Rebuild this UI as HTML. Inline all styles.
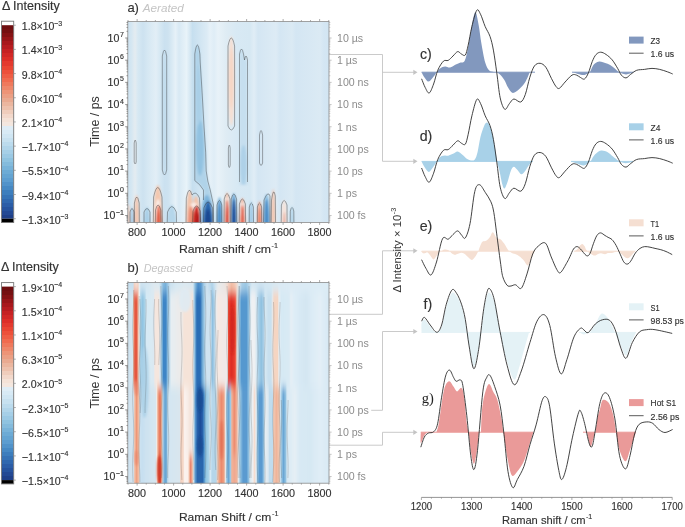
<!DOCTYPE html><html><head><meta charset="utf-8"><style>html,body{margin:0;padding:0;background:#fff;}body{width:685px;height:527px;overflow:hidden;font-family:"Liberation Sans", sans-serif;}</style></head><body><svg width="685" height="527" viewBox="0 0 685 527" style="display:block;will-change:transform">
<defs><filter id="blurV" x="-5%" y="-20%" width="110%" height="140%"><feGaussianBlur stdDeviation="0.5 5"/></filter><filter id="blur1" x="-50%" y="-50%" width="200%" height="200%"><feGaussianBlur stdDeviation="1.1"/></filter></defs>
<rect width="685" height="527" fill="#fff"/>
<text x="1.90" y="9.50" font-size="12.2" fill="#333" font-family='"Liberation Sans", sans-serif' textLength="57.9" lengthAdjust="spacingAndGlyphs" stroke="#333" stroke-width="0.15" >Δ Intensity</text>
<linearGradient id="cbg1" x1="0" y1="0" x2="0" y2="1"><stop offset="0.0000" stop-color="#6e0e10"/><stop offset="0.0208" stop-color="#6e0e10"/><stop offset="0.0208" stop-color="#751011"/><stop offset="0.0417" stop-color="#751011"/><stop offset="0.0417" stop-color="#851214"/><stop offset="0.0625" stop-color="#851214"/><stop offset="0.0625" stop-color="#981518"/><stop offset="0.0833" stop-color="#981518"/><stop offset="0.0833" stop-color="#a8181c"/><stop offset="0.1042" stop-color="#a8181c"/><stop offset="0.1042" stop-color="#b71c20"/><stop offset="0.1250" stop-color="#b71c20"/><stop offset="0.1250" stop-color="#c52123"/><stop offset="0.1458" stop-color="#c52123"/><stop offset="0.1458" stop-color="#d12726"/><stop offset="0.1667" stop-color="#d12726"/><stop offset="0.1667" stop-color="#dc2e28"/><stop offset="0.1875" stop-color="#dc2e28"/><stop offset="0.1875" stop-color="#e3392e"/><stop offset="0.2083" stop-color="#e3392e"/><stop offset="0.2083" stop-color="#e94533"/><stop offset="0.2292" stop-color="#e94533"/><stop offset="0.2292" stop-color="#ed513b"/><stop offset="0.2500" stop-color="#ed513b"/><stop offset="0.2500" stop-color="#ef5e45"/><stop offset="0.2708" stop-color="#ef5e45"/><stop offset="0.2708" stop-color="#f06b4f"/><stop offset="0.2917" stop-color="#f06b4f"/><stop offset="0.2917" stop-color="#ef795c"/><stop offset="0.3125" stop-color="#ef795c"/><stop offset="0.3125" stop-color="#ee876a"/><stop offset="0.3333" stop-color="#ee876a"/><stop offset="0.3333" stop-color="#ed9477"/><stop offset="0.3542" stop-color="#ed9477"/><stop offset="0.3542" stop-color="#eb9f84"/><stop offset="0.3750" stop-color="#eb9f84"/><stop offset="0.3750" stop-color="#e9aa91"/><stop offset="0.3958" stop-color="#e9aa91"/><stop offset="0.3958" stop-color="#ebb69f"/><stop offset="0.4167" stop-color="#ebb69f"/><stop offset="0.4167" stop-color="#edc1ad"/><stop offset="0.4375" stop-color="#edc1ad"/><stop offset="0.4375" stop-color="#efcdbc"/><stop offset="0.4583" stop-color="#efcdbc"/><stop offset="0.4583" stop-color="#f2d8cb"/><stop offset="0.4792" stop-color="#f2d8cb"/><stop offset="0.4792" stop-color="#f4e2d7"/><stop offset="0.5000" stop-color="#f4e2d7"/><stop offset="0.5000" stop-color="#f4e7df"/><stop offset="0.5208" stop-color="#f4e7df"/><stop offset="0.5208" stop-color="#dfedf6"/><stop offset="0.5417" stop-color="#dfedf6"/><stop offset="0.5417" stop-color="#d8eaf5"/><stop offset="0.5625" stop-color="#d8eaf5"/><stop offset="0.5625" stop-color="#d0e6f3"/><stop offset="0.5833" stop-color="#d0e6f3"/><stop offset="0.5833" stop-color="#c7e1f0"/><stop offset="0.6042" stop-color="#c7e1f0"/><stop offset="0.6042" stop-color="#bcdbed"/><stop offset="0.6250" stop-color="#bcdbed"/><stop offset="0.6250" stop-color="#b1d5ea"/><stop offset="0.6458" stop-color="#b1d5ea"/><stop offset="0.6458" stop-color="#a6cfe7"/><stop offset="0.6667" stop-color="#a6cfe7"/><stop offset="0.6667" stop-color="#9bc9e4"/><stop offset="0.6875" stop-color="#9bc9e4"/><stop offset="0.6875" stop-color="#8fc3e0"/><stop offset="0.7083" stop-color="#8fc3e0"/><stop offset="0.7083" stop-color="#84bbdc"/><stop offset="0.7292" stop-color="#84bbdc"/><stop offset="0.7292" stop-color="#78b3d9"/><stop offset="0.7500" stop-color="#78b3d9"/><stop offset="0.7500" stop-color="#6dabd5"/><stop offset="0.7708" stop-color="#6dabd5"/><stop offset="0.7708" stop-color="#64a4d2"/><stop offset="0.7917" stop-color="#64a4d2"/><stop offset="0.7917" stop-color="#5c9dd0"/><stop offset="0.8125" stop-color="#5c9dd0"/><stop offset="0.8125" stop-color="#5193ca"/><stop offset="0.8333" stop-color="#5193ca"/><stop offset="0.8333" stop-color="#4689c4"/><stop offset="0.8542" stop-color="#4689c4"/><stop offset="0.8542" stop-color="#3d7ebd"/><stop offset="0.8750" stop-color="#3d7ebd"/><stop offset="0.8750" stop-color="#3673b6"/><stop offset="0.8958" stop-color="#3673b6"/><stop offset="0.8958" stop-color="#3068af"/><stop offset="0.9167" stop-color="#3068af"/><stop offset="0.9167" stop-color="#2b5da7"/><stop offset="0.9375" stop-color="#2b5da7"/><stop offset="0.9375" stop-color="#26539e"/><stop offset="0.9583" stop-color="#26539e"/><stop offset="0.9583" stop-color="#234994"/><stop offset="0.9792" stop-color="#234994"/><stop offset="0.9792" stop-color="#1f4089"/><stop offset="1.0000" stop-color="#1f4089"/></linearGradient>
<rect x="1.5" y="21.20" width="12.2" height="201.30" fill="#fff"/>
<rect x="1.5" y="25.20" width="12.2" height="193.50" fill="url(#cbg1)"/>
<rect x="1.5" y="218.70" width="12.2" height="3.80" fill="#000"/>
<rect x="1.5" y="21.20" width="12.2" height="201.30" fill="none" stroke="#777" stroke-width="0.9"/>
<line x1="13.70" y1="25.20" x2="15.80" y2="25.20" stroke="#999" stroke-width="0.8" />
<text x="21.80" y="30.20" font-size="10.6" fill="#333" font-family='"Liberation Sans", sans-serif' stroke="#333" stroke-width="0.15" >1.8×10</text>
<text x="54.11" y="25.50" font-size="7.0" fill="#333" font-family='"Liberation Sans", sans-serif' stroke="#333" stroke-width="0.15" >−3</text>
<line x1="13.70" y1="49.39" x2="15.80" y2="49.39" stroke="#999" stroke-width="0.8" />
<text x="21.80" y="54.39" font-size="10.6" fill="#333" font-family='"Liberation Sans", sans-serif' stroke="#333" stroke-width="0.15" >1.4×10</text>
<text x="54.11" y="49.69" font-size="7.0" fill="#333" font-family='"Liberation Sans", sans-serif' stroke="#333" stroke-width="0.15" >−3</text>
<line x1="13.70" y1="73.58" x2="15.80" y2="73.58" stroke="#999" stroke-width="0.8" />
<text x="21.80" y="78.58" font-size="10.6" fill="#333" font-family='"Liberation Sans", sans-serif' stroke="#333" stroke-width="0.15" >9.8×10</text>
<text x="54.11" y="73.88" font-size="7.0" fill="#333" font-family='"Liberation Sans", sans-serif' stroke="#333" stroke-width="0.15" >−4</text>
<line x1="13.70" y1="97.76" x2="15.80" y2="97.76" stroke="#999" stroke-width="0.8" />
<text x="21.80" y="102.76" font-size="10.6" fill="#333" font-family='"Liberation Sans", sans-serif' stroke="#333" stroke-width="0.15" >6.0×10</text>
<text x="54.11" y="98.06" font-size="7.0" fill="#333" font-family='"Liberation Sans", sans-serif' stroke="#333" stroke-width="0.15" >−4</text>
<line x1="13.70" y1="121.95" x2="15.80" y2="121.95" stroke="#999" stroke-width="0.8" />
<text x="21.80" y="126.95" font-size="10.6" fill="#333" font-family='"Liberation Sans", sans-serif' stroke="#333" stroke-width="0.15" >2.1×10</text>
<text x="54.11" y="122.25" font-size="7.0" fill="#333" font-family='"Liberation Sans", sans-serif' stroke="#333" stroke-width="0.15" >−4</text>
<line x1="13.70" y1="146.14" x2="15.80" y2="146.14" stroke="#999" stroke-width="0.8" />
<text x="21.80" y="151.14" font-size="10.6" fill="#333" font-family='"Liberation Sans", sans-serif' stroke="#333" stroke-width="0.15" >−1.7×10</text>
<text x="60.30" y="146.44" font-size="7.0" fill="#333" font-family='"Liberation Sans", sans-serif' stroke="#333" stroke-width="0.15" >−4</text>
<line x1="13.70" y1="170.32" x2="15.80" y2="170.32" stroke="#999" stroke-width="0.8" />
<text x="21.80" y="175.32" font-size="10.6" fill="#333" font-family='"Liberation Sans", sans-serif' stroke="#333" stroke-width="0.15" >−5.5×10</text>
<text x="60.30" y="170.62" font-size="7.0" fill="#333" font-family='"Liberation Sans", sans-serif' stroke="#333" stroke-width="0.15" >−4</text>
<line x1="13.70" y1="194.51" x2="15.80" y2="194.51" stroke="#999" stroke-width="0.8" />
<text x="21.80" y="199.51" font-size="10.6" fill="#333" font-family='"Liberation Sans", sans-serif' stroke="#333" stroke-width="0.15" >−9.4×10</text>
<text x="60.30" y="194.81" font-size="7.0" fill="#333" font-family='"Liberation Sans", sans-serif' stroke="#333" stroke-width="0.15" >−4</text>
<line x1="13.70" y1="218.70" x2="15.80" y2="218.70" stroke="#999" stroke-width="0.8" />
<text x="21.80" y="223.70" font-size="10.6" fill="#333" font-family='"Liberation Sans", sans-serif' stroke="#333" stroke-width="0.15" >−1.3×10</text>
<text x="60.30" y="219.00" font-size="7.0" fill="#333" font-family='"Liberation Sans", sans-serif' stroke="#333" stroke-width="0.15" >−3</text>
<text x="0.90" y="270.60" font-size="12.2" fill="#333" font-family='"Liberation Sans", sans-serif' textLength="57.9" lengthAdjust="spacingAndGlyphs" stroke="#333" stroke-width="0.15" >Δ Intensity</text>
<linearGradient id="cbg2" x1="0" y1="0" x2="0" y2="1"><stop offset="0.0000" stop-color="#6e0e10"/><stop offset="0.0208" stop-color="#6e0e10"/><stop offset="0.0208" stop-color="#751011"/><stop offset="0.0417" stop-color="#751011"/><stop offset="0.0417" stop-color="#851214"/><stop offset="0.0625" stop-color="#851214"/><stop offset="0.0625" stop-color="#981518"/><stop offset="0.0833" stop-color="#981518"/><stop offset="0.0833" stop-color="#a8181c"/><stop offset="0.1042" stop-color="#a8181c"/><stop offset="0.1042" stop-color="#b71c20"/><stop offset="0.1250" stop-color="#b71c20"/><stop offset="0.1250" stop-color="#c52123"/><stop offset="0.1458" stop-color="#c52123"/><stop offset="0.1458" stop-color="#d12726"/><stop offset="0.1667" stop-color="#d12726"/><stop offset="0.1667" stop-color="#dc2e28"/><stop offset="0.1875" stop-color="#dc2e28"/><stop offset="0.1875" stop-color="#e3392e"/><stop offset="0.2083" stop-color="#e3392e"/><stop offset="0.2083" stop-color="#e94533"/><stop offset="0.2292" stop-color="#e94533"/><stop offset="0.2292" stop-color="#ed513b"/><stop offset="0.2500" stop-color="#ed513b"/><stop offset="0.2500" stop-color="#ef5e45"/><stop offset="0.2708" stop-color="#ef5e45"/><stop offset="0.2708" stop-color="#f06b4f"/><stop offset="0.2917" stop-color="#f06b4f"/><stop offset="0.2917" stop-color="#ef795c"/><stop offset="0.3125" stop-color="#ef795c"/><stop offset="0.3125" stop-color="#ee876a"/><stop offset="0.3333" stop-color="#ee876a"/><stop offset="0.3333" stop-color="#ed9477"/><stop offset="0.3542" stop-color="#ed9477"/><stop offset="0.3542" stop-color="#eb9f84"/><stop offset="0.3750" stop-color="#eb9f84"/><stop offset="0.3750" stop-color="#e9aa91"/><stop offset="0.3958" stop-color="#e9aa91"/><stop offset="0.3958" stop-color="#ebb69f"/><stop offset="0.4167" stop-color="#ebb69f"/><stop offset="0.4167" stop-color="#edc1ad"/><stop offset="0.4375" stop-color="#edc1ad"/><stop offset="0.4375" stop-color="#efcdbc"/><stop offset="0.4583" stop-color="#efcdbc"/><stop offset="0.4583" stop-color="#f2d8cb"/><stop offset="0.4792" stop-color="#f2d8cb"/><stop offset="0.4792" stop-color="#f4e2d7"/><stop offset="0.5000" stop-color="#f4e2d7"/><stop offset="0.5000" stop-color="#f4e7df"/><stop offset="0.5208" stop-color="#f4e7df"/><stop offset="0.5208" stop-color="#dfedf6"/><stop offset="0.5417" stop-color="#dfedf6"/><stop offset="0.5417" stop-color="#d8eaf5"/><stop offset="0.5625" stop-color="#d8eaf5"/><stop offset="0.5625" stop-color="#d0e6f3"/><stop offset="0.5833" stop-color="#d0e6f3"/><stop offset="0.5833" stop-color="#c7e1f0"/><stop offset="0.6042" stop-color="#c7e1f0"/><stop offset="0.6042" stop-color="#bcdbed"/><stop offset="0.6250" stop-color="#bcdbed"/><stop offset="0.6250" stop-color="#b1d5ea"/><stop offset="0.6458" stop-color="#b1d5ea"/><stop offset="0.6458" stop-color="#a6cfe7"/><stop offset="0.6667" stop-color="#a6cfe7"/><stop offset="0.6667" stop-color="#9bc9e4"/><stop offset="0.6875" stop-color="#9bc9e4"/><stop offset="0.6875" stop-color="#8fc3e0"/><stop offset="0.7083" stop-color="#8fc3e0"/><stop offset="0.7083" stop-color="#84bbdc"/><stop offset="0.7292" stop-color="#84bbdc"/><stop offset="0.7292" stop-color="#78b3d9"/><stop offset="0.7500" stop-color="#78b3d9"/><stop offset="0.7500" stop-color="#6dabd5"/><stop offset="0.7708" stop-color="#6dabd5"/><stop offset="0.7708" stop-color="#64a4d2"/><stop offset="0.7917" stop-color="#64a4d2"/><stop offset="0.7917" stop-color="#5c9dd0"/><stop offset="0.8125" stop-color="#5c9dd0"/><stop offset="0.8125" stop-color="#5193ca"/><stop offset="0.8333" stop-color="#5193ca"/><stop offset="0.8333" stop-color="#4689c4"/><stop offset="0.8542" stop-color="#4689c4"/><stop offset="0.8542" stop-color="#3d7ebd"/><stop offset="0.8750" stop-color="#3d7ebd"/><stop offset="0.8750" stop-color="#3673b6"/><stop offset="0.8958" stop-color="#3673b6"/><stop offset="0.8958" stop-color="#3068af"/><stop offset="0.9167" stop-color="#3068af"/><stop offset="0.9167" stop-color="#2b5da7"/><stop offset="0.9375" stop-color="#2b5da7"/><stop offset="0.9375" stop-color="#26539e"/><stop offset="0.9583" stop-color="#26539e"/><stop offset="0.9583" stop-color="#234994"/><stop offset="0.9792" stop-color="#234994"/><stop offset="0.9792" stop-color="#1f4089"/><stop offset="1.0000" stop-color="#1f4089"/></linearGradient>
<rect x="1.5" y="282.60" width="12.2" height="201.30" fill="#fff"/>
<rect x="1.5" y="286.60" width="12.2" height="193.50" fill="url(#cbg2)"/>
<rect x="1.5" y="480.10" width="12.2" height="3.80" fill="#000"/>
<rect x="1.5" y="282.60" width="12.2" height="201.30" fill="none" stroke="#777" stroke-width="0.9"/>
<line x1="13.70" y1="286.60" x2="15.80" y2="286.60" stroke="#999" stroke-width="0.8" />
<text x="21.80" y="291.60" font-size="10.6" fill="#333" font-family='"Liberation Sans", sans-serif' stroke="#333" stroke-width="0.15" >1.9×10</text>
<text x="54.11" y="286.90" font-size="7.0" fill="#333" font-family='"Liberation Sans", sans-serif' stroke="#333" stroke-width="0.15" >−4</text>
<line x1="13.70" y1="310.79" x2="15.80" y2="310.79" stroke="#999" stroke-width="0.8" />
<text x="21.80" y="315.79" font-size="10.6" fill="#333" font-family='"Liberation Sans", sans-serif' stroke="#333" stroke-width="0.15" >1.5×10</text>
<text x="54.11" y="311.09" font-size="7.0" fill="#333" font-family='"Liberation Sans", sans-serif' stroke="#333" stroke-width="0.15" >−4</text>
<line x1="13.70" y1="334.98" x2="15.80" y2="334.98" stroke="#999" stroke-width="0.8" />
<text x="21.80" y="339.98" font-size="10.6" fill="#333" font-family='"Liberation Sans", sans-serif' stroke="#333" stroke-width="0.15" >1.1×10</text>
<text x="54.11" y="335.28" font-size="7.0" fill="#333" font-family='"Liberation Sans", sans-serif' stroke="#333" stroke-width="0.15" >−4</text>
<line x1="13.70" y1="359.16" x2="15.80" y2="359.16" stroke="#999" stroke-width="0.8" />
<text x="21.80" y="364.16" font-size="10.6" fill="#333" font-family='"Liberation Sans", sans-serif' stroke="#333" stroke-width="0.15" >6.3×10</text>
<text x="54.11" y="359.46" font-size="7.0" fill="#333" font-family='"Liberation Sans", sans-serif' stroke="#333" stroke-width="0.15" >−5</text>
<line x1="13.70" y1="383.35" x2="15.80" y2="383.35" stroke="#999" stroke-width="0.8" />
<text x="21.80" y="388.35" font-size="10.6" fill="#333" font-family='"Liberation Sans", sans-serif' stroke="#333" stroke-width="0.15" >2.0×10</text>
<text x="54.11" y="383.65" font-size="7.0" fill="#333" font-family='"Liberation Sans", sans-serif' stroke="#333" stroke-width="0.15" >−5</text>
<line x1="13.70" y1="407.54" x2="15.80" y2="407.54" stroke="#999" stroke-width="0.8" />
<text x="21.80" y="412.54" font-size="10.6" fill="#333" font-family='"Liberation Sans", sans-serif' stroke="#333" stroke-width="0.15" >−2.3×10</text>
<text x="60.30" y="407.84" font-size="7.0" fill="#333" font-family='"Liberation Sans", sans-serif' stroke="#333" stroke-width="0.15" >−5</text>
<line x1="13.70" y1="431.73" x2="15.80" y2="431.73" stroke="#999" stroke-width="0.8" />
<text x="21.80" y="436.73" font-size="10.6" fill="#333" font-family='"Liberation Sans", sans-serif' stroke="#333" stroke-width="0.15" >−6.5×10</text>
<text x="60.30" y="432.03" font-size="7.0" fill="#333" font-family='"Liberation Sans", sans-serif' stroke="#333" stroke-width="0.15" >−5</text>
<line x1="13.70" y1="455.91" x2="15.80" y2="455.91" stroke="#999" stroke-width="0.8" />
<text x="21.80" y="460.91" font-size="10.6" fill="#333" font-family='"Liberation Sans", sans-serif' stroke="#333" stroke-width="0.15" >−1.1×10</text>
<text x="60.30" y="456.21" font-size="7.0" fill="#333" font-family='"Liberation Sans", sans-serif' stroke="#333" stroke-width="0.15" >−4</text>
<line x1="13.70" y1="480.10" x2="15.80" y2="480.10" stroke="#999" stroke-width="0.8" />
<text x="21.80" y="485.10" font-size="10.6" fill="#333" font-family='"Liberation Sans", sans-serif' stroke="#333" stroke-width="0.15" >−1.5×10</text>
<text x="60.30" y="480.40" font-size="7.0" fill="#333" font-family='"Liberation Sans", sans-serif' stroke="#333" stroke-width="0.15" >−4</text>
<clipPath id="clipA"><rect x="127.8" y="21.4" width="201.2" height="201.1"/></clipPath>
<linearGradient id="gaU" gradientUnits="userSpaceOnUse" x1="127.8" y1="0" x2="329.0" y2="0"><stop offset="0.0000" stop-color="#cfe3f1"/><stop offset="0.0159" stop-color="#d3e6f2"/><stop offset="0.0358" stop-color="#e4ecf1"/><stop offset="0.0507" stop-color="#d6e8f3"/><stop offset="0.0755" stop-color="#cde2f0"/><stop offset="0.1004" stop-color="#d6e8f3"/><stop offset="0.1402" stop-color="#e2eef6"/><stop offset="0.1600" stop-color="#d6e8f3"/><stop offset="0.1824" stop-color="#cbe1f0"/><stop offset="0.1998" stop-color="#cde2f0"/><stop offset="0.2147" stop-color="#d6e8f3"/><stop offset="0.2371" stop-color="#e6f1f8"/><stop offset="0.2545" stop-color="#d8e9f4"/><stop offset="0.2917" stop-color="#e8f3f9"/><stop offset="0.3091" stop-color="#d6e8f3"/><stop offset="0.3216" stop-color="#c6dfef"/><stop offset="0.3936" stop-color="#dcebf5"/><stop offset="0.4085" stop-color="#e6f1f8"/><stop offset="0.4284" stop-color="#dfedf6"/><stop offset="0.4483" stop-color="#e8f2f8"/><stop offset="0.4881" stop-color="#dfecf4"/><stop offset="0.5378" stop-color="#d8e9f4"/><stop offset="0.6074" stop-color="#d6e8f3"/><stop offset="0.6272" stop-color="#e0edf6"/><stop offset="0.6471" stop-color="#d4e6f3"/><stop offset="0.7366" stop-color="#ddebf5"/><stop offset="0.7565" stop-color="#d4e6f3"/><stop offset="0.8161" stop-color="#dbeaf4"/><stop offset="0.8360" stop-color="#d4e6f3"/><stop offset="0.9553" stop-color="#dbeaf4"/><stop offset="0.9751" stop-color="#d4e6f3"/><stop offset="1.0000" stop-color="#d2e5f2"/></linearGradient>
<g clip-path="url(#clipA)">
<rect x="127.8" y="21.4" width="201.2" height="201.1" fill="url(#gaU)"/>
<g filter="url(#blur1)">
<ellipse cx="164.5" cy="112" rx="2.6" ry="63" fill="#c3ddee"/>
<path d="M194.8,180.6 L194.8,54 Q197.4,36 199.9,54 L200.2,62 L202.2,94 L204,126 L205.7,152.7 L206.2,171 Q207.5,182 210.2,189.8 L213.5,205 L213.5,226 L203.5,226 L203.5,190 Q200,184 194.8,180.6 Z" fill="#b0d3e9"/>
<ellipse cx="200" cy="148" rx="4.0" ry="28" fill="#92c2e1"/>
<ellipse cx="198.5" cy="95" rx="2.6" ry="30" fill="#a9cfe7"/>
<ellipse cx="231.3" cy="81" rx="3.4" ry="45" fill="#f5dfd3"/>
<ellipse cx="231.3" cy="78" rx="2.0" ry="30" fill="#f6d6c4"/>
<path d="M239.5,185 L239.5,54 Q241.5,44 243.5,54 L247,62 L247.5,185 Z" fill="#c6dfef"/>
<ellipse cx="243.5" cy="165" rx="3.5" ry="20" fill="#aed1e8"/>
<ellipse cx="128.45" cy="226.00" rx="1.95" ry="22.00" fill="#f1d2c2" opacity="1.0"/>
<ellipse cx="132.00" cy="226.00" rx="2.00" ry="19.00" fill="#a6cce6" opacity="1.0"/>
<ellipse cx="136.75" cy="226.00" rx="2.75" ry="31.00" fill="#f1c8b4" opacity="1.0"/>
<ellipse cx="147.00" cy="226.00" rx="3.00" ry="19.00" fill="#a9cfe7" opacity="1.0"/>
<ellipse cx="157.85" cy="226.00" rx="4.65" ry="41.00" fill="#f3c8b0" opacity="1.0"/>
<ellipse cx="158.00" cy="226.00" rx="3.60" ry="27.00" fill="#faeee8" opacity="1.0"/>
<ellipse cx="158.60" cy="226.00" rx="3.00" ry="21.00" fill="#e8765c" opacity="1.0"/>
<ellipse cx="158.75" cy="226.00" rx="1.75" ry="14.00" fill="#e06048" opacity="1.0"/>
<ellipse cx="171.75" cy="226.00" rx="4.75" ry="21.00" fill="#b5d6ea" opacity="1.0"/>
<ellipse cx="189.75" cy="226.00" rx="3.75" ry="35.60" fill="#f3c4ab" opacity="1.0"/>
<ellipse cx="196.00" cy="226.00" rx="4.50" ry="30.00" fill="#f3c4ab" opacity="1.0"/>
<ellipse cx="193.90" cy="226.00" rx="7.10" ry="23.50" fill="#faeee8" opacity="1.0"/>
<ellipse cx="190.95" cy="226.00" rx="3.55" ry="20.00" fill="#ec8f73" opacity="1.0"/>
<ellipse cx="196.50" cy="226.00" rx="4.00" ry="20.30" fill="#d0302a" opacity="1.0"/>
<ellipse cx="197.30" cy="226.00" rx="2.50" ry="14.00" fill="#b51d1d" opacity="1.0"/>
<ellipse cx="206.75" cy="226.00" rx="6.25" ry="31.00" fill="#7fb5dc" opacity="1.0"/>
<ellipse cx="208.10" cy="226.00" rx="4.90" ry="25.00" fill="#2a66ad" opacity="1.0"/>
<ellipse cx="208.00" cy="226.00" rx="3.00" ry="17.00" fill="#1b4790" opacity="1.0"/>
<ellipse cx="219.50" cy="226.00" rx="3.50" ry="29.00" fill="#8fc0e0" opacity="1.0"/>
<ellipse cx="219.50" cy="226.00" rx="2.10" ry="25.00" fill="#4a8cc8" opacity="1.0"/>
<ellipse cx="227.05" cy="226.00" rx="3.15" ry="33.80" fill="#f2c0a8" opacity="1.0"/>
<ellipse cx="227.10" cy="226.00" rx="2.50" ry="29.00" fill="#faeee8" opacity="1.0"/>
<ellipse cx="227.15" cy="226.00" rx="1.85" ry="26.00" fill="#d8402f" opacity="1.0"/>
<ellipse cx="233.80" cy="226.00" rx="3.00" ry="33.00" fill="#6aa6d4" opacity="1.0"/>
<ellipse cx="233.90" cy="226.00" rx="2.10" ry="27.00" fill="#1f4e9a" opacity="1.0"/>
<ellipse cx="242.35" cy="226.00" rx="3.35" ry="28.00" fill="#f3b59d" opacity="1.0"/>
<ellipse cx="242.40" cy="226.00" rx="2.60" ry="24.00" fill="#faeee8" opacity="1.0"/>
<ellipse cx="242.50" cy="226.00" rx="2.00" ry="21.00" fill="#e05a42" opacity="1.0"/>
<ellipse cx="251.30" cy="226.00" rx="2.30" ry="25.00" fill="#a3cbe6" opacity="1.0"/>
<ellipse cx="259.50" cy="226.00" rx="2.50" ry="25.00" fill="#f0a88e" opacity="1.0"/>
<ellipse cx="259.55" cy="226.00" rx="1.25" ry="18.00" fill="#e57a60" opacity="1.0"/>
<ellipse cx="266.60" cy="226.00" rx="3.60" ry="32.00" fill="#8fc0e0" opacity="1.0"/>
<ellipse cx="266.65" cy="226.00" rx="2.35" ry="27.00" fill="#4a8cc8" opacity="1.0"/>
<ellipse cx="273.30" cy="226.00" rx="2.10" ry="37.00" fill="#f3c6b0" opacity="1.0"/>
<ellipse cx="284.10" cy="226.00" rx="3.10" ry="26.00" fill="#f6e3da" opacity="1.0"/>
<ellipse cx="284.40" cy="226.00" rx="0.80" ry="14.00" fill="#e08a76" opacity="1.0"/>
<ellipse cx="292.00" cy="226.00" rx="2.00" ry="20.00" fill="#b3d5ea" opacity="1.0"/>
</g>
<path d="M162.3,170 L162.3,56 Q164.5,44 166.7,56 L166.7,170 Q164.5,180 162.3,170 Z" fill="none" stroke="#2a2a2a" stroke-width="0.5" opacity="0.8"/>
<path d="M134.3,223 L134.4,203 Q136.7,191 139.2,203 L139.3,223" fill="none" stroke="#2a2a2a" stroke-width="0.5" opacity="0.8"/>
<path d="M194.8,180.6 L194.8,54 Q197.4,36 199.9,54 L200.2,62 L202.2,94 L204,126 L205.7,152.7 L206.2,171 Q207.5,182 210.2,189.8 L213.5,205 L213.5,223" fill="none" stroke="#2a2a2a" stroke-width="0.5" opacity="0.8"/>
<path d="M194.8,180.6 Q200,184 203.5,190 L203.5,200" fill="none" stroke="#2a2a2a" stroke-width="0.5" opacity="0.8"/>
<path d="M228,126 L228,46 Q231.3,30 234.6,46 L234.6,126 Q231.3,134 228,126 Z" fill="none" stroke="#2a2a2a" stroke-width="0.5" opacity="0.8"/>
<path d="M239.5,182 L239.5,54 Q241.5,44 243.5,54 L244.5,60 Q246,52 247.5,60 L247.5,182" fill="none" stroke="#2a2a2a" stroke-width="0.5" opacity="0.8"/>
<path d="M259.5,163 L259.5,135 Q261,126 262.6,135 L262.6,163 Q261,168 259.5,163 Z" fill="none" stroke="#2a2a2a" stroke-width="0.5" opacity="0.8"/>
<path d="M228.4,165 L228.4,148 Q229.3,142 230.2,148 L230.2,165 Q229.3,170 228.4,165 Z" fill="none" stroke="#2a2a2a" stroke-width="0.5" opacity="0.8"/>
<path d="M134.2,162 L134.2,143 Q135.2,137 136.2,143 L136.2,162 Q135.2,166 134.2,162 Z" fill="none" stroke="#2a2a2a" stroke-width="0.5" opacity="0.8"/>
<path d="M153.3,223 L153.6,197 Q157.7,178 162,197 L162.4,223" fill="none" stroke="#2a2a2a" stroke-width="0.5" opacity="0.8"/>
<path d="M155.3,223 L155.5,210 Q158,200 160.8,210 L161,223" fill="none" stroke="#2a2a2a" stroke-width="0.5" opacity="0.8"/>
<path d="M186,223 L186.3,198 Q189,184 192,195 Q196,190 199.5,198 L200.5,223" fill="none" stroke="#2a2a2a" stroke-width="0.5" opacity="0.8"/>
<path d="M192.6,223 L193,211 Q196.5,201 200.2,211 L200.4,223" fill="none" stroke="#2a2a2a" stroke-width="0.5" opacity="0.8"/>
<path d="M167.2,223 L167.5,212 Q171.8,201 176.3,212 L176.5,223" fill="none" stroke="#2a2a2a" stroke-width="0.5" opacity="0.8"/>
<path d="M130,223 L130,212 Q132,205 134,212 L134,223" fill="none" stroke="#2a2a2a" stroke-width="0.5" opacity="0.8"/>
<path d="M144,223 L144,212 Q147,205 150,212 L150,223" fill="none" stroke="#2a2a2a" stroke-width="0.5" opacity="0.8"/>
<path d="M203.5,223 L203.8,208 Q208,196 212.6,208 L212.8,223" fill="none" stroke="#2a2a2a" stroke-width="0.5" opacity="0.8"/>
<path d="M217,223 L217,205 Q219.4,196 221.8,205 L221.8,223" fill="none" stroke="#2a2a2a" stroke-width="0.5" opacity="0.8"/>
<path d="M224,223 L224.2,199 Q227,188 230,199 L230.2,223" fill="none" stroke="#2a2a2a" stroke-width="0.5" opacity="0.8"/>
<path d="M231,223 L231.2,199 Q233.8,189 236.6,199 L236.8,223" fill="none" stroke="#2a2a2a" stroke-width="0.5" opacity="0.8"/>
<path d="M239.2,223 L239.4,204 Q242.3,194 245.4,204 L245.6,223" fill="none" stroke="#2a2a2a" stroke-width="0.5" opacity="0.8"/>
<path d="M249.2,223 L249.3,207 Q251.3,199 253.4,207 L253.5,223" fill="none" stroke="#2a2a2a" stroke-width="0.5" opacity="0.8"/>
<path d="M257.3,223 L257.4,207 Q259.5,199 261.6,207 L261.7,223" fill="none" stroke="#2a2a2a" stroke-width="0.5" opacity="0.8"/>
<path d="M263.5,223 L264,200 Q268,190 270,196 L270,223" fill="none" stroke="#2a2a2a" stroke-width="0.5" opacity="0.8"/>
<path d="M281.2,223 L281.4,205 Q284.1,196 287,205 L287.1,223" fill="none" stroke="#2a2a2a" stroke-width="0.5" opacity="0.8"/>
<path d="M271.2,223 L271.5,200 Q273.5,186 275.3,196 L275.5,223" fill="none" stroke="#2a2a2a" stroke-width="0.5" opacity="0.8"/>
<path d="M290.2,223 L290.3,211 Q292,204 293.8,211 L293.9,223" fill="none" stroke="#2a2a2a" stroke-width="0.5" opacity="0.8"/>
</g>
<clipPath id="clipB"><rect x="127.8" y="282.4" width="201.2" height="200.8"/></clipPath>
<linearGradient id="gbT" gradientUnits="userSpaceOnUse" x1="127.8" y1="0" x2="329.0" y2="0"><stop offset="0.0010" stop-color="#c9e1f0"/><stop offset="0.0258" stop-color="#c6dff0"/><stop offset="0.0333" stop-color="#f3d6c8"/><stop offset="0.0422" stop-color="#f6e0d5"/><stop offset="0.0507" stop-color="#f3d6c8"/><stop offset="0.0582" stop-color="#e3edf4"/><stop offset="0.0656" stop-color="#cfe3f1"/><stop offset="0.1004" stop-color="#d3e6f2"/><stop offset="0.1302" stop-color="#dde9f1"/><stop offset="0.1551" stop-color="#dbeaf3"/><stop offset="0.1650" stop-color="#bcd9ec"/><stop offset="0.1750" stop-color="#8abde0"/><stop offset="0.1874" stop-color="#7ab3dc"/><stop offset="0.1998" stop-color="#9fc9e5"/><stop offset="0.2097" stop-color="#c9e0ef"/><stop offset="0.2396" stop-color="#d6e8f3"/><stop offset="0.2843" stop-color="#dbe9f2"/><stop offset="0.3241" stop-color="#d6e8f3"/><stop offset="0.3340" stop-color="#8fc0e0"/><stop offset="0.3489" stop-color="#4a8cc8"/><stop offset="0.3638" stop-color="#5a9ad0"/><stop offset="0.3787" stop-color="#a9cfe7"/><stop offset="0.3936" stop-color="#cfe3f1"/><stop offset="0.4185" stop-color="#b0d3e9"/><stop offset="0.4284" stop-color="#c6dff0"/><stop offset="0.4483" stop-color="#e6ebee"/><stop offset="0.4831" stop-color="#ebe4e1"/><stop offset="0.4980" stop-color="#f3d6c8"/><stop offset="0.5154" stop-color="#f2c0a8"/><stop offset="0.5278" stop-color="#f3c8b2"/><stop offset="0.5427" stop-color="#f1dcd0"/><stop offset="0.5527" stop-color="#dce9f2"/><stop offset="0.5676" stop-color="#a9cfe7"/><stop offset="0.5875" stop-color="#9dc9e5"/><stop offset="0.6024" stop-color="#b9d8ec"/><stop offset="0.6173" stop-color="#d6e8f3"/><stop offset="0.6571" stop-color="#cfe3f1"/><stop offset="0.7167" stop-color="#d6e8f3"/><stop offset="0.7565" stop-color="#dbeaf4"/><stop offset="0.8559" stop-color="#dcebf5"/><stop offset="1.0000" stop-color="#dcecf5"/></linearGradient>
<linearGradient id="gbU" gradientUnits="userSpaceOnUse" x1="127.8" y1="0" x2="329.0" y2="0"><stop offset="0.0025" stop-color="#cfe3f1"/><stop offset="0.0234" stop-color="#d6e6ef"/><stop offset="0.0273" stop-color="#f2c0a8"/><stop offset="0.0348" stop-color="#e5583f"/><stop offset="0.0452" stop-color="#e5583f"/><stop offset="0.0517" stop-color="#f2c0a8"/><stop offset="0.0577" stop-color="#f4f1f0"/><stop offset="0.0636" stop-color="#a9d2e8"/><stop offset="0.0741" stop-color="#8fc4e2"/><stop offset="0.0845" stop-color="#a9d2e8"/><stop offset="0.0929" stop-color="#d6eaf5"/><stop offset="0.1277" stop-color="#dbe9f2"/><stop offset="0.1352" stop-color="#f5e6de"/><stop offset="0.1541" stop-color="#f5e6de"/><stop offset="0.1600" stop-color="#dceaf3"/><stop offset="0.1690" stop-color="#8fc0e0"/><stop offset="0.1774" stop-color="#3d85c6"/><stop offset="0.1899" stop-color="#3d85c6"/><stop offset="0.1983" stop-color="#8fc0e0"/><stop offset="0.2073" stop-color="#bcd9ec"/><stop offset="0.2147" stop-color="#e6eef3"/><stop offset="0.2694" stop-color="#ede9e7"/><stop offset="0.2793" stop-color="#f5e3d8"/><stop offset="0.3216" stop-color="#f5e3d8"/><stop offset="0.3280" stop-color="#c0dcee"/><stop offset="0.3355" stop-color="#6aa6d4"/><stop offset="0.3429" stop-color="#2a6db5"/><stop offset="0.3603" stop-color="#2a6db5"/><stop offset="0.3698" stop-color="#6aa6d4"/><stop offset="0.3817" stop-color="#a9cfe7"/><stop offset="0.3887" stop-color="#cfe3f1"/><stop offset="0.4110" stop-color="#cfe3f1"/><stop offset="0.4210" stop-color="#8fc0e0"/><stop offset="0.4294" stop-color="#a9cfe7"/><stop offset="0.4384" stop-color="#e9edf0"/><stop offset="0.4483" stop-color="#f6e9e2"/><stop offset="0.4906" stop-color="#efe9e9"/><stop offset="0.4960" stop-color="#eee2df"/><stop offset="0.5000" stop-color="#e8503a"/><stop offset="0.5070" stop-color="#e8352a"/><stop offset="0.5144" stop-color="#dc2c25"/><stop offset="0.5293" stop-color="#e83a2c"/><stop offset="0.5368" stop-color="#f06a50"/><stop offset="0.5417" stop-color="#dcd4d0"/><stop offset="0.5497" stop-color="#c8dde9"/><stop offset="0.5557" stop-color="#8dbfe0"/><stop offset="0.5651" stop-color="#5598cf"/><stop offset="0.5900" stop-color="#5598cf"/><stop offset="0.6014" stop-color="#8dbfe0"/><stop offset="0.6088" stop-color="#d6e8f3"/><stop offset="0.6163" stop-color="#f0f2f4"/><stop offset="0.6312" stop-color="#eef0f2"/><stop offset="0.6397" stop-color="#d6e8f3"/><stop offset="0.6501" stop-color="#a9cfe7"/><stop offset="0.6635" stop-color="#8dc0e0"/><stop offset="0.6750" stop-color="#a9cfe7"/><stop offset="0.6819" stop-color="#d6e8f3"/><stop offset="0.6993" stop-color="#c8e0ef"/><stop offset="0.7117" stop-color="#c8e0ef"/><stop offset="0.7197" stop-color="#e8e6e6"/><stop offset="0.7266" stop-color="#f5d5c2"/><stop offset="0.7440" stop-color="#f5d5c2"/><stop offset="0.7515" stop-color="#e6eef3"/><stop offset="0.7634" stop-color="#d6e9f4"/><stop offset="0.8012" stop-color="#d9eaf4"/><stop offset="0.8111" stop-color="#e6eff5"/><stop offset="0.8260" stop-color="#dfedf6"/><stop offset="0.8559" stop-color="#d8e9f4"/><stop offset="0.8857" stop-color="#d3e6f2"/><stop offset="0.9155" stop-color="#dcebf5"/><stop offset="0.9553" stop-color="#e3eff7"/><stop offset="0.9801" stop-color="#dcebf5"/><stop offset="1.0000" stop-color="#d6e8f3"/></linearGradient>
<linearGradient id="gbL" gradientUnits="userSpaceOnUse" x1="127.8" y1="0" x2="329.0" y2="0"><stop offset="0.0025" stop-color="#cfe3f1"/><stop offset="0.0283" stop-color="#d3e3ee"/><stop offset="0.0338" stop-color="#f2c0a8"/><stop offset="0.0437" stop-color="#ef9474"/><stop offset="0.0547" stop-color="#f2c0a8"/><stop offset="0.0606" stop-color="#cde2f0"/><stop offset="0.0706" stop-color="#c6dff0"/><stop offset="0.0905" stop-color="#cde2f0"/><stop offset="0.1377" stop-color="#d6e6f0"/><stop offset="0.1441" stop-color="#f4ece8"/><stop offset="0.1481" stop-color="#f0b49a"/><stop offset="0.1561" stop-color="#ea7c5f"/><stop offset="0.1620" stop-color="#ea7c5f"/><stop offset="0.1680" stop-color="#f0b49a"/><stop offset="0.1750" stop-color="#a9cfe7"/><stop offset="0.1839" stop-color="#6aa6d4"/><stop offset="0.1914" stop-color="#6aa6d4"/><stop offset="0.1973" stop-color="#b5d6ea"/><stop offset="0.2048" stop-color="#d3e6f2"/><stop offset="0.2570" stop-color="#d9e6ee"/><stop offset="0.2634" stop-color="#f3d0be"/><stop offset="0.2758" stop-color="#f5d9c9"/><stop offset="0.2823" stop-color="#fbf3ef"/><stop offset="0.2992" stop-color="#f7ece6"/><stop offset="0.3067" stop-color="#f5e6de"/><stop offset="0.3121" stop-color="#f5e4dc"/><stop offset="0.3206" stop-color="#f3e8e4"/><stop offset="0.3270" stop-color="#dcecf4"/><stop offset="0.3350" stop-color="#5a9ad0"/><stop offset="0.3464" stop-color="#2560aa"/><stop offset="0.3603" stop-color="#1a4c98"/><stop offset="0.3713" stop-color="#2560aa"/><stop offset="0.3787" stop-color="#4a8cc8"/><stop offset="0.3877" stop-color="#8fc4e2"/><stop offset="0.4011" stop-color="#a9d2e8"/><stop offset="0.4110" stop-color="#d6eaf5"/><stop offset="0.4185" stop-color="#b5d6ea"/><stop offset="0.4384" stop-color="#b5d6ea"/><stop offset="0.4458" stop-color="#f0d0c0"/><stop offset="0.4558" stop-color="#f0a080"/><stop offset="0.4657" stop-color="#ec8a6e"/><stop offset="0.4781" stop-color="#f0a080"/><stop offset="0.4856" stop-color="#e8e6e6"/><stop offset="0.4911" stop-color="#9dc9e5"/><stop offset="0.5005" stop-color="#6aa6d4"/><stop offset="0.5104" stop-color="#9dc9e5"/><stop offset="0.5169" stop-color="#f0b49a"/><stop offset="0.5293" stop-color="#ec8a6e"/><stop offset="0.5427" stop-color="#f0b49a"/><stop offset="0.5497" stop-color="#e9edf0"/><stop offset="0.5606" stop-color="#8dbfe0"/><stop offset="0.5726" stop-color="#5a9ad0"/><stop offset="0.5900" stop-color="#5a9ad0"/><stop offset="0.6004" stop-color="#8dbfe0"/><stop offset="0.6074" stop-color="#d6e8f3"/><stop offset="0.6213" stop-color="#eef0f2"/><stop offset="0.6297" stop-color="#f5dccf"/><stop offset="0.6382" stop-color="#e6eef3"/><stop offset="0.6446" stop-color="#8dbfe0"/><stop offset="0.6546" stop-color="#5a9ad0"/><stop offset="0.6670" stop-color="#5a9ad0"/><stop offset="0.6769" stop-color="#9dc9e5"/><stop offset="0.6819" stop-color="#e6eef3"/><stop offset="0.6968" stop-color="#dde9f2"/><stop offset="0.7043" stop-color="#c0dcee"/><stop offset="0.7192" stop-color="#c0dcee"/><stop offset="0.7247" stop-color="#f2c8b2"/><stop offset="0.7391" stop-color="#f0b49a"/><stop offset="0.7530" stop-color="#f2c8b2"/><stop offset="0.7589" stop-color="#c9e0ef"/><stop offset="0.7664" stop-color="#8dbfe0"/><stop offset="0.7739" stop-color="#6aa6d4"/><stop offset="0.7838" stop-color="#8dbfe0"/><stop offset="0.7913" stop-color="#d6e8f3"/><stop offset="0.8012" stop-color="#dcebf5"/><stop offset="0.8310" stop-color="#e5eff5"/><stop offset="0.8559" stop-color="#d8e9f4"/><stop offset="0.9056" stop-color="#d6e8f3"/><stop offset="0.9553" stop-color="#e0edf6"/><stop offset="1.0000" stop-color="#d8e9f4"/></linearGradient>
<linearGradient id="gbB" gradientUnits="userSpaceOnUse" x1="127.8" y1="0" x2="329.0" y2="0"><stop offset="0.0025" stop-color="#cfe3f1"/><stop offset="0.0283" stop-color="#d3e3ee"/><stop offset="0.0338" stop-color="#f2c0a8"/><stop offset="0.0437" stop-color="#f0a080"/><stop offset="0.0547" stop-color="#f2c0a8"/><stop offset="0.0606" stop-color="#cde2f0"/><stop offset="0.0706" stop-color="#c6dff0"/><stop offset="0.0905" stop-color="#cde2f0"/><stop offset="0.1377" stop-color="#d6e6f0"/><stop offset="0.1441" stop-color="#f4ece8"/><stop offset="0.1481" stop-color="#f0b49a"/><stop offset="0.1561" stop-color="#dc4a35"/><stop offset="0.1620" stop-color="#dc4a35"/><stop offset="0.1680" stop-color="#f0b49a"/><stop offset="0.1750" stop-color="#a9cfe7"/><stop offset="0.1839" stop-color="#6aa6d4"/><stop offset="0.1914" stop-color="#6aa6d4"/><stop offset="0.1973" stop-color="#b5d6ea"/><stop offset="0.2048" stop-color="#d3e6f2"/><stop offset="0.2570" stop-color="#d9e6ee"/><stop offset="0.2634" stop-color="#f3d0be"/><stop offset="0.2758" stop-color="#f5d9c9"/><stop offset="0.2823" stop-color="#fbf3ef"/><stop offset="0.2992" stop-color="#fbf0ea"/><stop offset="0.3067" stop-color="#f0b49a"/><stop offset="0.3121" stop-color="#e8806a"/><stop offset="0.3206" stop-color="#f0b49a"/><stop offset="0.3270" stop-color="#dcecf4"/><stop offset="0.3350" stop-color="#5a9ad0"/><stop offset="0.3464" stop-color="#2a66ad"/><stop offset="0.3603" stop-color="#2a66ad"/><stop offset="0.3713" stop-color="#2a66ad"/><stop offset="0.3787" stop-color="#4a8cc8"/><stop offset="0.3877" stop-color="#8fc4e2"/><stop offset="0.4011" stop-color="#a9d2e8"/><stop offset="0.4110" stop-color="#d6eaf5"/><stop offset="0.4185" stop-color="#b5d6ea"/><stop offset="0.4384" stop-color="#b5d6ea"/><stop offset="0.4458" stop-color="#f0d0c0"/><stop offset="0.4558" stop-color="#f0a080"/><stop offset="0.4657" stop-color="#ec8a6e"/><stop offset="0.4781" stop-color="#f0a080"/><stop offset="0.4856" stop-color="#e8e6e6"/><stop offset="0.4911" stop-color="#9dc9e5"/><stop offset="0.5005" stop-color="#6aa6d4"/><stop offset="0.5104" stop-color="#9dc9e5"/><stop offset="0.5169" stop-color="#f0b49a"/><stop offset="0.5293" stop-color="#f0a890"/><stop offset="0.5427" stop-color="#f0b49a"/><stop offset="0.5497" stop-color="#e9edf0"/><stop offset="0.5606" stop-color="#8dbfe0"/><stop offset="0.5726" stop-color="#5a9ad0"/><stop offset="0.5900" stop-color="#5a9ad0"/><stop offset="0.6004" stop-color="#8dbfe0"/><stop offset="0.6074" stop-color="#d6e8f3"/><stop offset="0.6213" stop-color="#eef0f2"/><stop offset="0.6297" stop-color="#f5dccf"/><stop offset="0.6382" stop-color="#e6eef3"/><stop offset="0.6446" stop-color="#8dbfe0"/><stop offset="0.6546" stop-color="#5a9ad0"/><stop offset="0.6670" stop-color="#5a9ad0"/><stop offset="0.6769" stop-color="#9dc9e5"/><stop offset="0.6819" stop-color="#e6eef3"/><stop offset="0.6968" stop-color="#dde9f2"/><stop offset="0.7043" stop-color="#c0dcee"/><stop offset="0.7192" stop-color="#c0dcee"/><stop offset="0.7247" stop-color="#f2c8b2"/><stop offset="0.7391" stop-color="#f0b49a"/><stop offset="0.7530" stop-color="#f2c8b2"/><stop offset="0.7589" stop-color="#c9e0ef"/><stop offset="0.7664" stop-color="#8dbfe0"/><stop offset="0.7739" stop-color="#6aa6d4"/><stop offset="0.7838" stop-color="#8dbfe0"/><stop offset="0.7913" stop-color="#d6e8f3"/><stop offset="0.8012" stop-color="#dcebf5"/><stop offset="0.8310" stop-color="#e5eff5"/><stop offset="0.8559" stop-color="#d8e9f4"/><stop offset="0.9056" stop-color="#d6e8f3"/><stop offset="0.9553" stop-color="#e0edf6"/><stop offset="1.0000" stop-color="#d8e9f4"/></linearGradient>
<g clip-path="url(#clipB)">
<rect x="127.8" y="282.4" width="201.2" height="200.8" fill="url(#gbU)"/>
<g filter="url(#blurV)">
<rect x="127.8" y="262.4" width="201.2" height="29.600000000000023" fill="url(#gbT)"/>
<rect x="127.8" y="292" width="201.2" height="95" fill="url(#gbU)"/>
<rect x="127.8" y="387" width="201.2" height="68" fill="url(#gbL)"/>
<rect x="127.8" y="455" width="201.2" height="48.19999999999999" fill="url(#gbB)"/>
</g>
<g filter="url(#blur1)">
<ellipse cx="200.0" cy="400" rx="3.0" ry="12" fill="#174c94" opacity="0.9"/>
<ellipse cx="144.5" cy="382" rx="4.2" ry="36" fill="#acd1e8" opacity="0.9"/>
<ellipse cx="200.0" cy="446" rx="3.0" ry="10" fill="#174c94" opacity="0.8"/>
<ellipse cx="159.3" cy="470" rx="2.2" ry="14" fill="#d03a2a" opacity="0.9"/>
<ellipse cx="185.0" cy="300" rx="6.0" ry="12" fill="#dfebf3" opacity="0.9"/>
<ellipse cx="232.5" cy="330" rx="2.5" ry="25" fill="#d02418" opacity="0.7"/>
<ellipse cx="136.3" cy="388" rx="1.6" ry="8" fill="#e8856a" opacity="0.8"/>
<ellipse cx="136.3" cy="458" rx="1.6" ry="8" fill="#e8856a" opacity="0.8"/>
<ellipse cx="221.5" cy="440" rx="1.8" ry="20" fill="#e06a50" opacity="0.8"/>
</g>
<path d="M133.72,290.00 C133.72,291.00 133.76,294.00 133.74,296.00 C133.72,298.00 133.67,300.00 133.60,302.00 C133.54,304.00 133.44,306.00 133.35,308.00 C133.26,310.00 133.14,312.00 133.05,314.00 C132.96,316.00 132.86,318.00 132.80,320.00 C132.73,322.00 132.68,324.00 132.66,326.00 C132.64,328.00 132.65,330.00 132.68,332.00 C132.71,334.00 132.78,336.00 132.85,338.00 C132.92,340.00 133.03,342.00 133.12,344.00 C133.22,346.00 133.33,348.00 133.42,350.00 C133.50,352.00 133.59,354.00 133.65,356.00 C133.70,358.00 133.74,360.00 133.75,362.00 C133.76,364.00 133.73,366.00 133.69,368.00 C133.65,370.00 133.57,372.00 133.49,374.00 C133.41,376.00 133.30,378.00 133.21,380.00 C133.11,382.00 133.00,384.00 132.92,386.00 C132.84,388.00 132.76,390.00 132.72,392.00 C132.67,394.00 132.65,396.00 132.65,398.00 C132.66,400.00 132.69,402.00 132.75,404.00 C132.80,406.00 132.89,408.00 132.97,410.00 C133.06,412.00 133.17,414.00 133.27,416.00 C133.36,418.00 133.46,420.00 133.54,422.00 C133.61,424.00 133.68,426.00 133.71,428.00 C133.75,430.00 133.76,432.00 133.74,434.00 C133.72,436.00 133.67,438.00 133.61,440.00 C133.55,442.00 133.45,444.00 133.36,446.00 C133.27,448.00 133.16,450.00 133.06,452.00 C132.97,454.00 132.87,456.00 132.81,458.00 C132.74,460.00 132.69,462.00 132.66,464.00 C132.64,466.00 132.65,468.00 132.68,470.00 C132.71,472.00 132.77,474.00 132.84,476.00 C132.91,478.00 133.07,481.00 133.11,482.00" fill="none" stroke="#404040" stroke-width="0.45" opacity="0.45"/>
<path d="M139.22,296.00 C139.18,297.00 139.04,300.00 138.98,302.00 C138.92,304.00 138.87,306.00 138.86,308.00 C138.84,310.00 138.86,312.00 138.89,314.00 C138.93,316.00 139.00,318.00 139.08,320.00 C139.16,322.00 139.26,324.00 139.36,326.00 C139.45,328.00 139.56,330.00 139.65,332.00 C139.73,334.00 139.82,336.00 139.87,338.00 C139.92,340.00 139.95,342.00 139.95,344.00 C139.95,346.00 139.92,348.00 139.87,350.00 C139.83,352.00 139.74,354.00 139.66,356.00 C139.58,358.00 139.47,360.00 139.37,362.00 C139.28,364.00 139.17,366.00 139.09,368.00 C139.01,370.00 138.94,372.00 138.90,374.00 C138.86,376.00 138.84,378.00 138.85,380.00 C138.86,382.00 138.91,384.00 138.97,386.00 C139.02,388.00 139.12,390.00 139.20,392.00 C139.29,394.00 139.41,396.00 139.50,398.00 C139.59,400.00 139.70,402.00 139.77,404.00 C139.84,406.00 139.90,408.00 139.93,410.00 C139.95,412.00 139.96,414.00 139.93,416.00 C139.91,418.00 139.85,420.00 139.79,422.00 C139.72,424.00 139.62,426.00 139.53,428.00 C139.43,430.00 139.32,432.00 139.23,434.00 C139.14,436.00 139.05,438.00 138.98,440.00 C138.92,442.00 138.87,444.00 138.86,446.00 C138.84,448.00 138.85,450.00 138.89,452.00 C138.92,454.00 138.99,456.00 139.07,458.00 C139.14,460.00 139.25,462.00 139.34,464.00 C139.44,466.00 139.55,468.00 139.64,470.00 C139.72,472.00 139.81,474.00 139.86,476.00 C139.91,478.00 139.93,481.00 139.95,482.00" fill="none" stroke="#404040" stroke-width="0.45" opacity="0.45"/>
<path d="M139.89,299.00 C139.93,300.00 140.05,303.00 140.14,305.00 C140.23,307.00 140.35,309.00 140.44,311.00 C140.53,313.00 140.63,315.00 140.70,317.00 C140.76,319.00 140.82,321.00 140.84,323.00 C140.86,325.00 140.85,327.00 140.82,329.00 C140.79,331.00 140.73,333.00 140.66,335.00 C140.58,337.00 140.48,339.00 140.39,341.00 C140.29,343.00 140.18,345.00 140.09,347.00 C140.00,349.00 139.91,351.00 139.86,353.00 C139.80,355.00 139.76,357.00 139.75,359.00 C139.74,361.00 139.76,363.00 139.81,365.00 C139.85,367.00 139.92,369.00 140.00,371.00 C140.08,373.00 140.19,375.00 140.29,377.00 C140.38,379.00 140.49,381.00 140.57,383.00 C140.66,385.00 140.73,387.00 140.78,389.00 C140.83,391.00 140.85,393.00 140.85,395.00 C140.85,397.00 140.81,399.00 140.76,401.00 C140.71,403.00 140.62,405.00 140.53,407.00 C140.45,409.00 140.29,412.00 140.24,413.00" fill="none" stroke="#404040" stroke-width="0.45" opacity="0.45"/>
<path d="M146.02,299.00 C146.04,300.00 146.13,303.00 146.14,305.00 C146.16,307.00 146.15,309.00 146.11,311.00 C146.07,313.00 146.00,315.00 145.93,317.00 C145.85,319.00 145.75,321.00 145.65,323.00 C145.56,325.00 145.45,327.00 145.36,329.00 C145.27,331.00 145.19,333.00 145.14,335.00 C145.09,337.00 145.05,339.00 145.05,341.00 C145.05,343.00 145.07,345.00 145.12,347.00 C145.17,349.00 145.25,351.00 145.33,353.00 C145.42,355.00 145.53,357.00 145.62,359.00 C145.72,361.00 145.82,363.00 145.90,365.00 C145.98,367.00 146.06,369.00 146.10,371.00 C146.14,373.00 146.16,375.00 146.15,377.00 C146.14,379.00 146.10,381.00 146.04,383.00 C145.98,385.00 145.89,387.00 145.80,389.00 C145.71,391.00 145.60,393.00 145.51,395.00 C145.41,397.00 145.31,399.00 145.24,401.00 C145.17,403.00 145.11,405.00 145.08,407.00 C145.05,409.00 145.07,412.00 145.06,413.00" fill="none" stroke="#404040" stroke-width="0.45" opacity="0.45"/>
<path d="M154.60,299.00 C154.55,300.00 154.41,303.00 154.32,305.00 C154.22,307.00 154.11,309.00 154.03,311.00 C153.95,313.00 153.87,315.00 153.82,317.00 C153.77,319.00 153.75,321.00 153.75,323.00 C153.75,325.00 153.79,327.00 153.84,329.00 C153.89,331.00 153.98,333.00 154.06,335.00 C154.15,337.00 154.26,339.00 154.36,341.00 C154.45,343.00 154.56,345.00 154.63,347.00 C154.71,349.00 154.78,351.00 154.81,353.00 C154.85,355.00 154.86,357.00 154.84,359.00 C154.83,361.00 154.74,364.00 154.72,365.00" fill="none" stroke="#404040" stroke-width="0.45" opacity="0.45"/>
<path d="M158.70,299.00 C158.70,300.00 158.64,303.00 158.65,305.00 C158.66,307.00 158.70,309.00 158.76,311.00 C158.82,313.00 158.91,315.00 159.00,317.00 C159.08,319.00 159.20,321.00 159.29,323.00 C159.38,325.00 159.49,327.00 159.56,329.00 C159.63,331.00 159.69,333.00 159.72,335.00 C159.75,337.00 159.76,339.00 159.74,341.00 C159.71,343.00 159.66,345.00 159.59,347.00 C159.53,349.00 159.43,351.00 159.34,353.00 C159.24,355.00 159.13,357.00 159.04,359.00 C158.95,361.00 158.83,364.00 158.79,365.00" fill="none" stroke="#404040" stroke-width="0.45" opacity="0.45"/>
<path d="M160.85,286.00 C160.87,287.00 160.90,290.00 160.95,292.00 C161.01,294.00 161.09,296.00 161.18,298.00 C161.27,300.00 161.38,302.00 161.48,304.00 C161.57,306.00 161.67,308.00 161.75,310.00 C161.82,312.00 161.89,314.00 161.92,316.00 C161.95,318.00 161.96,320.00 161.94,322.00 C161.92,324.00 161.87,326.00 161.80,328.00 C161.74,330.00 161.64,332.00 161.55,334.00 C161.46,336.00 161.35,338.00 161.25,340.00 C161.16,342.00 161.07,344.00 161.00,346.00 C160.93,348.00 160.88,350.00 160.86,352.00 C160.84,354.00 160.85,356.00 160.88,358.00 C160.91,360.00 160.98,362.00 161.05,364.00 C161.12,366.00 161.23,368.00 161.32,370.00 C161.41,372.00 161.53,374.00 161.61,376.00 C161.70,378.00 161.79,380.00 161.85,382.00 C161.90,384.00 161.94,386.00 161.95,388.00 C161.96,390.00 161.93,392.00 161.89,394.00 C161.85,396.00 161.77,398.00 161.69,400.00 C161.61,402.00 161.50,404.00 161.41,406.00 C161.31,408.00 161.20,410.00 161.12,412.00 C161.04,414.00 160.96,416.00 160.92,418.00 C160.87,420.00 160.85,422.00 160.85,424.00 C160.86,426.00 160.89,428.00 160.94,430.00 C161.00,432.00 161.08,434.00 161.17,436.00 C161.26,438.00 161.37,440.00 161.46,442.00 C161.56,444.00 161.66,446.00 161.74,448.00 C161.81,450.00 161.88,452.00 161.91,454.00 C161.95,456.00 161.96,458.00 161.94,460.00 C161.92,462.00 161.87,464.00 161.81,466.00 C161.75,468.00 161.65,470.00 161.56,472.00 C161.47,474.00 161.31,477.00 161.27,478.00" fill="none" stroke="#404040" stroke-width="0.45" opacity="0.45"/>
<path d="M168.31,286.00 C168.35,287.00 168.50,290.00 168.57,292.00 C168.64,294.00 168.70,296.00 168.73,298.00 C168.75,300.00 168.76,302.00 168.73,304.00 C168.71,306.00 168.65,308.00 168.58,310.00 C168.51,312.00 168.41,314.00 168.32,316.00 C168.22,318.00 168.11,320.00 168.02,322.00 C167.93,324.00 167.84,326.00 167.78,328.00 C167.72,330.00 167.67,332.00 167.66,334.00 C167.64,336.00 167.66,338.00 167.69,340.00 C167.73,342.00 167.80,344.00 167.88,346.00 C167.95,348.00 168.06,350.00 168.15,352.00 C168.25,354.00 168.36,356.00 168.45,358.00 C168.53,360.00 168.61,362.00 168.67,364.00 C168.72,366.00 168.75,368.00 168.75,370.00 C168.75,372.00 168.72,374.00 168.67,376.00 C168.63,378.00 168.55,380.00 168.46,382.00 C168.38,384.00 168.27,386.00 168.17,388.00 C168.08,390.00 167.97,392.00 167.89,394.00 C167.81,396.00 167.74,398.00 167.70,400.00 C167.66,402.00 167.64,404.00 167.65,406.00 C167.66,408.00 167.71,410.00 167.77,412.00 C167.82,414.00 167.91,416.00 168.00,418.00 C168.09,420.00 168.20,422.00 168.30,424.00 C168.39,426.00 168.49,428.00 168.56,430.00 C168.64,432.00 168.70,434.00 168.73,436.00 C168.75,438.00 168.76,440.00 168.73,442.00 C168.71,444.00 168.65,446.00 168.59,448.00 C168.52,450.00 168.42,452.00 168.33,454.00 C168.24,456.00 168.12,458.00 168.03,460.00 C167.94,462.00 167.85,464.00 167.78,466.00 C167.72,468.00 167.67,470.00 167.66,472.00 C167.64,474.00 167.68,477.00 167.69,478.00" fill="none" stroke="#404040" stroke-width="0.45" opacity="0.45"/>
<path d="M181.00,312.00 C181.00,313.00 180.94,316.00 180.95,318.00 C180.96,320.00 181.00,322.00 181.06,324.00 C181.12,326.00 181.21,328.00 181.29,330.00 C181.38,332.00 181.50,334.00 181.59,336.00 C181.68,338.00 181.79,340.00 181.86,342.00 C181.93,344.00 181.99,346.00 182.02,348.00 C182.05,350.00 182.06,352.00 182.04,354.00 C182.01,356.00 181.96,358.00 181.89,360.00 C181.83,362.00 181.73,364.00 181.64,366.00 C181.54,368.00 181.43,370.00 181.34,372.00 C181.25,374.00 181.15,376.00 181.09,378.00 C181.03,380.00 180.98,382.00 180.96,384.00 C180.94,386.00 180.95,388.00 180.99,390.00 C181.02,392.00 181.09,394.00 181.16,396.00 C181.24,398.00 181.34,400.00 181.43,402.00 C181.53,404.00 181.64,406.00 181.73,408.00 C181.81,410.00 181.90,412.00 181.95,414.00 C182.01,416.00 182.04,418.00 182.05,420.00 C182.05,422.00 182.03,424.00 181.99,426.00 C181.94,428.00 181.86,430.00 181.78,432.00 C181.70,434.00 181.59,436.00 181.49,438.00 C181.40,440.00 181.29,442.00 181.21,444.00 C181.13,446.00 181.05,448.00 181.01,450.00 C180.97,452.00 180.94,454.00 180.95,456.00 C180.96,458.00 181.00,460.00 181.05,462.00 C181.11,464.00 181.20,466.00 181.28,468.00 C181.37,470.00 181.48,472.00 181.58,474.00 C181.67,476.00 181.80,479.00 181.85,480.00" fill="none" stroke="#404040" stroke-width="0.45" opacity="0.45"/>
<path d="M192.76,300.00 C192.78,301.00 192.82,304.00 192.88,306.00 C192.94,308.00 193.04,310.00 193.13,312.00 C193.22,314.00 193.33,316.00 193.42,318.00 C193.52,320.00 193.62,322.00 193.68,324.00 C193.75,326.00 193.81,328.00 193.83,330.00 C193.86,332.00 193.85,334.00 193.83,336.00 C193.80,338.00 193.74,340.00 193.67,342.00 C193.60,344.00 193.50,346.00 193.40,348.00 C193.31,350.00 193.20,352.00 193.11,354.00 C193.02,356.00 192.93,358.00 192.87,360.00 C192.81,362.00 192.77,364.00 192.75,366.00 C192.74,368.00 192.76,370.00 192.80,372.00 C192.84,374.00 192.91,376.00 192.99,378.00 C193.07,380.00 193.17,382.00 193.27,384.00 C193.36,386.00 193.47,388.00 193.56,390.00 C193.64,392.00 193.72,394.00 193.77,396.00 C193.82,398.00 193.85,400.00 193.85,402.00 C193.85,404.00 193.82,406.00 193.77,408.00 C193.72,410.00 193.63,412.00 193.55,414.00 C193.46,416.00 193.35,418.00 193.26,420.00 C193.16,422.00 193.06,424.00 192.98,426.00 C192.90,428.00 192.83,430.00 192.79,432.00 C192.76,434.00 192.74,436.00 192.76,438.00 C192.77,440.00 192.81,442.00 192.87,444.00 C192.93,446.00 193.03,448.00 193.12,450.00 C193.21,452.00 193.32,454.00 193.41,456.00 C193.51,458.00 193.61,460.00 193.68,462.00 C193.74,464.00 193.80,466.00 193.83,468.00 C193.86,470.00 193.86,472.00 193.83,474.00 C193.80,476.00 193.70,479.00 193.68,480.00" fill="none" stroke="#404040" stroke-width="0.45" opacity="0.45"/>
<path d="M204.84,286.00 C204.88,287.00 204.98,290.00 205.07,292.00 C205.15,294.00 205.27,296.00 205.36,298.00 C205.45,300.00 205.56,302.00 205.63,304.00 C205.71,306.00 205.78,308.00 205.81,310.00 C205.85,312.00 205.86,314.00 205.84,316.00 C205.83,318.00 205.78,320.00 205.71,322.00 C205.65,324.00 205.56,326.00 205.47,328.00 C205.37,330.00 205.26,332.00 205.17,334.00 C205.08,336.00 204.98,338.00 204.91,340.00 C204.84,342.00 204.79,344.00 204.77,346.00 C204.74,348.00 204.75,350.00 204.78,352.00 C204.80,354.00 204.87,356.00 204.94,358.00 C205.01,360.00 205.11,362.00 205.20,364.00 C205.30,366.00 205.41,368.00 205.50,370.00 C205.59,372.00 205.68,374.00 205.74,376.00 C205.79,378.00 205.84,380.00 205.85,382.00 C205.86,384.00 205.84,386.00 205.80,388.00 C205.76,390.00 205.68,392.00 205.61,394.00 C205.53,396.00 205.42,398.00 205.32,400.00 C205.23,402.00 205.12,404.00 205.04,406.00 C204.95,408.00 204.87,410.00 204.82,412.00 C204.78,414.00 204.75,416.00 204.75,418.00 C204.75,420.00 204.79,422.00 204.84,424.00 C204.89,426.00 204.97,428.00 205.06,430.00 C205.14,432.00 205.25,434.00 205.35,436.00 C205.44,438.00 205.55,440.00 205.63,442.00 C205.70,444.00 205.77,446.00 205.81,448.00 C205.84,450.00 205.86,452.00 205.84,454.00 C205.83,456.00 205.78,458.00 205.72,460.00 C205.66,462.00 205.57,464.00 205.48,466.00 C205.39,468.00 205.27,470.00 205.18,472.00 C205.09,474.00 204.96,477.00 204.92,478.00" fill="none" stroke="#404040" stroke-width="0.45" opacity="0.45"/>
<path d="M211.09,290.00 C211.10,291.00 211.15,294.00 211.15,296.00 C211.14,298.00 211.11,300.00 211.05,302.00 C211.00,304.00 210.91,306.00 210.83,308.00 C210.74,310.00 210.63,312.00 210.53,314.00 C210.44,316.00 210.33,318.00 210.26,320.00 C210.19,322.00 210.12,324.00 210.08,326.00 C210.05,328.00 210.04,330.00 210.06,332.00 C210.08,334.00 210.13,336.00 210.19,338.00 C210.25,340.00 210.35,342.00 210.44,344.00 C210.53,346.00 210.65,348.00 210.74,350.00 C210.83,352.00 210.93,354.00 210.99,356.00 C211.06,358.00 211.11,360.00 211.14,362.00 C211.16,364.00 211.15,366.00 211.12,368.00 C211.09,370.00 211.03,372.00 210.96,374.00 C210.88,376.00 210.78,378.00 210.69,380.00 C210.59,382.00 210.48,384.00 210.39,386.00 C210.31,388.00 210.22,390.00 210.16,392.00 C210.10,394.00 210.06,396.00 210.05,398.00 C210.04,400.00 210.06,402.00 210.10,404.00 C210.15,406.00 210.22,408.00 210.30,410.00 C210.38,412.00 210.49,414.00 210.58,416.00 C210.68,418.00 210.79,420.00 210.87,422.00 C210.95,424.00 211.03,426.00 211.08,428.00 C211.13,430.00 211.15,432.00 211.15,434.00 C211.15,436.00 211.11,438.00 211.06,440.00 C211.01,442.00 210.92,444.00 210.84,446.00 C210.75,448.00 210.64,450.00 210.54,452.00 C210.45,454.00 210.34,456.00 210.27,458.00 C210.19,460.00 210.12,462.00 210.09,464.00 C210.05,466.00 210.06,469.00 210.06,470.00" fill="none" stroke="#404040" stroke-width="0.45" opacity="0.45"/>
<path d="M215.79,290.00 C215.74,291.00 215.59,294.00 215.50,296.00 C215.41,298.00 215.30,300.00 215.23,302.00 C215.16,304.00 215.10,306.00 215.07,308.00 C215.05,310.00 215.04,312.00 215.07,314.00 C215.09,316.00 215.15,318.00 215.22,320.00 C215.28,322.00 215.38,324.00 215.48,326.00 C215.57,328.00 215.68,330.00 215.77,332.00 C215.86,334.00 215.96,336.00 216.02,338.00 C216.08,340.00 216.13,342.00 216.14,344.00 C216.16,346.00 216.15,348.00 216.11,350.00 C216.07,352.00 216.01,354.00 215.93,356.00 C215.85,358.00 215.75,360.00 215.65,362.00 C215.56,364.00 215.45,366.00 215.36,368.00 C215.28,370.00 215.19,372.00 215.14,374.00 C215.09,376.00 215.05,378.00 215.05,380.00 C215.05,382.00 215.07,384.00 215.12,386.00 C215.17,388.00 215.25,390.00 215.33,392.00 C215.41,394.00 215.52,396.00 215.62,398.00 C215.71,400.00 215.82,402.00 215.90,404.00 C215.98,406.00 216.05,408.00 216.10,410.00 C216.14,412.00 216.16,414.00 216.15,416.00 C216.14,418.00 216.10,420.00 216.04,422.00 C215.98,424.00 215.89,426.00 215.80,428.00 C215.72,430.00 215.60,432.00 215.51,434.00 C215.42,436.00 215.31,438.00 215.24,440.00 C215.17,442.00 215.11,444.00 215.08,446.00 C215.05,448.00 215.04,450.00 215.06,452.00 C215.09,454.00 215.14,456.00 215.21,458.00 C215.27,460.00 215.37,462.00 215.46,464.00 C215.56,466.00 215.71,469.00 215.76,470.00" fill="none" stroke="#404040" stroke-width="0.45" opacity="0.45"/>
<path d="M218.03,330.00 C218.01,331.00 217.95,334.00 217.88,336.00 C217.81,338.00 217.71,340.00 217.62,342.00 C217.53,344.00 217.41,346.00 217.32,348.00 C217.23,350.00 217.14,352.00 217.08,354.00 C217.02,356.00 216.97,358.00 216.96,360.00 C216.94,362.00 216.96,364.00 216.99,366.00 C217.03,368.00 217.10,370.00 217.18,372.00 C217.25,374.00 217.36,376.00 217.45,378.00 C217.55,380.00 217.66,382.00 217.74,384.00 C217.83,386.00 217.91,388.00 217.96,390.00 C218.02,392.00 218.05,394.00 218.05,396.00 C218.05,398.00 218.02,400.00 217.98,402.00 C217.93,404.00 217.85,406.00 217.76,408.00 C217.68,410.00 217.57,412.00 217.47,414.00 C217.38,416.00 217.27,418.00 217.19,420.00 C217.11,422.00 217.04,424.00 217.00,426.00 C216.96,428.00 216.94,430.00 216.95,432.00 C216.96,434.00 217.01,436.00 217.06,438.00 C217.12,440.00 217.21,442.00 217.30,444.00 C217.39,446.00 217.50,448.00 217.60,450.00 C217.69,452.00 217.79,454.00 217.86,456.00 C217.94,458.00 218.00,460.00 218.03,462.00 C218.05,464.00 218.06,466.00 218.03,468.00 C218.01,470.00 217.96,472.00 217.89,474.00 C217.82,476.00 217.67,479.00 217.63,480.00" fill="none" stroke="#404040" stroke-width="0.45" opacity="0.45"/>
<path d="M227.05,286.00 C227.10,287.00 227.25,290.00 227.34,292.00 C227.44,294.00 227.54,296.00 227.62,298.00 C227.70,300.00 227.77,302.00 227.81,304.00 C227.84,306.00 227.86,308.00 227.84,310.00 C227.83,312.00 227.78,314.00 227.72,316.00 C227.66,318.00 227.57,320.00 227.48,322.00 C227.39,324.00 227.28,326.00 227.18,328.00 C227.09,330.00 226.99,332.00 226.92,334.00 C226.85,336.00 226.80,338.00 226.77,340.00 C226.74,342.00 226.74,344.00 226.77,346.00 C226.80,348.00 226.86,350.00 226.93,352.00 C227.00,354.00 227.10,356.00 227.19,358.00 C227.28,360.00 227.39,362.00 227.48,364.00 C227.57,366.00 227.67,368.00 227.73,370.00 C227.79,372.00 227.83,374.00 227.84,376.00 C227.86,378.00 227.84,380.00 227.80,382.00 C227.77,384.00 227.70,386.00 227.62,388.00 C227.54,390.00 227.43,392.00 227.34,394.00 C227.24,396.00 227.13,398.00 227.05,400.00 C226.96,402.00 226.88,404.00 226.83,406.00 C226.78,408.00 226.75,410.00 226.75,412.00 C226.75,414.00 226.78,416.00 226.83,418.00 C226.88,420.00 226.96,422.00 227.04,424.00 C227.13,426.00 227.24,428.00 227.33,430.00 C227.43,432.00 227.53,434.00 227.61,436.00 C227.69,438.00 227.76,440.00 227.80,442.00 C227.84,444.00 227.86,446.00 227.85,448.00 C227.83,450.00 227.79,452.00 227.73,454.00 C227.67,456.00 227.58,458.00 227.49,460.00 C227.40,462.00 227.29,464.00 227.20,466.00 C227.10,468.00 227.00,470.00 226.93,472.00 C226.86,474.00 226.80,477.00 226.77,478.00" fill="none" stroke="#404040" stroke-width="0.45" opacity="0.45"/>
<path d="M238.92,286.00 C238.92,287.00 238.96,290.00 238.94,292.00 C238.92,294.00 238.87,296.00 238.80,298.00 C238.74,300.00 238.64,302.00 238.55,304.00 C238.46,306.00 238.34,308.00 238.25,310.00 C238.16,312.00 238.06,314.00 238.00,316.00 C237.93,318.00 237.88,320.00 237.86,322.00 C237.84,324.00 237.85,326.00 237.88,328.00 C237.91,330.00 237.98,332.00 238.05,334.00 C238.13,336.00 238.23,338.00 238.32,340.00 C238.42,342.00 238.53,344.00 238.62,346.00 C238.70,348.00 238.79,350.00 238.85,352.00 C238.90,354.00 238.94,356.00 238.95,358.00 C238.96,360.00 238.93,362.00 238.89,364.00 C238.85,366.00 238.77,368.00 238.69,370.00 C238.61,372.00 238.50,374.00 238.40,376.00 C238.31,378.00 238.20,380.00 238.12,382.00 C238.04,384.00 237.96,386.00 237.91,388.00 C237.87,390.00 237.85,392.00 237.85,394.00 C237.86,396.00 237.89,398.00 237.95,400.00 C238.00,402.00 238.09,404.00 238.17,406.00 C238.26,408.00 238.37,410.00 238.47,412.00 C238.56,414.00 238.67,416.00 238.74,418.00 C238.82,420.00 238.88,422.00 238.92,424.00 C238.95,426.00 238.96,428.00 238.94,430.00 C238.92,432.00 238.87,434.00 238.81,436.00 C238.74,438.00 238.65,440.00 238.56,442.00 C238.47,444.00 238.35,446.00 238.26,448.00 C238.17,450.00 238.07,452.00 238.01,454.00 C237.94,456.00 237.89,458.00 237.86,460.00 C237.84,462.00 237.85,464.00 237.88,466.00 C237.91,468.00 237.97,470.00 238.04,472.00 C238.12,474.00 238.27,477.00 238.31,478.00" fill="none" stroke="#404040" stroke-width="0.45" opacity="0.45"/>
<path d="M239.51,286.00 C239.46,287.00 239.31,290.00 239.22,292.00 C239.13,294.00 239.04,296.00 238.97,298.00 C238.91,300.00 238.87,302.00 238.86,304.00 C238.84,306.00 238.86,308.00 238.89,310.00 C238.93,312.00 239.00,314.00 239.08,316.00 C239.16,318.00 239.26,320.00 239.36,322.00 C239.45,324.00 239.56,326.00 239.65,328.00 C239.73,330.00 239.82,332.00 239.87,334.00 C239.92,336.00 239.95,338.00 239.95,340.00 C239.95,342.00 239.92,344.00 239.87,346.00 C239.82,348.00 239.74,350.00 239.66,352.00 C239.58,354.00 239.46,356.00 239.37,358.00 C239.27,360.00 239.17,362.00 239.09,364.00 C239.01,366.00 238.94,368.00 238.90,370.00 C238.86,372.00 238.84,374.00 238.85,376.00 C238.87,378.00 238.91,380.00 238.97,382.00 C239.03,384.00 239.12,386.00 239.21,388.00 C239.30,390.00 239.41,392.00 239.50,394.00 C239.60,396.00 239.70,398.00 239.77,400.00 C239.84,402.00 239.90,404.00 239.93,406.00 C239.95,408.00 239.96,410.00 239.93,412.00 C239.91,414.00 239.85,416.00 239.78,418.00 C239.72,420.00 239.62,422.00 239.52,424.00 C239.43,426.00 239.32,428.00 239.23,430.00 C239.14,432.00 239.04,434.00 238.98,436.00 C238.92,438.00 238.87,440.00 238.86,442.00 C238.84,444.00 238.85,446.00 238.89,448.00 C238.93,450.00 238.99,452.00 239.07,454.00 C239.15,456.00 239.25,458.00 239.35,460.00 C239.44,462.00 239.55,464.00 239.64,466.00 C239.72,468.00 239.81,470.00 239.86,472.00 C239.91,474.00 239.93,477.00 239.95,478.00" fill="none" stroke="#404040" stroke-width="0.45" opacity="0.45"/>
<path d="M249.05,286.00 C249.06,287.00 249.07,290.00 249.11,292.00 C249.15,294.00 249.23,296.00 249.31,298.00 C249.39,300.00 249.50,302.00 249.59,304.00 C249.69,306.00 249.80,308.00 249.88,310.00 C249.96,312.00 250.04,314.00 250.08,316.00 C250.13,318.00 250.15,320.00 250.15,322.00 C250.14,324.00 250.11,326.00 250.05,328.00 C250.00,330.00 249.91,332.00 249.83,334.00 C249.74,336.00 249.63,338.00 249.53,340.00 C249.44,342.00 249.34,344.00 249.26,346.00 C249.19,348.00 249.12,350.00 249.09,352.00 C249.05,354.00 249.04,356.00 249.06,358.00 C249.08,360.00 249.13,362.00 249.19,364.00 C249.25,366.00 249.35,368.00 249.44,370.00 C249.53,372.00 249.64,374.00 249.74,376.00 C249.83,378.00 249.93,380.00 249.99,382.00 C250.06,384.00 250.11,386.00 250.14,388.00 C250.16,390.00 250.15,392.00 250.12,394.00 C250.09,396.00 250.03,398.00 249.96,400.00 C249.89,402.00 249.78,404.00 249.69,406.00 C249.60,408.00 249.48,410.00 249.40,412.00 C249.31,414.00 249.22,416.00 249.16,418.00 C249.10,420.00 249.06,422.00 249.05,424.00 C249.04,426.00 249.06,428.00 249.10,430.00 C249.15,432.00 249.22,434.00 249.30,436.00 C249.38,438.00 249.49,440.00 249.58,442.00 C249.68,444.00 249.79,446.00 249.87,448.00 C249.95,450.00 250.03,452.00 250.08,454.00 C250.13,456.00 250.15,458.00 250.15,460.00 C250.15,462.00 250.11,464.00 250.06,466.00 C250.01,468.00 249.92,470.00 249.84,472.00 C249.75,474.00 249.59,477.00 249.55,478.00" fill="none" stroke="#404040" stroke-width="0.45" opacity="0.45"/>
<path d="M250.97,340.00 C250.99,341.00 251.05,344.00 251.11,346.00 C251.18,348.00 251.28,350.00 251.37,352.00 C251.47,354.00 251.58,356.00 251.67,358.00 C251.76,360.00 251.85,362.00 251.92,364.00 C251.98,366.00 252.03,368.00 252.04,370.00 C252.06,372.00 252.05,374.00 252.01,376.00 C251.98,378.00 251.91,380.00 251.83,382.00 C251.76,384.00 251.65,386.00 251.56,388.00 C251.46,390.00 251.35,392.00 251.26,394.00 C251.18,396.00 251.09,398.00 251.04,400.00 C250.99,402.00 250.95,404.00 250.95,406.00 C250.95,408.00 250.97,410.00 251.02,412.00 C251.07,414.00 251.15,416.00 251.23,418.00 C251.31,420.00 251.42,422.00 251.52,424.00 C251.61,426.00 251.72,428.00 251.80,430.00 C251.88,432.00 251.95,434.00 252.00,436.00 C252.04,438.00 252.06,440.00 252.05,442.00 C252.04,444.00 252.00,446.00 251.94,448.00 C251.88,450.00 251.79,452.00 251.71,454.00 C251.62,456.00 251.51,458.00 251.41,460.00 C251.32,462.00 251.22,464.00 251.14,466.00 C251.07,468.00 251.01,470.00 250.98,472.00 C250.95,474.00 250.97,477.00 250.96,478.00" fill="none" stroke="#404040" stroke-width="0.45" opacity="0.45"/>
<path d="M257.71,297.00 C257.66,298.00 257.51,301.00 257.41,303.00 C257.32,305.00 257.22,307.00 257.15,309.00 C257.07,311.00 257.01,313.00 256.98,315.00 C256.95,317.00 256.94,319.00 256.96,321.00 C256.98,323.00 257.04,325.00 257.10,327.00 C257.17,329.00 257.27,331.00 257.36,333.00 C257.45,335.00 257.56,337.00 257.66,339.00 C257.75,341.00 257.84,343.00 257.91,345.00 C257.97,347.00 258.02,349.00 258.04,351.00 C258.06,353.00 258.05,355.00 258.02,357.00 C257.98,359.00 257.92,361.00 257.84,363.00 C257.77,365.00 257.66,367.00 257.57,369.00 C257.48,371.00 257.36,373.00 257.28,375.00 C257.19,377.00 257.10,379.00 257.05,381.00 C256.99,383.00 256.96,385.00 256.95,387.00 C256.95,389.00 256.97,391.00 257.01,393.00 C257.06,395.00 257.13,397.00 257.22,399.00 C257.30,401.00 257.41,403.00 257.50,405.00 C257.60,407.00 257.71,409.00 257.79,411.00 C257.87,413.00 257.95,415.00 257.99,417.00 C258.03,419.00 258.06,421.00 258.05,423.00 C258.04,425.00 258.00,427.00 257.95,429.00 C257.89,431.00 257.81,433.00 257.72,435.00 C257.63,437.00 257.52,439.00 257.43,441.00 C257.33,443.00 257.23,445.00 257.15,447.00 C257.08,449.00 257.01,451.00 256.98,453.00 C256.95,455.00 256.94,457.00 256.96,459.00 C256.98,461.00 257.03,463.00 257.10,465.00 C257.16,467.00 257.26,469.00 257.35,471.00 C257.44,473.00 257.55,475.00 257.64,477.00 C257.74,479.00 257.86,482.00 257.90,483.00" fill="none" stroke="#404040" stroke-width="0.45" opacity="0.45"/>
<path d="M264.07,297.00 C264.07,298.00 264.05,301.00 264.07,303.00 C264.10,305.00 264.16,307.00 264.23,309.00 C264.30,311.00 264.40,313.00 264.49,315.00 C264.59,317.00 264.70,319.00 264.79,321.00 C264.88,323.00 264.97,325.00 265.03,327.00 C265.09,329.00 265.13,331.00 265.15,333.00 C265.16,335.00 265.14,337.00 265.10,339.00 C265.06,341.00 264.99,343.00 264.91,345.00 C264.84,347.00 264.73,349.00 264.64,351.00 C264.54,353.00 264.43,355.00 264.35,357.00 C264.26,359.00 264.18,361.00 264.13,363.00 C264.08,365.00 264.05,367.00 264.05,369.00 C264.05,371.00 264.08,373.00 264.13,375.00 C264.18,377.00 264.26,379.00 264.35,381.00 C264.43,383.00 264.54,385.00 264.64,387.00 C264.73,389.00 264.84,391.00 264.92,393.00 C264.99,395.00 265.07,397.00 265.10,399.00 C265.14,401.00 265.16,403.00 265.15,405.00 C265.13,407.00 265.09,409.00 265.03,411.00 C264.97,413.00 264.88,415.00 264.79,417.00 C264.70,419.00 264.59,421.00 264.49,423.00 C264.40,425.00 264.30,427.00 264.23,429.00 C264.16,431.00 264.10,433.00 264.07,435.00 C264.05,437.00 264.04,439.00 264.07,441.00 C264.09,443.00 264.15,445.00 264.22,447.00 C264.29,449.00 264.39,451.00 264.48,453.00 C264.57,455.00 264.69,457.00 264.78,459.00 C264.87,461.00 264.96,463.00 265.02,465.00 C265.08,467.00 265.13,469.00 265.14,471.00 C265.16,473.00 265.14,475.00 265.11,477.00 C265.07,479.00 264.95,482.00 264.92,483.00" fill="none" stroke="#404040" stroke-width="0.45" opacity="0.45"/>
<path d="M273.47,302.00 C273.52,303.00 273.66,306.00 273.72,308.00 C273.78,310.00 273.83,312.00 273.84,314.00 C273.86,316.00 273.85,318.00 273.81,320.00 C273.77,322.00 273.70,324.00 273.63,326.00 C273.55,328.00 273.45,330.00 273.35,332.00 C273.26,334.00 273.14,336.00 273.06,338.00 C272.97,340.00 272.89,342.00 272.84,344.00 C272.79,346.00 272.75,348.00 272.75,350.00 C272.75,352.00 272.78,354.00 272.82,356.00 C272.87,358.00 272.95,360.00 273.03,362.00 C273.12,364.00 273.23,366.00 273.32,368.00 C273.42,370.00 273.52,372.00 273.60,374.00 C273.68,376.00 273.76,378.00 273.80,380.00 C273.84,382.00 273.86,384.00 273.85,386.00 C273.84,388.00 273.80,390.00 273.74,392.00 C273.68,394.00 273.59,396.00 273.50,398.00 C273.41,400.00 273.30,402.00 273.21,404.00 C273.11,406.00 273.01,408.00 272.94,410.00 C272.87,412.00 272.81,414.00 272.78,416.00 C272.75,418.00 272.74,420.00 272.77,422.00 C272.79,424.00 272.84,426.00 272.91,428.00 C272.98,430.00 273.07,432.00 273.17,434.00 C273.26,436.00 273.37,438.00 273.46,440.00 C273.55,442.00 273.65,444.00 273.71,446.00 C273.78,448.00 273.82,450.00 273.84,452.00 C273.86,454.00 273.85,456.00 273.81,458.00 C273.78,460.00 273.71,462.00 273.64,464.00 C273.56,466.00 273.46,468.00 273.36,470.00 C273.27,472.00 273.16,474.00 273.07,476.00 C272.98,478.00 272.88,481.00 272.84,482.00" fill="none" stroke="#404040" stroke-width="0.45" opacity="0.45"/>
<path d="M280.09,302.00 C280.06,303.00 279.98,306.00 279.90,308.00 C279.82,310.00 279.71,312.00 279.62,314.00 C279.52,316.00 279.41,318.00 279.33,320.00 C279.25,322.00 279.17,324.00 279.12,326.00 C279.07,328.00 279.05,330.00 279.05,332.00 C279.05,334.00 279.09,336.00 279.14,338.00 C279.19,340.00 279.28,342.00 279.36,344.00 C279.45,346.00 279.56,348.00 279.66,350.00 C279.75,352.00 279.86,354.00 279.93,356.00 C280.01,358.00 280.08,360.00 280.11,362.00 C280.15,364.00 280.16,366.00 280.14,368.00 C280.13,370.00 280.08,372.00 280.02,374.00 C279.95,376.00 279.86,378.00 279.77,380.00 C279.68,382.00 279.56,384.00 279.47,386.00 C279.38,388.00 279.28,390.00 279.21,392.00 C279.15,394.00 279.09,396.00 279.07,398.00 C279.04,400.00 279.05,402.00 279.07,404.00 C279.10,406.00 279.16,408.00 279.24,410.00 C279.31,412.00 279.41,414.00 279.50,416.00 C279.60,418.00 279.71,420.00 279.80,422.00 C279.89,424.00 279.98,426.00 280.03,428.00 C280.09,430.00 280.14,432.00 280.15,434.00 C280.16,436.00 280.14,438.00 280.10,440.00 C280.06,442.00 279.99,444.00 279.91,446.00 C279.83,448.00 279.72,450.00 279.63,452.00 C279.53,454.00 279.42,456.00 279.34,458.00 C279.25,460.00 279.17,462.00 279.13,464.00 C279.08,466.00 279.05,468.00 279.05,470.00 C279.05,472.00 279.08,474.00 279.13,476.00 C279.19,478.00 279.32,481.00 279.35,482.00" fill="none" stroke="#404040" stroke-width="0.45" opacity="0.45"/>
<path d="M281.24,400.00 C281.28,401.00 281.44,404.00 281.52,406.00 C281.59,408.00 281.67,410.00 281.70,412.00 C281.74,414.00 281.76,416.00 281.75,418.00 C281.73,420.00 281.69,422.00 281.63,424.00 C281.57,426.00 281.48,428.00 281.39,430.00 C281.30,432.00 281.19,434.00 281.09,436.00 C281.00,438.00 280.90,440.00 280.83,442.00 C280.76,444.00 280.70,446.00 280.67,448.00 C280.65,450.00 280.64,452.00 280.67,454.00 C280.69,456.00 280.75,458.00 280.82,460.00 C280.89,462.00 280.99,464.00 281.08,466.00 C281.17,468.00 281.29,470.00 281.38,472.00 C281.47,474.00 281.58,477.00 281.62,478.00" fill="none" stroke="#404040" stroke-width="0.45" opacity="0.45"/>
<path d="M288.14,400.00 C288.12,401.00 288.07,404.00 288.01,406.00 C287.94,408.00 287.85,410.00 287.75,412.00 C287.66,414.00 287.55,416.00 287.46,418.00 C287.37,420.00 287.27,422.00 287.20,424.00 C287.14,426.00 287.08,428.00 287.06,430.00 C287.04,432.00 287.05,434.00 287.08,436.00 C287.11,438.00 287.17,440.00 287.25,442.00 C287.32,444.00 287.42,446.00 287.52,448.00 C287.61,450.00 287.72,452.00 287.81,454.00 C287.90,456.00 287.99,458.00 288.04,460.00 C288.10,462.00 288.14,464.00 288.15,466.00 C288.16,468.00 288.14,470.00 288.09,472.00 C288.05,474.00 287.93,477.00 287.90,478.00" fill="none" stroke="#404040" stroke-width="0.45" opacity="0.45"/>
</g>
<path d="M329,54.5 H382.5 V161.3 H414 M382.5,72.3 H414" fill="none" stroke="#c4c4c4" stroke-width="0.9"/>
<path d="M417.5,72.3 L413.3,69.7 L413.3,74.89999999999999 Z" fill="#c4c4c4"/>
<path d="M417.5,161.3 L413.3,158.70000000000002 L413.3,163.9 Z" fill="#c4c4c4"/>
<path d="M329,314.3 H382.5 V250.8 H414" fill="none" stroke="#c4c4c4" stroke-width="0.9"/>
<path d="M417.5,250.8 L413.3,248.20000000000002 L413.3,253.4 Z" fill="#c4c4c4"/>
<path d="M371.2,410.3 H382.5 V331.5 H414" fill="none" stroke="#c4c4c4" stroke-width="0.9"/>
<path d="M417.5,331.5 L413.3,328.9 L413.3,334.1 Z" fill="#c4c4c4"/>
<path d="M329,445.2 H382.5 V432.3 H414" fill="none" stroke="#c4c4c4" stroke-width="0.9"/>
<path d="M417.5,432.3 L413.3,429.7 L413.3,434.90000000000003 Z" fill="#c4c4c4"/>
<rect x="127.8" y="21.40" width="201.20" height="201.10" fill="none" stroke="#8a8a8a" stroke-width="0.8"/>
<line x1="128.00" y1="222.50" x2="128.00" y2="223.90" stroke="#888" stroke-width="0.7" />
<line x1="128.00" y1="21.40" x2="128.00" y2="20.00" stroke="#888" stroke-width="0.7" />
<line x1="137.12" y1="222.50" x2="137.12" y2="224.90" stroke="#888" stroke-width="0.7" />
<line x1="137.12" y1="21.40" x2="137.12" y2="19.00" stroke="#888" stroke-width="0.7" />
<text x="137.12" y="235.90" font-size="10.8" fill="#333" font-family='"Liberation Sans", sans-serif' text-anchor="middle" stroke="#333" stroke-width="0.15" >800</text>
<line x1="146.25" y1="222.50" x2="146.25" y2="223.90" stroke="#888" stroke-width="0.7" />
<line x1="146.25" y1="21.40" x2="146.25" y2="20.00" stroke="#888" stroke-width="0.7" />
<line x1="155.38" y1="222.50" x2="155.38" y2="223.90" stroke="#888" stroke-width="0.7" />
<line x1="155.38" y1="21.40" x2="155.38" y2="20.00" stroke="#888" stroke-width="0.7" />
<line x1="164.50" y1="222.50" x2="164.50" y2="223.90" stroke="#888" stroke-width="0.7" />
<line x1="164.50" y1="21.40" x2="164.50" y2="20.00" stroke="#888" stroke-width="0.7" />
<line x1="173.62" y1="222.50" x2="173.62" y2="224.90" stroke="#888" stroke-width="0.7" />
<line x1="173.62" y1="21.40" x2="173.62" y2="19.00" stroke="#888" stroke-width="0.7" />
<text x="173.62" y="235.90" font-size="10.8" fill="#333" font-family='"Liberation Sans", sans-serif' text-anchor="middle" stroke="#333" stroke-width="0.15" >1000</text>
<line x1="182.75" y1="222.50" x2="182.75" y2="223.90" stroke="#888" stroke-width="0.7" />
<line x1="182.75" y1="21.40" x2="182.75" y2="20.00" stroke="#888" stroke-width="0.7" />
<line x1="191.88" y1="222.50" x2="191.88" y2="223.90" stroke="#888" stroke-width="0.7" />
<line x1="191.88" y1="21.40" x2="191.88" y2="20.00" stroke="#888" stroke-width="0.7" />
<line x1="201.00" y1="222.50" x2="201.00" y2="223.90" stroke="#888" stroke-width="0.7" />
<line x1="201.00" y1="21.40" x2="201.00" y2="20.00" stroke="#888" stroke-width="0.7" />
<line x1="210.12" y1="222.50" x2="210.12" y2="224.90" stroke="#888" stroke-width="0.7" />
<line x1="210.12" y1="21.40" x2="210.12" y2="19.00" stroke="#888" stroke-width="0.7" />
<text x="210.12" y="235.90" font-size="10.8" fill="#333" font-family='"Liberation Sans", sans-serif' text-anchor="middle" stroke="#333" stroke-width="0.15" >1200</text>
<line x1="219.25" y1="222.50" x2="219.25" y2="223.90" stroke="#888" stroke-width="0.7" />
<line x1="219.25" y1="21.40" x2="219.25" y2="20.00" stroke="#888" stroke-width="0.7" />
<line x1="228.38" y1="222.50" x2="228.38" y2="223.90" stroke="#888" stroke-width="0.7" />
<line x1="228.38" y1="21.40" x2="228.38" y2="20.00" stroke="#888" stroke-width="0.7" />
<line x1="237.50" y1="222.50" x2="237.50" y2="223.90" stroke="#888" stroke-width="0.7" />
<line x1="237.50" y1="21.40" x2="237.50" y2="20.00" stroke="#888" stroke-width="0.7" />
<line x1="246.62" y1="222.50" x2="246.62" y2="224.90" stroke="#888" stroke-width="0.7" />
<line x1="246.62" y1="21.40" x2="246.62" y2="19.00" stroke="#888" stroke-width="0.7" />
<text x="246.62" y="235.90" font-size="10.8" fill="#333" font-family='"Liberation Sans", sans-serif' text-anchor="middle" stroke="#333" stroke-width="0.15" >1400</text>
<line x1="255.75" y1="222.50" x2="255.75" y2="223.90" stroke="#888" stroke-width="0.7" />
<line x1="255.75" y1="21.40" x2="255.75" y2="20.00" stroke="#888" stroke-width="0.7" />
<line x1="264.88" y1="222.50" x2="264.88" y2="223.90" stroke="#888" stroke-width="0.7" />
<line x1="264.88" y1="21.40" x2="264.88" y2="20.00" stroke="#888" stroke-width="0.7" />
<line x1="274.00" y1="222.50" x2="274.00" y2="223.90" stroke="#888" stroke-width="0.7" />
<line x1="274.00" y1="21.40" x2="274.00" y2="20.00" stroke="#888" stroke-width="0.7" />
<line x1="283.12" y1="222.50" x2="283.12" y2="224.90" stroke="#888" stroke-width="0.7" />
<line x1="283.12" y1="21.40" x2="283.12" y2="19.00" stroke="#888" stroke-width="0.7" />
<text x="283.12" y="235.90" font-size="10.8" fill="#333" font-family='"Liberation Sans", sans-serif' text-anchor="middle" stroke="#333" stroke-width="0.15" >1600</text>
<line x1="292.25" y1="222.50" x2="292.25" y2="223.90" stroke="#888" stroke-width="0.7" />
<line x1="292.25" y1="21.40" x2="292.25" y2="20.00" stroke="#888" stroke-width="0.7" />
<line x1="301.38" y1="222.50" x2="301.38" y2="223.90" stroke="#888" stroke-width="0.7" />
<line x1="301.38" y1="21.40" x2="301.38" y2="20.00" stroke="#888" stroke-width="0.7" />
<line x1="310.50" y1="222.50" x2="310.50" y2="223.90" stroke="#888" stroke-width="0.7" />
<line x1="310.50" y1="21.40" x2="310.50" y2="20.00" stroke="#888" stroke-width="0.7" />
<line x1="319.62" y1="222.50" x2="319.62" y2="224.90" stroke="#888" stroke-width="0.7" />
<line x1="319.62" y1="21.40" x2="319.62" y2="19.00" stroke="#888" stroke-width="0.7" />
<text x="319.62" y="235.90" font-size="10.8" fill="#333" font-family='"Liberation Sans", sans-serif' text-anchor="middle" stroke="#333" stroke-width="0.15" >1800</text>
<line x1="328.75" y1="222.50" x2="328.75" y2="223.90" stroke="#888" stroke-width="0.7" />
<line x1="328.75" y1="21.40" x2="328.75" y2="20.00" stroke="#888" stroke-width="0.7" />
<line x1="127.80" y1="222.20" x2="126.50" y2="222.20" stroke="#666" stroke-width="0.7" />
<line x1="329.00" y1="222.20" x2="330.30" y2="222.20" stroke="#aaa" stroke-width="0.7" />
<line x1="127.80" y1="220.44" x2="126.50" y2="220.44" stroke="#666" stroke-width="0.7" />
<line x1="329.00" y1="220.44" x2="330.30" y2="220.44" stroke="#aaa" stroke-width="0.7" />
<line x1="127.80" y1="218.96" x2="126.50" y2="218.96" stroke="#666" stroke-width="0.7" />
<line x1="329.00" y1="218.96" x2="330.30" y2="218.96" stroke="#aaa" stroke-width="0.7" />
<line x1="127.80" y1="217.67" x2="126.50" y2="217.67" stroke="#666" stroke-width="0.7" />
<line x1="329.00" y1="217.67" x2="330.30" y2="217.67" stroke="#aaa" stroke-width="0.7" />
<line x1="127.80" y1="216.54" x2="126.50" y2="216.54" stroke="#666" stroke-width="0.7" />
<line x1="329.00" y1="216.54" x2="330.30" y2="216.54" stroke="#aaa" stroke-width="0.7" />
<line x1="127.80" y1="215.52" x2="125.20" y2="215.52" stroke="#666" stroke-width="0.7" />
<line x1="329.00" y1="215.52" x2="331.60" y2="215.52" stroke="#aaa" stroke-width="0.7" />
<line x1="127.80" y1="208.84" x2="126.50" y2="208.84" stroke="#666" stroke-width="0.7" />
<line x1="329.00" y1="208.84" x2="330.30" y2="208.84" stroke="#aaa" stroke-width="0.7" />
<line x1="127.80" y1="204.93" x2="126.50" y2="204.93" stroke="#666" stroke-width="0.7" />
<line x1="329.00" y1="204.93" x2="330.30" y2="204.93" stroke="#aaa" stroke-width="0.7" />
<line x1="127.80" y1="202.16" x2="126.50" y2="202.16" stroke="#666" stroke-width="0.7" />
<line x1="329.00" y1="202.16" x2="330.30" y2="202.16" stroke="#aaa" stroke-width="0.7" />
<line x1="127.80" y1="200.01" x2="126.50" y2="200.01" stroke="#666" stroke-width="0.7" />
<line x1="329.00" y1="200.01" x2="330.30" y2="200.01" stroke="#aaa" stroke-width="0.7" />
<line x1="127.80" y1="198.25" x2="126.50" y2="198.25" stroke="#666" stroke-width="0.7" />
<line x1="329.00" y1="198.25" x2="330.30" y2="198.25" stroke="#aaa" stroke-width="0.7" />
<line x1="127.80" y1="196.77" x2="126.50" y2="196.77" stroke="#666" stroke-width="0.7" />
<line x1="329.00" y1="196.77" x2="330.30" y2="196.77" stroke="#aaa" stroke-width="0.7" />
<line x1="127.80" y1="195.48" x2="126.50" y2="195.48" stroke="#666" stroke-width="0.7" />
<line x1="329.00" y1="195.48" x2="330.30" y2="195.48" stroke="#aaa" stroke-width="0.7" />
<line x1="127.80" y1="194.35" x2="126.50" y2="194.35" stroke="#666" stroke-width="0.7" />
<line x1="329.00" y1="194.35" x2="330.30" y2="194.35" stroke="#aaa" stroke-width="0.7" />
<line x1="127.80" y1="193.33" x2="125.20" y2="193.33" stroke="#666" stroke-width="0.7" />
<line x1="329.00" y1="193.33" x2="331.60" y2="193.33" stroke="#aaa" stroke-width="0.7" />
<line x1="127.80" y1="186.65" x2="126.50" y2="186.65" stroke="#666" stroke-width="0.7" />
<line x1="329.00" y1="186.65" x2="330.30" y2="186.65" stroke="#aaa" stroke-width="0.7" />
<line x1="127.80" y1="182.74" x2="126.50" y2="182.74" stroke="#666" stroke-width="0.7" />
<line x1="329.00" y1="182.74" x2="330.30" y2="182.74" stroke="#aaa" stroke-width="0.7" />
<line x1="127.80" y1="179.97" x2="126.50" y2="179.97" stroke="#666" stroke-width="0.7" />
<line x1="329.00" y1="179.97" x2="330.30" y2="179.97" stroke="#aaa" stroke-width="0.7" />
<line x1="127.80" y1="177.82" x2="126.50" y2="177.82" stroke="#666" stroke-width="0.7" />
<line x1="329.00" y1="177.82" x2="330.30" y2="177.82" stroke="#aaa" stroke-width="0.7" />
<line x1="127.80" y1="176.06" x2="126.50" y2="176.06" stroke="#666" stroke-width="0.7" />
<line x1="329.00" y1="176.06" x2="330.30" y2="176.06" stroke="#aaa" stroke-width="0.7" />
<line x1="127.80" y1="174.58" x2="126.50" y2="174.58" stroke="#666" stroke-width="0.7" />
<line x1="329.00" y1="174.58" x2="330.30" y2="174.58" stroke="#aaa" stroke-width="0.7" />
<line x1="127.80" y1="173.29" x2="126.50" y2="173.29" stroke="#666" stroke-width="0.7" />
<line x1="329.00" y1="173.29" x2="330.30" y2="173.29" stroke="#aaa" stroke-width="0.7" />
<line x1="127.80" y1="172.16" x2="126.50" y2="172.16" stroke="#666" stroke-width="0.7" />
<line x1="329.00" y1="172.16" x2="330.30" y2="172.16" stroke="#aaa" stroke-width="0.7" />
<line x1="127.80" y1="171.14" x2="125.20" y2="171.14" stroke="#666" stroke-width="0.7" />
<line x1="329.00" y1="171.14" x2="331.60" y2="171.14" stroke="#aaa" stroke-width="0.7" />
<line x1="127.80" y1="164.46" x2="126.50" y2="164.46" stroke="#666" stroke-width="0.7" />
<line x1="329.00" y1="164.46" x2="330.30" y2="164.46" stroke="#aaa" stroke-width="0.7" />
<line x1="127.80" y1="160.55" x2="126.50" y2="160.55" stroke="#666" stroke-width="0.7" />
<line x1="329.00" y1="160.55" x2="330.30" y2="160.55" stroke="#aaa" stroke-width="0.7" />
<line x1="127.80" y1="157.78" x2="126.50" y2="157.78" stroke="#666" stroke-width="0.7" />
<line x1="329.00" y1="157.78" x2="330.30" y2="157.78" stroke="#aaa" stroke-width="0.7" />
<line x1="127.80" y1="155.63" x2="126.50" y2="155.63" stroke="#666" stroke-width="0.7" />
<line x1="329.00" y1="155.63" x2="330.30" y2="155.63" stroke="#aaa" stroke-width="0.7" />
<line x1="127.80" y1="153.87" x2="126.50" y2="153.87" stroke="#666" stroke-width="0.7" />
<line x1="329.00" y1="153.87" x2="330.30" y2="153.87" stroke="#aaa" stroke-width="0.7" />
<line x1="127.80" y1="152.39" x2="126.50" y2="152.39" stroke="#666" stroke-width="0.7" />
<line x1="329.00" y1="152.39" x2="330.30" y2="152.39" stroke="#aaa" stroke-width="0.7" />
<line x1="127.80" y1="151.10" x2="126.50" y2="151.10" stroke="#666" stroke-width="0.7" />
<line x1="329.00" y1="151.10" x2="330.30" y2="151.10" stroke="#aaa" stroke-width="0.7" />
<line x1="127.80" y1="149.97" x2="126.50" y2="149.97" stroke="#666" stroke-width="0.7" />
<line x1="329.00" y1="149.97" x2="330.30" y2="149.97" stroke="#aaa" stroke-width="0.7" />
<line x1="127.80" y1="148.95" x2="125.20" y2="148.95" stroke="#666" stroke-width="0.7" />
<line x1="329.00" y1="148.95" x2="331.60" y2="148.95" stroke="#aaa" stroke-width="0.7" />
<line x1="127.80" y1="142.27" x2="126.50" y2="142.27" stroke="#666" stroke-width="0.7" />
<line x1="329.00" y1="142.27" x2="330.30" y2="142.27" stroke="#aaa" stroke-width="0.7" />
<line x1="127.80" y1="138.36" x2="126.50" y2="138.36" stroke="#666" stroke-width="0.7" />
<line x1="329.00" y1="138.36" x2="330.30" y2="138.36" stroke="#aaa" stroke-width="0.7" />
<line x1="127.80" y1="135.59" x2="126.50" y2="135.59" stroke="#666" stroke-width="0.7" />
<line x1="329.00" y1="135.59" x2="330.30" y2="135.59" stroke="#aaa" stroke-width="0.7" />
<line x1="127.80" y1="133.44" x2="126.50" y2="133.44" stroke="#666" stroke-width="0.7" />
<line x1="329.00" y1="133.44" x2="330.30" y2="133.44" stroke="#aaa" stroke-width="0.7" />
<line x1="127.80" y1="131.68" x2="126.50" y2="131.68" stroke="#666" stroke-width="0.7" />
<line x1="329.00" y1="131.68" x2="330.30" y2="131.68" stroke="#aaa" stroke-width="0.7" />
<line x1="127.80" y1="130.20" x2="126.50" y2="130.20" stroke="#666" stroke-width="0.7" />
<line x1="329.00" y1="130.20" x2="330.30" y2="130.20" stroke="#aaa" stroke-width="0.7" />
<line x1="127.80" y1="128.91" x2="126.50" y2="128.91" stroke="#666" stroke-width="0.7" />
<line x1="329.00" y1="128.91" x2="330.30" y2="128.91" stroke="#aaa" stroke-width="0.7" />
<line x1="127.80" y1="127.78" x2="126.50" y2="127.78" stroke="#666" stroke-width="0.7" />
<line x1="329.00" y1="127.78" x2="330.30" y2="127.78" stroke="#aaa" stroke-width="0.7" />
<line x1="127.80" y1="126.76" x2="125.20" y2="126.76" stroke="#666" stroke-width="0.7" />
<line x1="329.00" y1="126.76" x2="331.60" y2="126.76" stroke="#aaa" stroke-width="0.7" />
<line x1="127.80" y1="120.08" x2="126.50" y2="120.08" stroke="#666" stroke-width="0.7" />
<line x1="329.00" y1="120.08" x2="330.30" y2="120.08" stroke="#aaa" stroke-width="0.7" />
<line x1="127.80" y1="116.17" x2="126.50" y2="116.17" stroke="#666" stroke-width="0.7" />
<line x1="329.00" y1="116.17" x2="330.30" y2="116.17" stroke="#aaa" stroke-width="0.7" />
<line x1="127.80" y1="113.40" x2="126.50" y2="113.40" stroke="#666" stroke-width="0.7" />
<line x1="329.00" y1="113.40" x2="330.30" y2="113.40" stroke="#aaa" stroke-width="0.7" />
<line x1="127.80" y1="111.25" x2="126.50" y2="111.25" stroke="#666" stroke-width="0.7" />
<line x1="329.00" y1="111.25" x2="330.30" y2="111.25" stroke="#aaa" stroke-width="0.7" />
<line x1="127.80" y1="109.49" x2="126.50" y2="109.49" stroke="#666" stroke-width="0.7" />
<line x1="329.00" y1="109.49" x2="330.30" y2="109.49" stroke="#aaa" stroke-width="0.7" />
<line x1="127.80" y1="108.01" x2="126.50" y2="108.01" stroke="#666" stroke-width="0.7" />
<line x1="329.00" y1="108.01" x2="330.30" y2="108.01" stroke="#aaa" stroke-width="0.7" />
<line x1="127.80" y1="106.72" x2="126.50" y2="106.72" stroke="#666" stroke-width="0.7" />
<line x1="329.00" y1="106.72" x2="330.30" y2="106.72" stroke="#aaa" stroke-width="0.7" />
<line x1="127.80" y1="105.59" x2="126.50" y2="105.59" stroke="#666" stroke-width="0.7" />
<line x1="329.00" y1="105.59" x2="330.30" y2="105.59" stroke="#aaa" stroke-width="0.7" />
<line x1="127.80" y1="104.57" x2="125.20" y2="104.57" stroke="#666" stroke-width="0.7" />
<line x1="329.00" y1="104.57" x2="331.60" y2="104.57" stroke="#aaa" stroke-width="0.7" />
<line x1="127.80" y1="97.89" x2="126.50" y2="97.89" stroke="#666" stroke-width="0.7" />
<line x1="329.00" y1="97.89" x2="330.30" y2="97.89" stroke="#aaa" stroke-width="0.7" />
<line x1="127.80" y1="93.98" x2="126.50" y2="93.98" stroke="#666" stroke-width="0.7" />
<line x1="329.00" y1="93.98" x2="330.30" y2="93.98" stroke="#aaa" stroke-width="0.7" />
<line x1="127.80" y1="91.21" x2="126.50" y2="91.21" stroke="#666" stroke-width="0.7" />
<line x1="329.00" y1="91.21" x2="330.30" y2="91.21" stroke="#aaa" stroke-width="0.7" />
<line x1="127.80" y1="89.06" x2="126.50" y2="89.06" stroke="#666" stroke-width="0.7" />
<line x1="329.00" y1="89.06" x2="330.30" y2="89.06" stroke="#aaa" stroke-width="0.7" />
<line x1="127.80" y1="87.30" x2="126.50" y2="87.30" stroke="#666" stroke-width="0.7" />
<line x1="329.00" y1="87.30" x2="330.30" y2="87.30" stroke="#aaa" stroke-width="0.7" />
<line x1="127.80" y1="85.82" x2="126.50" y2="85.82" stroke="#666" stroke-width="0.7" />
<line x1="329.00" y1="85.82" x2="330.30" y2="85.82" stroke="#aaa" stroke-width="0.7" />
<line x1="127.80" y1="84.53" x2="126.50" y2="84.53" stroke="#666" stroke-width="0.7" />
<line x1="329.00" y1="84.53" x2="330.30" y2="84.53" stroke="#aaa" stroke-width="0.7" />
<line x1="127.80" y1="83.40" x2="126.50" y2="83.40" stroke="#666" stroke-width="0.7" />
<line x1="329.00" y1="83.40" x2="330.30" y2="83.40" stroke="#aaa" stroke-width="0.7" />
<line x1="127.80" y1="82.38" x2="125.20" y2="82.38" stroke="#666" stroke-width="0.7" />
<line x1="329.00" y1="82.38" x2="331.60" y2="82.38" stroke="#aaa" stroke-width="0.7" />
<line x1="127.80" y1="75.70" x2="126.50" y2="75.70" stroke="#666" stroke-width="0.7" />
<line x1="329.00" y1="75.70" x2="330.30" y2="75.70" stroke="#aaa" stroke-width="0.7" />
<line x1="127.80" y1="71.79" x2="126.50" y2="71.79" stroke="#666" stroke-width="0.7" />
<line x1="329.00" y1="71.79" x2="330.30" y2="71.79" stroke="#aaa" stroke-width="0.7" />
<line x1="127.80" y1="69.02" x2="126.50" y2="69.02" stroke="#666" stroke-width="0.7" />
<line x1="329.00" y1="69.02" x2="330.30" y2="69.02" stroke="#aaa" stroke-width="0.7" />
<line x1="127.80" y1="66.87" x2="126.50" y2="66.87" stroke="#666" stroke-width="0.7" />
<line x1="329.00" y1="66.87" x2="330.30" y2="66.87" stroke="#aaa" stroke-width="0.7" />
<line x1="127.80" y1="65.11" x2="126.50" y2="65.11" stroke="#666" stroke-width="0.7" />
<line x1="329.00" y1="65.11" x2="330.30" y2="65.11" stroke="#aaa" stroke-width="0.7" />
<line x1="127.80" y1="63.63" x2="126.50" y2="63.63" stroke="#666" stroke-width="0.7" />
<line x1="329.00" y1="63.63" x2="330.30" y2="63.63" stroke="#aaa" stroke-width="0.7" />
<line x1="127.80" y1="62.34" x2="126.50" y2="62.34" stroke="#666" stroke-width="0.7" />
<line x1="329.00" y1="62.34" x2="330.30" y2="62.34" stroke="#aaa" stroke-width="0.7" />
<line x1="127.80" y1="61.21" x2="126.50" y2="61.21" stroke="#666" stroke-width="0.7" />
<line x1="329.00" y1="61.21" x2="330.30" y2="61.21" stroke="#aaa" stroke-width="0.7" />
<line x1="127.80" y1="60.19" x2="125.20" y2="60.19" stroke="#666" stroke-width="0.7" />
<line x1="329.00" y1="60.19" x2="331.60" y2="60.19" stroke="#aaa" stroke-width="0.7" />
<line x1="127.80" y1="53.51" x2="126.50" y2="53.51" stroke="#666" stroke-width="0.7" />
<line x1="329.00" y1="53.51" x2="330.30" y2="53.51" stroke="#aaa" stroke-width="0.7" />
<line x1="127.80" y1="49.60" x2="126.50" y2="49.60" stroke="#666" stroke-width="0.7" />
<line x1="329.00" y1="49.60" x2="330.30" y2="49.60" stroke="#aaa" stroke-width="0.7" />
<line x1="127.80" y1="46.83" x2="126.50" y2="46.83" stroke="#666" stroke-width="0.7" />
<line x1="329.00" y1="46.83" x2="330.30" y2="46.83" stroke="#aaa" stroke-width="0.7" />
<line x1="127.80" y1="44.68" x2="126.50" y2="44.68" stroke="#666" stroke-width="0.7" />
<line x1="329.00" y1="44.68" x2="330.30" y2="44.68" stroke="#aaa" stroke-width="0.7" />
<line x1="127.80" y1="42.92" x2="126.50" y2="42.92" stroke="#666" stroke-width="0.7" />
<line x1="329.00" y1="42.92" x2="330.30" y2="42.92" stroke="#aaa" stroke-width="0.7" />
<line x1="127.80" y1="41.44" x2="126.50" y2="41.44" stroke="#666" stroke-width="0.7" />
<line x1="329.00" y1="41.44" x2="330.30" y2="41.44" stroke="#aaa" stroke-width="0.7" />
<line x1="127.80" y1="40.15" x2="126.50" y2="40.15" stroke="#666" stroke-width="0.7" />
<line x1="329.00" y1="40.15" x2="330.30" y2="40.15" stroke="#aaa" stroke-width="0.7" />
<line x1="127.80" y1="39.02" x2="126.50" y2="39.02" stroke="#666" stroke-width="0.7" />
<line x1="329.00" y1="39.02" x2="330.30" y2="39.02" stroke="#aaa" stroke-width="0.7" />
<line x1="127.80" y1="38.00" x2="125.20" y2="38.00" stroke="#666" stroke-width="0.7" />
<line x1="329.00" y1="38.00" x2="331.60" y2="38.00" stroke="#aaa" stroke-width="0.7" />
<line x1="127.80" y1="31.32" x2="126.50" y2="31.32" stroke="#666" stroke-width="0.7" />
<line x1="329.00" y1="31.32" x2="330.30" y2="31.32" stroke="#aaa" stroke-width="0.7" />
<line x1="127.80" y1="27.41" x2="126.50" y2="27.41" stroke="#666" stroke-width="0.7" />
<line x1="329.00" y1="27.41" x2="330.30" y2="27.41" stroke="#aaa" stroke-width="0.7" />
<line x1="127.80" y1="24.64" x2="126.50" y2="24.64" stroke="#666" stroke-width="0.7" />
<line x1="329.00" y1="24.64" x2="330.30" y2="24.64" stroke="#aaa" stroke-width="0.7" />
<line x1="127.80" y1="22.49" x2="126.50" y2="22.49" stroke="#666" stroke-width="0.7" />
<line x1="329.00" y1="22.49" x2="330.30" y2="22.49" stroke="#aaa" stroke-width="0.7" />
<text x="123.80" y="214.52" font-size="7.0" fill="#333" font-family='"Liberation Sans", sans-serif' text-anchor="end" stroke="#333" stroke-width="0.15" >−1</text>
<text x="115.32" y="219.42" font-size="10.6" fill="#333" font-family='"Liberation Sans", sans-serif' text-anchor="end" stroke="#333" stroke-width="0.15" >10</text>
<text x="123.80" y="192.33" font-size="7.0" fill="#333" font-family='"Liberation Sans", sans-serif' text-anchor="end" stroke="#333" stroke-width="0.15" >0</text>
<text x="119.41" y="197.23" font-size="10.6" fill="#333" font-family='"Liberation Sans", sans-serif' text-anchor="end" stroke="#333" stroke-width="0.15" >10</text>
<text x="123.80" y="170.14" font-size="7.0" fill="#333" font-family='"Liberation Sans", sans-serif' text-anchor="end" stroke="#333" stroke-width="0.15" >1</text>
<text x="119.41" y="175.04" font-size="10.6" fill="#333" font-family='"Liberation Sans", sans-serif' text-anchor="end" stroke="#333" stroke-width="0.15" >10</text>
<text x="123.80" y="147.95" font-size="7.0" fill="#333" font-family='"Liberation Sans", sans-serif' text-anchor="end" stroke="#333" stroke-width="0.15" >2</text>
<text x="119.41" y="152.85" font-size="10.6" fill="#333" font-family='"Liberation Sans", sans-serif' text-anchor="end" stroke="#333" stroke-width="0.15" >10</text>
<text x="123.80" y="125.76" font-size="7.0" fill="#333" font-family='"Liberation Sans", sans-serif' text-anchor="end" stroke="#333" stroke-width="0.15" >3</text>
<text x="119.41" y="130.66" font-size="10.6" fill="#333" font-family='"Liberation Sans", sans-serif' text-anchor="end" stroke="#333" stroke-width="0.15" >10</text>
<text x="123.80" y="103.57" font-size="7.0" fill="#333" font-family='"Liberation Sans", sans-serif' text-anchor="end" stroke="#333" stroke-width="0.15" >4</text>
<text x="119.41" y="108.47" font-size="10.6" fill="#333" font-family='"Liberation Sans", sans-serif' text-anchor="end" stroke="#333" stroke-width="0.15" >10</text>
<text x="123.80" y="81.38" font-size="7.0" fill="#333" font-family='"Liberation Sans", sans-serif' text-anchor="end" stroke="#333" stroke-width="0.15" >5</text>
<text x="119.41" y="86.28" font-size="10.6" fill="#333" font-family='"Liberation Sans", sans-serif' text-anchor="end" stroke="#333" stroke-width="0.15" >10</text>
<text x="123.80" y="59.19" font-size="7.0" fill="#333" font-family='"Liberation Sans", sans-serif' text-anchor="end" stroke="#333" stroke-width="0.15" >6</text>
<text x="119.41" y="64.09" font-size="10.6" fill="#333" font-family='"Liberation Sans", sans-serif' text-anchor="end" stroke="#333" stroke-width="0.15" >10</text>
<text x="123.80" y="37.00" font-size="7.0" fill="#333" font-family='"Liberation Sans", sans-serif' text-anchor="end" stroke="#333" stroke-width="0.15" >7</text>
<text x="119.41" y="41.90" font-size="10.6" fill="#333" font-family='"Liberation Sans", sans-serif' text-anchor="end" stroke="#333" stroke-width="0.15" >10</text>
<text x="127.40" y="12.40" font-size="13.0" fill="#333" font-family='"Liberation Sans", sans-serif' stroke="#333" stroke-width="0.15" >a)</text>
<text x="142.80" y="11.80" font-size="10.6" fill="#c4c4c4" font-family='"Liberation Sans", sans-serif' textLength="40.9" lengthAdjust="spacingAndGlyphs" font-style="italic" >Aerated</text>
<text transform="translate(99.1,146.80) rotate(-90)" font-size="12.6" fill="#333" font-family='"Liberation Sans", sans-serif' textLength="50.6" lengthAdjust="spacingAndGlyphs">Time / ps</text>
<text x="178.90" y="253.00" font-size="11.8" fill="#333" font-family='"Liberation Sans", sans-serif' textLength="92.2" lengthAdjust="spacingAndGlyphs" stroke="#333" stroke-width="0.15" >Raman shift / cm</text>
<text x="271.60" y="247.80" font-size="7.2" fill="#333" font-family='"Liberation Sans", sans-serif' stroke="#333" stroke-width="0.15" >-1</text>
<text x="337.00" y="41.80" font-size="10.6" fill="#8c8c8c" font-family='"Liberation Sans", sans-serif' >10 µs</text>
<text x="337.00" y="63.99" font-size="10.6" fill="#8c8c8c" font-family='"Liberation Sans", sans-serif' >1 µs</text>
<text x="337.00" y="86.18" font-size="10.6" fill="#8c8c8c" font-family='"Liberation Sans", sans-serif' >100 ns</text>
<text x="337.00" y="108.37" font-size="10.6" fill="#8c8c8c" font-family='"Liberation Sans", sans-serif' >10 ns</text>
<text x="337.00" y="130.56" font-size="10.6" fill="#8c8c8c" font-family='"Liberation Sans", sans-serif' >1 ns</text>
<text x="337.00" y="152.75" font-size="10.6" fill="#8c8c8c" font-family='"Liberation Sans", sans-serif' >100 ps</text>
<text x="337.00" y="174.94" font-size="10.6" fill="#8c8c8c" font-family='"Liberation Sans", sans-serif' >10 ps</text>
<text x="337.00" y="197.13" font-size="10.6" fill="#8c8c8c" font-family='"Liberation Sans", sans-serif' >1 ps</text>
<text x="337.00" y="219.32" font-size="10.6" fill="#8c8c8c" font-family='"Liberation Sans", sans-serif' >100 fs</text>
<rect x="127.8" y="282.40" width="201.20" height="200.80" fill="none" stroke="#8a8a8a" stroke-width="0.8"/>
<line x1="128.00" y1="483.20" x2="128.00" y2="484.60" stroke="#888" stroke-width="0.7" />
<line x1="128.00" y1="282.40" x2="128.00" y2="281.00" stroke="#888" stroke-width="0.7" />
<line x1="137.12" y1="483.20" x2="137.12" y2="485.60" stroke="#888" stroke-width="0.7" />
<line x1="137.12" y1="282.40" x2="137.12" y2="280.00" stroke="#888" stroke-width="0.7" />
<text x="137.12" y="496.60" font-size="10.8" fill="#333" font-family='"Liberation Sans", sans-serif' text-anchor="middle" stroke="#333" stroke-width="0.15" >800</text>
<line x1="146.25" y1="483.20" x2="146.25" y2="484.60" stroke="#888" stroke-width="0.7" />
<line x1="146.25" y1="282.40" x2="146.25" y2="281.00" stroke="#888" stroke-width="0.7" />
<line x1="155.38" y1="483.20" x2="155.38" y2="484.60" stroke="#888" stroke-width="0.7" />
<line x1="155.38" y1="282.40" x2="155.38" y2="281.00" stroke="#888" stroke-width="0.7" />
<line x1="164.50" y1="483.20" x2="164.50" y2="484.60" stroke="#888" stroke-width="0.7" />
<line x1="164.50" y1="282.40" x2="164.50" y2="281.00" stroke="#888" stroke-width="0.7" />
<line x1="173.62" y1="483.20" x2="173.62" y2="485.60" stroke="#888" stroke-width="0.7" />
<line x1="173.62" y1="282.40" x2="173.62" y2="280.00" stroke="#888" stroke-width="0.7" />
<text x="173.62" y="496.60" font-size="10.8" fill="#333" font-family='"Liberation Sans", sans-serif' text-anchor="middle" stroke="#333" stroke-width="0.15" >1000</text>
<line x1="182.75" y1="483.20" x2="182.75" y2="484.60" stroke="#888" stroke-width="0.7" />
<line x1="182.75" y1="282.40" x2="182.75" y2="281.00" stroke="#888" stroke-width="0.7" />
<line x1="191.88" y1="483.20" x2="191.88" y2="484.60" stroke="#888" stroke-width="0.7" />
<line x1="191.88" y1="282.40" x2="191.88" y2="281.00" stroke="#888" stroke-width="0.7" />
<line x1="201.00" y1="483.20" x2="201.00" y2="484.60" stroke="#888" stroke-width="0.7" />
<line x1="201.00" y1="282.40" x2="201.00" y2="281.00" stroke="#888" stroke-width="0.7" />
<line x1="210.12" y1="483.20" x2="210.12" y2="485.60" stroke="#888" stroke-width="0.7" />
<line x1="210.12" y1="282.40" x2="210.12" y2="280.00" stroke="#888" stroke-width="0.7" />
<text x="210.12" y="496.60" font-size="10.8" fill="#333" font-family='"Liberation Sans", sans-serif' text-anchor="middle" stroke="#333" stroke-width="0.15" >1200</text>
<line x1="219.25" y1="483.20" x2="219.25" y2="484.60" stroke="#888" stroke-width="0.7" />
<line x1="219.25" y1="282.40" x2="219.25" y2="281.00" stroke="#888" stroke-width="0.7" />
<line x1="228.38" y1="483.20" x2="228.38" y2="484.60" stroke="#888" stroke-width="0.7" />
<line x1="228.38" y1="282.40" x2="228.38" y2="281.00" stroke="#888" stroke-width="0.7" />
<line x1="237.50" y1="483.20" x2="237.50" y2="484.60" stroke="#888" stroke-width="0.7" />
<line x1="237.50" y1="282.40" x2="237.50" y2="281.00" stroke="#888" stroke-width="0.7" />
<line x1="246.62" y1="483.20" x2="246.62" y2="485.60" stroke="#888" stroke-width="0.7" />
<line x1="246.62" y1="282.40" x2="246.62" y2="280.00" stroke="#888" stroke-width="0.7" />
<text x="246.62" y="496.60" font-size="10.8" fill="#333" font-family='"Liberation Sans", sans-serif' text-anchor="middle" stroke="#333" stroke-width="0.15" >1400</text>
<line x1="255.75" y1="483.20" x2="255.75" y2="484.60" stroke="#888" stroke-width="0.7" />
<line x1="255.75" y1="282.40" x2="255.75" y2="281.00" stroke="#888" stroke-width="0.7" />
<line x1="264.88" y1="483.20" x2="264.88" y2="484.60" stroke="#888" stroke-width="0.7" />
<line x1="264.88" y1="282.40" x2="264.88" y2="281.00" stroke="#888" stroke-width="0.7" />
<line x1="274.00" y1="483.20" x2="274.00" y2="484.60" stroke="#888" stroke-width="0.7" />
<line x1="274.00" y1="282.40" x2="274.00" y2="281.00" stroke="#888" stroke-width="0.7" />
<line x1="283.12" y1="483.20" x2="283.12" y2="485.60" stroke="#888" stroke-width="0.7" />
<line x1="283.12" y1="282.40" x2="283.12" y2="280.00" stroke="#888" stroke-width="0.7" />
<text x="283.12" y="496.60" font-size="10.8" fill="#333" font-family='"Liberation Sans", sans-serif' text-anchor="middle" stroke="#333" stroke-width="0.15" >1600</text>
<line x1="292.25" y1="483.20" x2="292.25" y2="484.60" stroke="#888" stroke-width="0.7" />
<line x1="292.25" y1="282.40" x2="292.25" y2="281.00" stroke="#888" stroke-width="0.7" />
<line x1="301.38" y1="483.20" x2="301.38" y2="484.60" stroke="#888" stroke-width="0.7" />
<line x1="301.38" y1="282.40" x2="301.38" y2="281.00" stroke="#888" stroke-width="0.7" />
<line x1="310.50" y1="483.20" x2="310.50" y2="484.60" stroke="#888" stroke-width="0.7" />
<line x1="310.50" y1="282.40" x2="310.50" y2="281.00" stroke="#888" stroke-width="0.7" />
<line x1="319.62" y1="483.20" x2="319.62" y2="485.60" stroke="#888" stroke-width="0.7" />
<line x1="319.62" y1="282.40" x2="319.62" y2="280.00" stroke="#888" stroke-width="0.7" />
<text x="319.62" y="496.60" font-size="10.8" fill="#333" font-family='"Liberation Sans", sans-serif' text-anchor="middle" stroke="#333" stroke-width="0.15" >1800</text>
<line x1="328.75" y1="483.20" x2="328.75" y2="484.60" stroke="#888" stroke-width="0.7" />
<line x1="328.75" y1="282.40" x2="328.75" y2="281.00" stroke="#888" stroke-width="0.7" />
<line x1="127.80" y1="483.20" x2="126.50" y2="483.20" stroke="#666" stroke-width="0.7" />
<line x1="329.00" y1="483.20" x2="330.30" y2="483.20" stroke="#aaa" stroke-width="0.7" />
<line x1="127.80" y1="481.44" x2="126.50" y2="481.44" stroke="#666" stroke-width="0.7" />
<line x1="329.00" y1="481.44" x2="330.30" y2="481.44" stroke="#aaa" stroke-width="0.7" />
<line x1="127.80" y1="479.96" x2="126.50" y2="479.96" stroke="#666" stroke-width="0.7" />
<line x1="329.00" y1="479.96" x2="330.30" y2="479.96" stroke="#aaa" stroke-width="0.7" />
<line x1="127.80" y1="478.67" x2="126.50" y2="478.67" stroke="#666" stroke-width="0.7" />
<line x1="329.00" y1="478.67" x2="330.30" y2="478.67" stroke="#aaa" stroke-width="0.7" />
<line x1="127.80" y1="477.54" x2="126.50" y2="477.54" stroke="#666" stroke-width="0.7" />
<line x1="329.00" y1="477.54" x2="330.30" y2="477.54" stroke="#aaa" stroke-width="0.7" />
<line x1="127.80" y1="476.52" x2="125.20" y2="476.52" stroke="#666" stroke-width="0.7" />
<line x1="329.00" y1="476.52" x2="331.60" y2="476.52" stroke="#aaa" stroke-width="0.7" />
<line x1="127.80" y1="469.84" x2="126.50" y2="469.84" stroke="#666" stroke-width="0.7" />
<line x1="329.00" y1="469.84" x2="330.30" y2="469.84" stroke="#aaa" stroke-width="0.7" />
<line x1="127.80" y1="465.93" x2="126.50" y2="465.93" stroke="#666" stroke-width="0.7" />
<line x1="329.00" y1="465.93" x2="330.30" y2="465.93" stroke="#aaa" stroke-width="0.7" />
<line x1="127.80" y1="463.16" x2="126.50" y2="463.16" stroke="#666" stroke-width="0.7" />
<line x1="329.00" y1="463.16" x2="330.30" y2="463.16" stroke="#aaa" stroke-width="0.7" />
<line x1="127.80" y1="461.01" x2="126.50" y2="461.01" stroke="#666" stroke-width="0.7" />
<line x1="329.00" y1="461.01" x2="330.30" y2="461.01" stroke="#aaa" stroke-width="0.7" />
<line x1="127.80" y1="459.25" x2="126.50" y2="459.25" stroke="#666" stroke-width="0.7" />
<line x1="329.00" y1="459.25" x2="330.30" y2="459.25" stroke="#aaa" stroke-width="0.7" />
<line x1="127.80" y1="457.77" x2="126.50" y2="457.77" stroke="#666" stroke-width="0.7" />
<line x1="329.00" y1="457.77" x2="330.30" y2="457.77" stroke="#aaa" stroke-width="0.7" />
<line x1="127.80" y1="456.48" x2="126.50" y2="456.48" stroke="#666" stroke-width="0.7" />
<line x1="329.00" y1="456.48" x2="330.30" y2="456.48" stroke="#aaa" stroke-width="0.7" />
<line x1="127.80" y1="455.35" x2="126.50" y2="455.35" stroke="#666" stroke-width="0.7" />
<line x1="329.00" y1="455.35" x2="330.30" y2="455.35" stroke="#aaa" stroke-width="0.7" />
<line x1="127.80" y1="454.33" x2="125.20" y2="454.33" stroke="#666" stroke-width="0.7" />
<line x1="329.00" y1="454.33" x2="331.60" y2="454.33" stroke="#aaa" stroke-width="0.7" />
<line x1="127.80" y1="447.65" x2="126.50" y2="447.65" stroke="#666" stroke-width="0.7" />
<line x1="329.00" y1="447.65" x2="330.30" y2="447.65" stroke="#aaa" stroke-width="0.7" />
<line x1="127.80" y1="443.74" x2="126.50" y2="443.74" stroke="#666" stroke-width="0.7" />
<line x1="329.00" y1="443.74" x2="330.30" y2="443.74" stroke="#aaa" stroke-width="0.7" />
<line x1="127.80" y1="440.97" x2="126.50" y2="440.97" stroke="#666" stroke-width="0.7" />
<line x1="329.00" y1="440.97" x2="330.30" y2="440.97" stroke="#aaa" stroke-width="0.7" />
<line x1="127.80" y1="438.82" x2="126.50" y2="438.82" stroke="#666" stroke-width="0.7" />
<line x1="329.00" y1="438.82" x2="330.30" y2="438.82" stroke="#aaa" stroke-width="0.7" />
<line x1="127.80" y1="437.06" x2="126.50" y2="437.06" stroke="#666" stroke-width="0.7" />
<line x1="329.00" y1="437.06" x2="330.30" y2="437.06" stroke="#aaa" stroke-width="0.7" />
<line x1="127.80" y1="435.58" x2="126.50" y2="435.58" stroke="#666" stroke-width="0.7" />
<line x1="329.00" y1="435.58" x2="330.30" y2="435.58" stroke="#aaa" stroke-width="0.7" />
<line x1="127.80" y1="434.29" x2="126.50" y2="434.29" stroke="#666" stroke-width="0.7" />
<line x1="329.00" y1="434.29" x2="330.30" y2="434.29" stroke="#aaa" stroke-width="0.7" />
<line x1="127.80" y1="433.16" x2="126.50" y2="433.16" stroke="#666" stroke-width="0.7" />
<line x1="329.00" y1="433.16" x2="330.30" y2="433.16" stroke="#aaa" stroke-width="0.7" />
<line x1="127.80" y1="432.14" x2="125.20" y2="432.14" stroke="#666" stroke-width="0.7" />
<line x1="329.00" y1="432.14" x2="331.60" y2="432.14" stroke="#aaa" stroke-width="0.7" />
<line x1="127.80" y1="425.46" x2="126.50" y2="425.46" stroke="#666" stroke-width="0.7" />
<line x1="329.00" y1="425.46" x2="330.30" y2="425.46" stroke="#aaa" stroke-width="0.7" />
<line x1="127.80" y1="421.55" x2="126.50" y2="421.55" stroke="#666" stroke-width="0.7" />
<line x1="329.00" y1="421.55" x2="330.30" y2="421.55" stroke="#aaa" stroke-width="0.7" />
<line x1="127.80" y1="418.78" x2="126.50" y2="418.78" stroke="#666" stroke-width="0.7" />
<line x1="329.00" y1="418.78" x2="330.30" y2="418.78" stroke="#aaa" stroke-width="0.7" />
<line x1="127.80" y1="416.63" x2="126.50" y2="416.63" stroke="#666" stroke-width="0.7" />
<line x1="329.00" y1="416.63" x2="330.30" y2="416.63" stroke="#aaa" stroke-width="0.7" />
<line x1="127.80" y1="414.87" x2="126.50" y2="414.87" stroke="#666" stroke-width="0.7" />
<line x1="329.00" y1="414.87" x2="330.30" y2="414.87" stroke="#aaa" stroke-width="0.7" />
<line x1="127.80" y1="413.39" x2="126.50" y2="413.39" stroke="#666" stroke-width="0.7" />
<line x1="329.00" y1="413.39" x2="330.30" y2="413.39" stroke="#aaa" stroke-width="0.7" />
<line x1="127.80" y1="412.10" x2="126.50" y2="412.10" stroke="#666" stroke-width="0.7" />
<line x1="329.00" y1="412.10" x2="330.30" y2="412.10" stroke="#aaa" stroke-width="0.7" />
<line x1="127.80" y1="410.97" x2="126.50" y2="410.97" stroke="#666" stroke-width="0.7" />
<line x1="329.00" y1="410.97" x2="330.30" y2="410.97" stroke="#aaa" stroke-width="0.7" />
<line x1="127.80" y1="409.95" x2="125.20" y2="409.95" stroke="#666" stroke-width="0.7" />
<line x1="329.00" y1="409.95" x2="331.60" y2="409.95" stroke="#aaa" stroke-width="0.7" />
<line x1="127.80" y1="403.27" x2="126.50" y2="403.27" stroke="#666" stroke-width="0.7" />
<line x1="329.00" y1="403.27" x2="330.30" y2="403.27" stroke="#aaa" stroke-width="0.7" />
<line x1="127.80" y1="399.36" x2="126.50" y2="399.36" stroke="#666" stroke-width="0.7" />
<line x1="329.00" y1="399.36" x2="330.30" y2="399.36" stroke="#aaa" stroke-width="0.7" />
<line x1="127.80" y1="396.59" x2="126.50" y2="396.59" stroke="#666" stroke-width="0.7" />
<line x1="329.00" y1="396.59" x2="330.30" y2="396.59" stroke="#aaa" stroke-width="0.7" />
<line x1="127.80" y1="394.44" x2="126.50" y2="394.44" stroke="#666" stroke-width="0.7" />
<line x1="329.00" y1="394.44" x2="330.30" y2="394.44" stroke="#aaa" stroke-width="0.7" />
<line x1="127.80" y1="392.68" x2="126.50" y2="392.68" stroke="#666" stroke-width="0.7" />
<line x1="329.00" y1="392.68" x2="330.30" y2="392.68" stroke="#aaa" stroke-width="0.7" />
<line x1="127.80" y1="391.20" x2="126.50" y2="391.20" stroke="#666" stroke-width="0.7" />
<line x1="329.00" y1="391.20" x2="330.30" y2="391.20" stroke="#aaa" stroke-width="0.7" />
<line x1="127.80" y1="389.91" x2="126.50" y2="389.91" stroke="#666" stroke-width="0.7" />
<line x1="329.00" y1="389.91" x2="330.30" y2="389.91" stroke="#aaa" stroke-width="0.7" />
<line x1="127.80" y1="388.78" x2="126.50" y2="388.78" stroke="#666" stroke-width="0.7" />
<line x1="329.00" y1="388.78" x2="330.30" y2="388.78" stroke="#aaa" stroke-width="0.7" />
<line x1="127.80" y1="387.76" x2="125.20" y2="387.76" stroke="#666" stroke-width="0.7" />
<line x1="329.00" y1="387.76" x2="331.60" y2="387.76" stroke="#aaa" stroke-width="0.7" />
<line x1="127.80" y1="381.08" x2="126.50" y2="381.08" stroke="#666" stroke-width="0.7" />
<line x1="329.00" y1="381.08" x2="330.30" y2="381.08" stroke="#aaa" stroke-width="0.7" />
<line x1="127.80" y1="377.17" x2="126.50" y2="377.17" stroke="#666" stroke-width="0.7" />
<line x1="329.00" y1="377.17" x2="330.30" y2="377.17" stroke="#aaa" stroke-width="0.7" />
<line x1="127.80" y1="374.40" x2="126.50" y2="374.40" stroke="#666" stroke-width="0.7" />
<line x1="329.00" y1="374.40" x2="330.30" y2="374.40" stroke="#aaa" stroke-width="0.7" />
<line x1="127.80" y1="372.25" x2="126.50" y2="372.25" stroke="#666" stroke-width="0.7" />
<line x1="329.00" y1="372.25" x2="330.30" y2="372.25" stroke="#aaa" stroke-width="0.7" />
<line x1="127.80" y1="370.49" x2="126.50" y2="370.49" stroke="#666" stroke-width="0.7" />
<line x1="329.00" y1="370.49" x2="330.30" y2="370.49" stroke="#aaa" stroke-width="0.7" />
<line x1="127.80" y1="369.01" x2="126.50" y2="369.01" stroke="#666" stroke-width="0.7" />
<line x1="329.00" y1="369.01" x2="330.30" y2="369.01" stroke="#aaa" stroke-width="0.7" />
<line x1="127.80" y1="367.72" x2="126.50" y2="367.72" stroke="#666" stroke-width="0.7" />
<line x1="329.00" y1="367.72" x2="330.30" y2="367.72" stroke="#aaa" stroke-width="0.7" />
<line x1="127.80" y1="366.59" x2="126.50" y2="366.59" stroke="#666" stroke-width="0.7" />
<line x1="329.00" y1="366.59" x2="330.30" y2="366.59" stroke="#aaa" stroke-width="0.7" />
<line x1="127.80" y1="365.57" x2="125.20" y2="365.57" stroke="#666" stroke-width="0.7" />
<line x1="329.00" y1="365.57" x2="331.60" y2="365.57" stroke="#aaa" stroke-width="0.7" />
<line x1="127.80" y1="358.89" x2="126.50" y2="358.89" stroke="#666" stroke-width="0.7" />
<line x1="329.00" y1="358.89" x2="330.30" y2="358.89" stroke="#aaa" stroke-width="0.7" />
<line x1="127.80" y1="354.98" x2="126.50" y2="354.98" stroke="#666" stroke-width="0.7" />
<line x1="329.00" y1="354.98" x2="330.30" y2="354.98" stroke="#aaa" stroke-width="0.7" />
<line x1="127.80" y1="352.21" x2="126.50" y2="352.21" stroke="#666" stroke-width="0.7" />
<line x1="329.00" y1="352.21" x2="330.30" y2="352.21" stroke="#aaa" stroke-width="0.7" />
<line x1="127.80" y1="350.06" x2="126.50" y2="350.06" stroke="#666" stroke-width="0.7" />
<line x1="329.00" y1="350.06" x2="330.30" y2="350.06" stroke="#aaa" stroke-width="0.7" />
<line x1="127.80" y1="348.30" x2="126.50" y2="348.30" stroke="#666" stroke-width="0.7" />
<line x1="329.00" y1="348.30" x2="330.30" y2="348.30" stroke="#aaa" stroke-width="0.7" />
<line x1="127.80" y1="346.82" x2="126.50" y2="346.82" stroke="#666" stroke-width="0.7" />
<line x1="329.00" y1="346.82" x2="330.30" y2="346.82" stroke="#aaa" stroke-width="0.7" />
<line x1="127.80" y1="345.53" x2="126.50" y2="345.53" stroke="#666" stroke-width="0.7" />
<line x1="329.00" y1="345.53" x2="330.30" y2="345.53" stroke="#aaa" stroke-width="0.7" />
<line x1="127.80" y1="344.40" x2="126.50" y2="344.40" stroke="#666" stroke-width="0.7" />
<line x1="329.00" y1="344.40" x2="330.30" y2="344.40" stroke="#aaa" stroke-width="0.7" />
<line x1="127.80" y1="343.38" x2="125.20" y2="343.38" stroke="#666" stroke-width="0.7" />
<line x1="329.00" y1="343.38" x2="331.60" y2="343.38" stroke="#aaa" stroke-width="0.7" />
<line x1="127.80" y1="336.70" x2="126.50" y2="336.70" stroke="#666" stroke-width="0.7" />
<line x1="329.00" y1="336.70" x2="330.30" y2="336.70" stroke="#aaa" stroke-width="0.7" />
<line x1="127.80" y1="332.79" x2="126.50" y2="332.79" stroke="#666" stroke-width="0.7" />
<line x1="329.00" y1="332.79" x2="330.30" y2="332.79" stroke="#aaa" stroke-width="0.7" />
<line x1="127.80" y1="330.02" x2="126.50" y2="330.02" stroke="#666" stroke-width="0.7" />
<line x1="329.00" y1="330.02" x2="330.30" y2="330.02" stroke="#aaa" stroke-width="0.7" />
<line x1="127.80" y1="327.87" x2="126.50" y2="327.87" stroke="#666" stroke-width="0.7" />
<line x1="329.00" y1="327.87" x2="330.30" y2="327.87" stroke="#aaa" stroke-width="0.7" />
<line x1="127.80" y1="326.11" x2="126.50" y2="326.11" stroke="#666" stroke-width="0.7" />
<line x1="329.00" y1="326.11" x2="330.30" y2="326.11" stroke="#aaa" stroke-width="0.7" />
<line x1="127.80" y1="324.63" x2="126.50" y2="324.63" stroke="#666" stroke-width="0.7" />
<line x1="329.00" y1="324.63" x2="330.30" y2="324.63" stroke="#aaa" stroke-width="0.7" />
<line x1="127.80" y1="323.34" x2="126.50" y2="323.34" stroke="#666" stroke-width="0.7" />
<line x1="329.00" y1="323.34" x2="330.30" y2="323.34" stroke="#aaa" stroke-width="0.7" />
<line x1="127.80" y1="322.21" x2="126.50" y2="322.21" stroke="#666" stroke-width="0.7" />
<line x1="329.00" y1="322.21" x2="330.30" y2="322.21" stroke="#aaa" stroke-width="0.7" />
<line x1="127.80" y1="321.19" x2="125.20" y2="321.19" stroke="#666" stroke-width="0.7" />
<line x1="329.00" y1="321.19" x2="331.60" y2="321.19" stroke="#aaa" stroke-width="0.7" />
<line x1="127.80" y1="314.51" x2="126.50" y2="314.51" stroke="#666" stroke-width="0.7" />
<line x1="329.00" y1="314.51" x2="330.30" y2="314.51" stroke="#aaa" stroke-width="0.7" />
<line x1="127.80" y1="310.60" x2="126.50" y2="310.60" stroke="#666" stroke-width="0.7" />
<line x1="329.00" y1="310.60" x2="330.30" y2="310.60" stroke="#aaa" stroke-width="0.7" />
<line x1="127.80" y1="307.83" x2="126.50" y2="307.83" stroke="#666" stroke-width="0.7" />
<line x1="329.00" y1="307.83" x2="330.30" y2="307.83" stroke="#aaa" stroke-width="0.7" />
<line x1="127.80" y1="305.68" x2="126.50" y2="305.68" stroke="#666" stroke-width="0.7" />
<line x1="329.00" y1="305.68" x2="330.30" y2="305.68" stroke="#aaa" stroke-width="0.7" />
<line x1="127.80" y1="303.92" x2="126.50" y2="303.92" stroke="#666" stroke-width="0.7" />
<line x1="329.00" y1="303.92" x2="330.30" y2="303.92" stroke="#aaa" stroke-width="0.7" />
<line x1="127.80" y1="302.44" x2="126.50" y2="302.44" stroke="#666" stroke-width="0.7" />
<line x1="329.00" y1="302.44" x2="330.30" y2="302.44" stroke="#aaa" stroke-width="0.7" />
<line x1="127.80" y1="301.15" x2="126.50" y2="301.15" stroke="#666" stroke-width="0.7" />
<line x1="329.00" y1="301.15" x2="330.30" y2="301.15" stroke="#aaa" stroke-width="0.7" />
<line x1="127.80" y1="300.02" x2="126.50" y2="300.02" stroke="#666" stroke-width="0.7" />
<line x1="329.00" y1="300.02" x2="330.30" y2="300.02" stroke="#aaa" stroke-width="0.7" />
<line x1="127.80" y1="299.00" x2="125.20" y2="299.00" stroke="#666" stroke-width="0.7" />
<line x1="329.00" y1="299.00" x2="331.60" y2="299.00" stroke="#aaa" stroke-width="0.7" />
<line x1="127.80" y1="292.32" x2="126.50" y2="292.32" stroke="#666" stroke-width="0.7" />
<line x1="329.00" y1="292.32" x2="330.30" y2="292.32" stroke="#aaa" stroke-width="0.7" />
<line x1="127.80" y1="288.41" x2="126.50" y2="288.41" stroke="#666" stroke-width="0.7" />
<line x1="329.00" y1="288.41" x2="330.30" y2="288.41" stroke="#aaa" stroke-width="0.7" />
<line x1="127.80" y1="285.64" x2="126.50" y2="285.64" stroke="#666" stroke-width="0.7" />
<line x1="329.00" y1="285.64" x2="330.30" y2="285.64" stroke="#aaa" stroke-width="0.7" />
<line x1="127.80" y1="283.49" x2="126.50" y2="283.49" stroke="#666" stroke-width="0.7" />
<line x1="329.00" y1="283.49" x2="330.30" y2="283.49" stroke="#aaa" stroke-width="0.7" />
<text x="123.80" y="475.52" font-size="7.0" fill="#333" font-family='"Liberation Sans", sans-serif' text-anchor="end" stroke="#333" stroke-width="0.15" >−1</text>
<text x="115.32" y="480.42" font-size="10.6" fill="#333" font-family='"Liberation Sans", sans-serif' text-anchor="end" stroke="#333" stroke-width="0.15" >10</text>
<text x="123.80" y="453.33" font-size="7.0" fill="#333" font-family='"Liberation Sans", sans-serif' text-anchor="end" stroke="#333" stroke-width="0.15" >0</text>
<text x="119.41" y="458.23" font-size="10.6" fill="#333" font-family='"Liberation Sans", sans-serif' text-anchor="end" stroke="#333" stroke-width="0.15" >10</text>
<text x="123.80" y="431.14" font-size="7.0" fill="#333" font-family='"Liberation Sans", sans-serif' text-anchor="end" stroke="#333" stroke-width="0.15" >1</text>
<text x="119.41" y="436.04" font-size="10.6" fill="#333" font-family='"Liberation Sans", sans-serif' text-anchor="end" stroke="#333" stroke-width="0.15" >10</text>
<text x="123.80" y="408.95" font-size="7.0" fill="#333" font-family='"Liberation Sans", sans-serif' text-anchor="end" stroke="#333" stroke-width="0.15" >2</text>
<text x="119.41" y="413.85" font-size="10.6" fill="#333" font-family='"Liberation Sans", sans-serif' text-anchor="end" stroke="#333" stroke-width="0.15" >10</text>
<text x="123.80" y="386.76" font-size="7.0" fill="#333" font-family='"Liberation Sans", sans-serif' text-anchor="end" stroke="#333" stroke-width="0.15" >3</text>
<text x="119.41" y="391.66" font-size="10.6" fill="#333" font-family='"Liberation Sans", sans-serif' text-anchor="end" stroke="#333" stroke-width="0.15" >10</text>
<text x="123.80" y="364.57" font-size="7.0" fill="#333" font-family='"Liberation Sans", sans-serif' text-anchor="end" stroke="#333" stroke-width="0.15" >4</text>
<text x="119.41" y="369.47" font-size="10.6" fill="#333" font-family='"Liberation Sans", sans-serif' text-anchor="end" stroke="#333" stroke-width="0.15" >10</text>
<text x="123.80" y="342.38" font-size="7.0" fill="#333" font-family='"Liberation Sans", sans-serif' text-anchor="end" stroke="#333" stroke-width="0.15" >5</text>
<text x="119.41" y="347.28" font-size="10.6" fill="#333" font-family='"Liberation Sans", sans-serif' text-anchor="end" stroke="#333" stroke-width="0.15" >10</text>
<text x="123.80" y="320.19" font-size="7.0" fill="#333" font-family='"Liberation Sans", sans-serif' text-anchor="end" stroke="#333" stroke-width="0.15" >6</text>
<text x="119.41" y="325.09" font-size="10.6" fill="#333" font-family='"Liberation Sans", sans-serif' text-anchor="end" stroke="#333" stroke-width="0.15" >10</text>
<text x="123.80" y="298.00" font-size="7.0" fill="#333" font-family='"Liberation Sans", sans-serif' text-anchor="end" stroke="#333" stroke-width="0.15" >7</text>
<text x="119.41" y="302.90" font-size="10.6" fill="#333" font-family='"Liberation Sans", sans-serif' text-anchor="end" stroke="#333" stroke-width="0.15" >10</text>
<text x="127.40" y="272.40" font-size="13.0" fill="#333" font-family='"Liberation Sans", sans-serif' stroke="#333" stroke-width="0.15" >b)</text>
<text x="143.80" y="271.80" font-size="10.6" fill="#c4c4c4" font-family='"Liberation Sans", sans-serif' textLength="48.6" lengthAdjust="spacingAndGlyphs" font-style="italic" >Degassed</text>
<text transform="translate(99.1,408.60) rotate(-90)" font-size="12.6" fill="#333" font-family='"Liberation Sans", sans-serif' textLength="50.6" lengthAdjust="spacingAndGlyphs">Time / ps</text>
<text x="178.90" y="521.40" font-size="11.8" fill="#333" font-family='"Liberation Sans", sans-serif' textLength="92.5" lengthAdjust="spacingAndGlyphs" stroke="#333" stroke-width="0.15" >Raman Shift / cm</text>
<text x="272.00" y="516.20" font-size="7.2" fill="#333" font-family='"Liberation Sans", sans-serif' stroke="#333" stroke-width="0.15" >-1</text>
<text x="337.00" y="302.80" font-size="10.6" fill="#8c8c8c" font-family='"Liberation Sans", sans-serif' >10 µs</text>
<text x="337.00" y="324.99" font-size="10.6" fill="#8c8c8c" font-family='"Liberation Sans", sans-serif' >1 µs</text>
<text x="337.00" y="347.18" font-size="10.6" fill="#8c8c8c" font-family='"Liberation Sans", sans-serif' >100 ns</text>
<text x="337.00" y="369.37" font-size="10.6" fill="#8c8c8c" font-family='"Liberation Sans", sans-serif' >10 ns</text>
<text x="337.00" y="391.56" font-size="10.6" fill="#8c8c8c" font-family='"Liberation Sans", sans-serif' >1 ns</text>
<text x="337.00" y="413.75" font-size="10.6" fill="#8c8c8c" font-family='"Liberation Sans", sans-serif' >100 ps</text>
<text x="337.00" y="435.94" font-size="10.6" fill="#8c8c8c" font-family='"Liberation Sans", sans-serif' >10 ps</text>
<text x="337.00" y="458.13" font-size="10.6" fill="#8c8c8c" font-family='"Liberation Sans", sans-serif' >1 ps</text>
<text x="337.00" y="480.32" font-size="10.6" fill="#8c8c8c" font-family='"Liberation Sans", sans-serif' >100 fs</text>
<rect x="421.6" y="71.70" width="113.40" height="1" fill="#8298be"/>
<rect x="572" y="71.70" width="61.60" height="1" fill="#8298be"/>
<path d="M421.60,72.20 C422.08,73.08 423.38,75.93 424.50,77.50 C425.62,79.07 426.97,81.52 428.30,81.60 C429.63,81.68 431.08,79.57 432.50,78.00 C433.92,76.43 436.08,73.17 436.80,72.20 Z" fill="#8298be"/>
<path d="M436.80,72.20 C437.28,71.62 438.75,69.57 439.70,68.70 C440.65,67.83 441.55,67.38 442.50,67.00 C443.45,66.62 444.13,66.33 445.40,66.40 C446.67,66.47 448.37,67.72 450.10,67.40 C451.83,67.08 454.07,65.30 455.80,64.50 C457.53,63.70 459.02,63.23 460.50,62.60 C461.98,61.97 463.43,63.23 464.70,60.70 C465.97,58.17 466.90,53.40 468.10,47.40 C469.30,41.40 470.68,30.55 471.90,24.70 C473.12,18.85 474.28,12.30 475.40,12.30 C476.52,12.30 477.60,19.48 478.60,24.70 C479.60,29.92 480.30,37.28 481.40,43.60 C482.50,49.92 483.93,58.17 485.20,62.60 C486.47,67.03 487.73,68.68 489.00,70.20 C490.27,71.72 491.53,71.37 492.80,71.70 C494.07,72.03 495.97,72.12 496.60,72.20 Z" fill="#8298be"/>
<path d="M496.60,72.20 C497.17,72.58 498.73,73.25 500.00,74.50 C501.27,75.75 502.83,77.50 504.20,79.70 C505.57,81.90 506.77,85.50 508.20,87.70 C509.63,89.90 510.90,92.72 512.80,92.90 C514.70,93.08 517.52,90.62 519.60,88.80 C521.68,86.98 523.60,84.77 525.30,82.00 C527.00,79.23 529.05,73.83 529.80,72.20 Z" fill="#8298be"/>
<path d="M573.00,72.20 C573.83,72.50 576.27,73.52 578.00,74.00 C579.73,74.48 581.90,75.10 583.40,75.10 C584.90,75.10 585.90,74.48 587.00,74.00 C588.10,73.52 589.50,72.50 590.00,72.20 Z" fill="#8298be"/>
<path d="M590.00,72.20 C590.63,70.92 592.40,66.25 593.80,64.50 C595.20,62.75 596.87,62.08 598.40,61.70 C599.93,61.32 601.22,61.73 603.00,62.20 C604.78,62.67 607.18,63.48 609.10,64.50 C611.02,65.52 612.97,67.08 614.50,68.30 C616.03,69.52 617.38,71.15 618.30,71.80 C619.22,72.45 619.72,72.13 620.00,72.20 Z" fill="#8298be"/>
<path d="M620.00,72.20 C620.33,72.42 621.00,73.13 622.00,73.50 C623.00,73.87 624.67,74.40 626.00,74.40 C627.33,74.40 628.73,73.87 630.00,73.50 C631.27,73.13 633.00,72.42 633.60,72.20 Z" fill="#8298be"/>
<path d="M421.60,78.80 C422.20,80.25 423.93,85.13 425.20,87.50 C426.47,89.87 427.80,93.58 429.20,93.00 C430.60,92.42 432.17,87.80 433.60,84.00 C435.03,80.20 436.15,74.02 437.80,70.20 C439.45,66.38 441.77,62.73 443.50,61.10 C445.23,59.47 446.62,61.25 448.20,60.40 C449.78,59.55 451.42,57.47 453.00,56.00 C454.58,54.53 456.28,51.92 457.70,51.60 C459.12,51.28 460.23,53.53 461.50,54.10 C462.77,54.67 464.20,56.43 465.30,55.00 C466.40,53.57 467.00,50.23 468.10,45.50 C469.20,40.77 470.47,32.45 471.90,26.60 C473.33,20.75 475.27,12.47 476.70,10.40 C478.13,8.33 479.08,11.50 480.50,14.20 C481.92,16.90 483.62,22.90 485.20,26.60 C486.78,30.30 488.63,32.48 490.00,36.40 C491.37,40.32 492.27,44.02 493.40,50.10 C494.53,56.18 495.67,64.93 496.80,72.90 C497.93,80.87 498.87,91.83 500.20,97.90 C501.53,103.97 503.27,108.35 504.80,109.30 C506.33,110.25 507.88,105.32 509.40,103.60 C510.92,101.88 512.02,99.27 513.90,99.00 C515.78,98.73 518.80,102.75 520.70,102.00 C522.60,101.25 523.78,98.60 525.30,94.50 C526.82,90.40 528.28,82.15 529.80,77.40 C531.32,72.65 532.68,68.35 534.40,66.00 C536.12,63.65 538.20,63.10 540.10,63.30 C542.00,63.50 543.90,64.65 545.80,67.20 C547.70,69.75 549.80,75.38 551.50,78.60 C553.20,81.82 554.68,84.88 556.00,86.50 C557.32,88.12 557.88,89.05 559.40,88.30 C560.92,87.55 563.00,84.20 565.10,82.00 C567.20,79.80 570.10,76.25 572.00,75.10 C573.90,73.95 575.08,74.70 576.50,75.10 C577.92,75.50 579.17,76.85 580.50,77.50 C581.83,78.15 583.18,79.77 584.50,79.00 C585.82,78.23 587.10,75.83 588.40,72.90 C589.70,69.97 591.02,64.47 592.30,61.40 C593.58,58.33 594.70,56.03 596.10,54.50 C597.50,52.97 599.03,52.20 600.70,52.20 C602.37,52.20 604.18,53.22 606.10,54.50 C608.02,55.78 610.28,57.60 612.20,59.90 C614.12,62.20 616.07,65.75 617.60,68.30 C619.13,70.85 620.00,73.60 621.40,75.20 C622.80,76.80 624.47,78.03 626.00,77.90 C627.53,77.77 628.82,75.67 630.60,74.40 C632.38,73.13 634.40,71.13 636.70,70.30 C639.00,69.47 641.85,69.72 644.40,69.40 C646.95,69.08 649.45,68.40 652.00,68.40 C654.55,68.40 657.13,68.83 659.70,69.40 C662.27,69.97 665.23,71.03 667.40,71.80 C669.57,72.57 671.82,73.63 672.70,74.00" fill="none" stroke="#2e2e2e" stroke-width="0.9"/>
<text x="420.00" y="58.90" font-size="14.2" fill="#333" font-family='"Liberation Sans", sans-serif' stroke="#333" stroke-width="0.15" >c)</text>
<rect x="629" y="36.60" width="14.6" height="7.0" fill="#8298be"/>
<text x="650.60" y="43.90" font-size="9.6" fill="#333" font-family='"Liberation Sans", sans-serif' textLength="9.5" lengthAdjust="spacingAndGlyphs" stroke="#333" stroke-width="0.15" >Z3</text>
<line x1="629.00" y1="53.20" x2="643.60" y2="53.20" stroke="#5a5a5a" stroke-width="1.0" />
<text x="650.60" y="57.00" font-size="9.6" fill="#333" font-family='"Liberation Sans", sans-serif' textLength="23.5" lengthAdjust="spacingAndGlyphs" stroke="#333" stroke-width="0.15" >1.6 us</text>
<rect x="421.6" y="160.90" width="111.40" height="1" fill="#a8d1e8"/>
<rect x="571" y="160.90" width="62.10" height="1" fill="#a8d1e8"/>
<path d="M421.60,161.40 C422.08,162.33 423.32,165.25 424.50,167.00 C425.68,168.75 427.37,171.73 428.70,171.90 C430.03,172.07 431.15,169.75 432.50,168.00 C433.85,166.25 436.08,162.50 436.80,161.40 Z" fill="#a8d1e8"/>
<path d="M436.80,161.40 C437.17,160.92 438.20,159.38 439.00,158.50 C439.80,157.62 440.60,156.60 441.60,156.10 C442.60,155.60 443.90,155.57 445.00,155.50 C446.10,155.43 446.87,155.98 448.20,155.70 C449.53,155.42 451.42,154.52 453.00,153.80 C454.58,153.08 456.13,151.23 457.70,151.40 C459.27,151.57 460.82,153.52 462.40,154.80 C463.98,156.08 465.77,158.15 467.20,159.10 C468.63,160.05 469.73,160.43 471.00,160.50 C472.27,160.57 473.70,160.93 474.80,159.50 C475.90,158.07 476.65,155.68 477.60,151.90 C478.55,148.12 479.38,141.22 480.50,136.80 C481.62,132.38 483.20,127.78 484.30,125.40 C485.40,123.02 486.15,122.35 487.10,122.50 C488.05,122.65 489.05,124.08 490.00,126.30 C490.95,128.52 491.85,131.53 492.80,135.80 C493.75,140.07 495.00,147.63 495.70,151.90 C496.40,156.17 496.78,159.82 497.00,161.40 Z" fill="#a8d1e8"/>
<path d="M497.00,161.40 C497.42,162.98 498.62,167.10 499.50,170.90 C500.38,174.70 501.45,181.28 502.30,184.20 C503.15,187.12 503.65,189.03 504.60,188.40 C505.55,187.77 506.97,183.32 508.00,180.40 C509.03,177.48 509.85,173.18 510.80,170.90 C511.75,168.62 512.58,166.85 513.70,166.70 C514.82,166.55 516.23,168.73 517.50,170.00 C518.77,171.27 520.03,174.15 521.30,174.30 C522.57,174.45 523.83,172.42 525.10,170.90 C526.37,169.38 527.80,166.78 528.90,165.20 C530.00,163.62 531.23,162.03 531.70,161.40 Z" fill="#a8d1e8"/>
<path d="M571.80,161.40 C572.67,161.75 575.07,162.82 577.00,163.50 C578.93,164.18 581.73,165.42 583.40,165.50 C585.07,165.58 585.90,164.68 587.00,164.00 C588.10,163.32 589.50,161.83 590.00,161.40 Z" fill="#a8d1e8"/>
<path d="M590.80,161.40 C591.17,160.67 592.12,158.33 593.00,157.00 C593.88,155.67 594.70,154.47 596.10,153.40 C597.50,152.33 599.47,150.78 601.40,150.60 C603.33,150.42 605.77,151.30 607.70,152.30 C609.63,153.30 611.23,155.18 613.00,156.60 C614.77,158.02 617.22,160.00 618.30,160.80 C619.38,161.60 619.30,161.30 619.50,161.40 Z" fill="#a8d1e8"/>
<path d="M620.40,161.40 C620.83,161.63 622.12,162.48 623.00,162.80 C623.88,163.12 624.70,163.30 625.70,163.30 C626.70,163.30 627.77,163.12 629.00,162.80 C630.23,162.48 632.42,161.63 633.10,161.40 Z" fill="#a8d1e8"/>
<path d="M421.60,168.00 C422.20,169.45 423.93,174.33 425.20,176.70 C426.47,179.07 427.80,182.78 429.20,182.20 C430.60,181.62 432.17,177.00 433.60,173.20 C435.03,169.40 436.15,163.22 437.80,159.40 C439.45,155.58 441.77,151.93 443.50,150.30 C445.23,148.67 446.62,150.45 448.20,149.60 C449.78,148.75 451.42,146.67 453.00,145.20 C454.58,143.73 456.28,141.12 457.70,140.80 C459.12,140.48 460.23,142.73 461.50,143.30 C462.77,143.87 464.20,145.63 465.30,144.20 C466.40,142.77 467.00,139.43 468.10,134.70 C469.20,129.97 470.47,121.65 471.90,115.80 C473.33,109.95 475.27,101.67 476.70,99.60 C478.13,97.53 479.08,100.70 480.50,103.40 C481.92,106.10 483.62,112.10 485.20,115.80 C486.78,119.50 488.63,121.68 490.00,125.60 C491.37,129.52 492.27,133.22 493.40,139.30 C494.53,145.38 495.67,154.13 496.80,162.10 C497.93,170.07 498.87,181.03 500.20,187.10 C501.53,193.17 503.27,197.55 504.80,198.50 C506.33,199.45 507.88,194.52 509.40,192.80 C510.92,191.08 512.02,188.47 513.90,188.20 C515.78,187.93 518.80,191.95 520.70,191.20 C522.60,190.45 523.78,187.80 525.30,183.70 C526.82,179.60 528.28,171.35 529.80,166.60 C531.32,161.85 532.68,157.55 534.40,155.20 C536.12,152.85 538.20,152.30 540.10,152.50 C542.00,152.70 543.90,153.85 545.80,156.40 C547.70,158.95 549.80,164.58 551.50,167.80 C553.20,171.02 554.68,174.08 556.00,175.70 C557.32,177.32 557.88,178.25 559.40,177.50 C560.92,176.75 563.00,173.40 565.10,171.20 C567.20,169.00 570.10,165.45 572.00,164.30 C573.90,163.15 575.08,163.90 576.50,164.30 C577.92,164.70 579.17,166.05 580.50,166.70 C581.83,167.35 583.18,168.97 584.50,168.20 C585.82,167.43 587.10,165.03 588.40,162.10 C589.70,159.17 591.02,153.67 592.30,150.60 C593.58,147.53 594.70,145.23 596.10,143.70 C597.50,142.17 599.03,141.40 600.70,141.40 C602.37,141.40 604.18,142.42 606.10,143.70 C608.02,144.98 610.28,146.80 612.20,149.10 C614.12,151.40 616.07,154.95 617.60,157.50 C619.13,160.05 620.00,162.80 621.40,164.40 C622.80,166.00 624.47,167.23 626.00,167.10 C627.53,166.97 628.82,164.87 630.60,163.60 C632.38,162.33 634.40,160.33 636.70,159.50 C639.00,158.67 641.85,158.92 644.40,158.60 C646.95,158.28 649.45,157.60 652.00,157.60 C654.55,157.60 657.13,158.03 659.70,158.60 C662.27,159.17 665.23,160.23 667.40,161.00 C669.57,161.77 671.82,162.83 672.70,163.20" fill="none" stroke="#2e2e2e" stroke-width="0.9"/>
<text x="419.70" y="141.30" font-size="14.2" fill="#333" font-family='"Liberation Sans", sans-serif' stroke="#333" stroke-width="0.15" >d)</text>
<rect x="629" y="123.30" width="14.6" height="7.0" fill="#a8d1e8"/>
<text x="650.60" y="130.60" font-size="9.6" fill="#333" font-family='"Liberation Sans", sans-serif' textLength="9.8" lengthAdjust="spacingAndGlyphs" stroke="#333" stroke-width="0.15" >Z4</text>
<line x1="629.00" y1="139.90" x2="643.60" y2="139.90" stroke="#5a5a5a" stroke-width="1.0" />
<text x="650.60" y="143.70" font-size="9.6" fill="#333" font-family='"Liberation Sans", sans-serif' textLength="23.5" lengthAdjust="spacingAndGlyphs" stroke="#333" stroke-width="0.15" >1.6 us</text>
<rect x="421.6" y="250.70" width="113.40" height="1" fill="#f5dfd2"/>
<rect x="574" y="250.70" width="61.40" height="1" fill="#f5dfd2"/>
<path d="M421.10,251.20 C421.45,251.55 422.47,253.00 423.20,253.30 C423.93,253.60 424.82,253.18 425.50,253.00 C426.18,252.82 426.55,251.87 427.30,252.20 C428.05,252.53 428.98,253.80 430.00,255.00 C431.02,256.20 432.32,259.23 433.40,259.40 C434.48,259.57 435.48,257.37 436.50,256.00 C437.52,254.63 439.00,252.00 439.50,251.20 Z" fill="#f5dfd2"/>
<path d="M441.60,251.20 C441.92,250.97 442.82,250.10 443.50,249.80 C444.18,249.50 444.95,249.37 445.70,249.40 C446.45,249.43 447.33,249.70 448.00,250.00 C448.67,250.30 449.42,251.00 449.70,251.20 Z" fill="#f5dfd2"/>
<path d="M449.70,251.20 C450.08,251.58 451.13,252.90 452.00,253.50 C452.87,254.10 453.90,254.75 454.90,254.80 C455.90,254.85 456.98,254.13 458.00,253.80 C459.02,253.47 460.00,252.85 461.00,252.80 C462.00,252.75 462.83,252.80 464.00,253.50 C465.17,254.20 466.72,255.93 468.00,257.00 C469.28,258.07 470.53,259.90 471.70,259.90 C472.87,259.90 473.88,258.45 475.00,257.00 C476.12,255.55 477.83,252.17 478.40,251.20 Z" fill="#f5dfd2"/>
<path d="M478.40,251.20 C478.70,250.33 479.53,247.58 480.20,246.00 C480.87,244.42 481.40,242.58 482.40,241.70 C483.40,240.82 484.93,241.50 486.20,240.70 C487.47,239.90 488.90,238.32 490.00,236.90 C491.10,235.48 491.70,232.03 492.80,232.20 C493.90,232.37 495.33,236.73 496.60,237.90 C497.87,239.07 499.13,238.25 500.40,239.20 C501.67,240.15 503.10,242.08 504.20,243.60 C505.30,245.12 506.20,247.03 507.00,248.30 C507.80,249.57 508.67,250.72 509.00,251.20 Z" fill="#f5dfd2"/>
<path d="M509.00,251.20 C509.67,251.58 511.58,252.87 513.00,253.50 C514.42,254.13 515.80,253.97 517.50,255.00 C519.20,256.03 521.47,257.97 523.20,259.70 C524.93,261.43 526.48,265.72 527.90,265.40 C529.32,265.08 530.58,260.17 531.70,257.80 C532.82,255.43 534.12,252.30 534.60,251.20 Z" fill="#f5dfd2"/>
<path d="M574.70,251.20 C575.17,250.83 576.62,249.95 577.50,249.00 C578.38,248.05 579.20,246.35 580.00,245.50 C580.80,244.65 581.55,243.82 582.30,243.90 C583.05,243.98 583.88,245.07 584.50,246.00 C585.12,246.93 585.50,248.63 586.00,249.50 C586.50,250.37 587.25,250.92 587.50,251.20 Z" fill="#f5dfd2"/>
<path d="M587.50,251.20 C587.92,251.58 588.83,252.77 590.00,253.50 C591.17,254.23 593.17,255.52 594.50,255.60 C595.83,255.68 596.92,254.38 598.00,254.00 C599.08,253.62 599.83,253.27 601.00,253.30 C602.17,253.33 603.83,254.25 605.00,254.20 C606.17,254.15 606.83,253.20 608.00,253.00 C609.17,252.80 610.83,253.17 612.00,253.00 C613.17,252.83 614.02,252.30 615.00,252.00 C615.98,251.70 617.42,251.33 617.90,251.20 Z" fill="#f5dfd2"/>
<path d="M619.00,251.20 C619.50,251.75 621.00,253.48 622.00,254.50 C623.00,255.52 624.03,256.67 625.00,257.30 C625.97,257.93 626.80,258.52 627.80,258.30 C628.80,258.08 630.05,256.88 631.00,256.00 C631.95,255.12 632.77,253.80 633.50,253.00 C634.23,252.20 635.08,251.50 635.40,251.20 Z" fill="#f5dfd2"/>
<path d="M421.60,259.70 C422.33,261.17 424.42,265.97 426.00,268.50 C427.58,271.03 429.35,275.98 431.10,274.90 C432.85,273.82 434.60,268.02 436.50,262.00 C438.40,255.98 440.55,242.60 442.50,238.80 C444.45,235.00 446.45,239.92 448.20,239.20 C449.95,238.48 451.42,235.88 453.00,234.50 C454.58,233.12 456.28,230.82 457.70,230.90 C459.12,230.98 460.23,233.83 461.50,235.00 C462.77,236.17 463.88,239.78 465.30,237.90 C466.72,236.02 468.42,231.45 470.00,223.70 C471.58,215.95 473.22,197.90 474.80,191.40 C476.38,184.90 477.77,184.55 479.50,184.70 C481.23,184.85 483.30,189.45 485.20,192.30 C487.10,195.15 489.47,198.47 490.90,201.80 C492.33,205.13 492.85,207.08 493.80,212.30 C494.75,217.52 495.50,224.82 496.60,233.10 C497.70,241.38 499.37,254.72 500.40,262.00 C501.43,269.28 501.68,272.92 502.80,276.80 C503.92,280.68 505.73,283.77 507.10,285.30 C508.47,286.83 509.58,286.08 511.00,286.00 C512.42,285.92 513.88,284.43 515.60,284.80 C517.32,285.17 519.40,290.02 521.30,288.20 C523.20,286.38 525.10,279.60 527.00,273.90 C528.90,268.20 530.80,258.65 532.70,254.00 C534.60,249.35 536.27,247.80 538.40,246.00 C540.53,244.20 543.37,241.38 545.50,243.20 C547.63,245.02 549.30,252.48 551.20,256.90 C553.10,261.32 555.33,267.10 556.90,269.70 C558.47,272.30 558.93,273.68 560.60,272.50 C562.27,271.32 565.33,265.27 566.90,262.60 C568.47,259.93 568.90,258.77 570.00,256.50 C571.10,254.23 572.33,250.65 573.50,249.00 C574.67,247.35 575.83,246.60 577.00,246.60 C578.17,246.60 578.93,247.50 580.50,249.00 C582.07,250.50 584.83,254.83 586.40,255.60 C587.97,256.37 588.73,255.58 589.90,253.60 C591.07,251.62 592.23,246.72 593.40,243.70 C594.57,240.68 595.70,237.30 596.90,235.50 C598.10,233.70 599.25,232.90 600.60,232.90 C601.95,232.90 603.77,234.77 605.00,235.50 C606.23,236.23 606.83,236.62 608.00,237.30 C609.17,237.98 610.65,238.25 612.00,239.60 C613.35,240.95 614.73,242.97 616.10,245.40 C617.47,247.83 618.93,251.47 620.20,254.20 C621.47,256.93 622.53,260.15 623.70,261.80 C624.87,263.45 626.03,264.20 627.20,264.10 C628.37,264.00 629.33,263.05 630.70,261.20 C632.07,259.35 633.85,255.13 635.40,253.00 C636.95,250.87 638.45,249.47 640.00,248.40 C641.55,247.33 643.03,246.80 644.70,246.60 C646.37,246.40 648.28,246.90 650.00,247.20 C651.72,247.50 653.20,247.98 655.00,248.40 C656.80,248.82 658.97,249.18 660.80,249.70 C662.63,250.22 664.10,250.68 666.00,251.50 C667.90,252.32 671.17,254.08 672.20,254.60" fill="none" stroke="#2e2e2e" stroke-width="0.9"/>
<text x="419.70" y="231.20" font-size="14.2" fill="#333" font-family='"Liberation Sans", sans-serif' stroke="#333" stroke-width="0.15" >e)</text>
<rect x="629" y="219.30" width="14.6" height="7.0" fill="#f5dfd2"/>
<text x="650.60" y="226.60" font-size="9.6" fill="#333" font-family='"Liberation Sans", sans-serif' textLength="8.6" lengthAdjust="spacingAndGlyphs" stroke="#333" stroke-width="0.15" >T1</text>
<line x1="629.00" y1="235.90" x2="643.60" y2="235.90" stroke="#5a5a5a" stroke-width="1.0" />
<text x="650.60" y="239.70" font-size="9.6" fill="#333" font-family='"Liberation Sans", sans-serif' textLength="23.5" lengthAdjust="spacingAndGlyphs" stroke="#333" stroke-width="0.15" >1.6 us</text>
<rect x="421.6" y="331.90" width="108.40" height="1" fill="#e4f2f6"/>
<rect x="579" y="331.90" width="57.00" height="1" fill="#e4f2f6"/>
<path d="M421.60,332.40 C421.60,330.83 421.12,325.15 421.60,323.00 C422.08,320.85 423.07,318.92 424.50,319.50 C425.93,320.08 428.45,324.35 430.20,326.50 C431.95,328.65 434.20,331.42 435.00,332.40 Z" fill="#e4f2f6"/>
<path d="M437.00,332.40 C437.77,331.50 440.05,331.23 441.60,327.00 C443.15,322.77 444.57,312.67 446.30,307.00 C448.03,301.33 450.25,294.75 452.00,293.00 C453.75,291.25 455.22,294.33 456.80,296.50 C458.38,298.67 460.13,302.08 461.50,306.00 C462.87,309.92 464.12,315.60 465.00,320.00 C465.88,324.40 466.50,330.33 466.80,332.40 Z" fill="#e4f2f6"/>
<path d="M466.80,332.40 C467.18,334.67 467.93,340.32 469.10,346.00 C470.27,351.68 472.22,366.00 473.80,366.50 C475.38,367.00 477.35,354.68 478.60,349.00 C479.85,343.32 480.85,335.17 481.30,332.40 Z" fill="#e4f2f6"/>
<path d="M481.30,332.40 C481.63,329.33 482.33,320.15 483.30,314.00 C484.27,307.85 485.98,299.00 487.10,295.50 C488.22,292.00 488.80,291.92 490.00,293.00 C491.20,294.08 492.97,297.50 494.30,302.00 C495.63,306.50 497.13,314.93 498.00,320.00 C498.87,325.07 499.25,330.33 499.50,332.40 Z" fill="#e4f2f6"/>
<path d="M499.50,332.40 C500.77,337.33 504.65,354.13 507.10,362.00 C509.55,369.87 512.22,378.60 514.20,379.60 C516.18,380.60 517.37,372.93 519.00,368.00 C520.63,363.07 522.33,355.93 524.00,350.00 C525.67,344.07 528.17,335.33 529.00,332.40 Z" fill="#e4f2f6"/>
<path d="M580.00,332.40 C580.67,332.75 582.67,334.50 584.00,334.50 C585.33,334.50 587.33,332.75 588.00,332.40 Z" fill="#e4f2f6"/>
<path d="M590.00,332.40 C590.88,331.08 593.47,327.55 595.30,324.50 C597.13,321.45 599.22,315.52 601.00,314.10 C602.78,312.68 604.50,314.68 606.00,316.00 C607.50,317.32 608.50,319.27 610.00,322.00 C611.50,324.73 614.17,330.67 615.00,332.40 Z" fill="#e4f2f6"/>
<path d="M615.00,332.40 C615.98,334.67 619.05,342.17 620.90,346.00 C622.75,349.83 624.42,355.90 626.10,355.40 C627.78,354.90 629.35,346.83 631.00,343.00 C632.65,339.17 635.17,334.17 636.00,332.40 Z" fill="#e4f2f6"/>
<path d="M421.60,321.20 C422.08,320.57 423.07,316.77 424.50,317.40 C425.93,318.03 428.15,322.52 430.20,325.00 C432.25,327.48 434.90,332.30 436.80,332.30 C438.70,332.30 440.02,329.68 441.60,325.00 C443.18,320.32 444.57,310.05 446.30,304.20 C448.03,298.35 450.25,291.65 452.00,289.90 C453.75,288.15 455.22,291.32 456.80,293.70 C458.38,296.08 460.08,299.93 461.50,304.20 C462.92,308.47 464.03,312.35 465.30,319.30 C466.57,326.25 467.68,337.67 469.10,345.90 C470.52,354.13 472.22,368.07 473.80,368.70 C475.38,369.33 477.02,359.18 478.60,349.70 C480.18,340.22 481.88,321.45 483.30,311.80 C484.72,302.15 485.98,295.60 487.10,291.80 C488.22,288.00 488.80,287.65 490.00,289.00 C491.20,290.35 492.63,292.87 494.30,299.90 C495.97,306.93 497.87,320.30 500.00,331.20 C502.13,342.10 504.73,356.38 507.10,365.30 C509.47,374.22 511.83,383.75 514.20,384.70 C516.57,385.65 518.68,378.02 521.30,371.00 C523.92,363.98 527.28,350.90 529.90,342.60 C532.52,334.30 534.63,325.85 537.00,321.20 C539.37,316.55 541.97,313.98 544.10,314.70 C546.23,315.42 547.90,318.48 549.80,325.50 C551.70,332.52 553.60,348.73 555.50,356.80 C557.40,364.87 559.30,373.43 561.20,373.90 C563.10,374.37 564.77,365.77 566.90,359.60 C569.03,353.43 571.73,342.12 574.00,336.90 C576.27,331.68 578.83,329.45 580.50,328.30 C582.17,327.15 582.72,329.28 584.00,330.00 C585.28,330.72 586.32,333.60 588.20,332.60 C590.08,331.60 592.93,326.13 595.30,324.00 C597.67,321.87 600.02,320.42 602.40,319.80 C604.78,319.18 607.47,318.65 609.60,320.30 C611.73,321.95 613.32,325.05 615.20,329.70 C617.08,334.35 619.08,343.45 620.90,348.20 C622.72,352.95 624.20,359.13 626.10,358.20 C628.00,357.27 630.08,346.97 632.30,342.60 C634.52,338.23 637.02,334.15 639.40,332.00 C641.78,329.85 643.98,330.08 646.60,329.70 C649.22,329.32 650.83,329.08 655.10,329.70 C659.37,330.32 669.35,332.78 672.20,333.40" fill="none" stroke="#2e2e2e" stroke-width="0.9"/>
<text x="423.50" y="308.70" font-size="14.2" fill="#333" font-family='"Liberation Sans", sans-serif' stroke="#333" stroke-width="0.15" >f)</text>
<rect x="629" y="303.30" width="14.6" height="7.0" fill="#e4f2f6"/>
<text x="650.60" y="310.60" font-size="9.6" fill="#333" font-family='"Liberation Sans", sans-serif' textLength="9.1" lengthAdjust="spacingAndGlyphs" stroke="#333" stroke-width="0.15" >S1</text>
<line x1="629.00" y1="319.90" x2="643.60" y2="319.90" stroke="#5a5a5a" stroke-width="1.0" />
<text x="650.60" y="323.70" font-size="9.6" fill="#333" font-family='"Liberation Sans", sans-serif' textLength="33.2" lengthAdjust="spacingAndGlyphs" stroke="#333" stroke-width="0.15" >98.53 ps</text>
<rect x="420.8" y="431.70" width="112.50" height="1" fill="#ea9a99"/>
<rect x="583" y="431.70" width="53.00" height="1" fill="#ea9a99"/>
<path d="M420.80,432.20 C420.80,434.00 420.27,442.37 420.80,443.00 C421.33,443.63 422.97,437.80 424.00,436.00 C425.03,434.20 426.50,432.83 427.00,432.20 Z" fill="#ea9a99"/>
<path d="M436.50,432.20 C436.83,431.00 437.87,428.17 438.50,425.00 C439.13,421.83 439.35,419.17 440.30,413.20 C441.25,407.23 442.75,394.52 444.20,389.20 C445.65,383.88 447.45,381.73 449.00,381.30 C450.55,380.87 452.17,384.92 453.50,386.60 C454.83,388.28 455.67,391.18 457.00,391.40 C458.33,391.62 460.30,386.93 461.50,387.90 C462.70,388.87 463.32,391.22 464.20,397.20 C465.08,403.18 466.05,417.97 466.80,423.80 C467.55,429.63 468.38,430.80 468.70,432.20 Z" fill="#ea9a99"/>
<path d="M468.70,432.20 C469.08,435.50 470.12,446.75 471.00,452.00 C471.88,457.25 473.00,464.03 474.00,463.70 C475.00,463.37 476.17,455.25 477.00,450.00 C477.83,444.75 478.67,435.17 479.00,432.20 Z" fill="#ea9a99"/>
<path d="M481.00,432.20 C481.17,428.50 481.40,416.27 482.00,410.00 C482.60,403.73 483.45,398.95 484.60,394.60 C485.75,390.25 487.43,384.35 488.90,383.90 C490.37,383.45 491.98,389.23 493.40,391.90 C494.82,394.57 496.07,395.47 497.40,399.90 C498.73,404.33 500.42,413.12 501.40,418.50 C502.38,423.88 502.98,429.92 503.30,432.20 Z" fill="#ea9a99"/>
<path d="M503.30,432.20 C504.08,437.00 506.55,453.77 508.00,461.00 C509.45,468.23 510.45,473.83 512.00,475.60 C513.55,477.37 515.30,474.03 517.30,471.60 C519.30,469.17 522.00,465.42 524.00,461.00 C526.00,456.58 527.75,449.90 529.30,445.10 C530.85,440.30 532.63,434.35 533.30,432.20 Z" fill="#ea9a99"/>
<path d="M587.00,432.20 C587.33,433.83 588.38,439.57 589.00,442.00 C589.62,444.43 590.03,447.13 590.70,446.80 C591.37,446.47 592.28,442.43 593.00,440.00 C593.72,437.57 594.67,433.50 595.00,432.20 Z" fill="#ea9a99"/>
<path d="M595.50,432.20 C595.83,429.83 596.78,421.73 597.50,418.00 C598.22,414.27 598.92,412.80 599.80,409.80 C600.68,406.80 601.28,401.12 602.80,400.00 C604.32,398.88 607.13,400.47 608.90,403.10 C610.67,405.73 612.22,410.95 613.40,415.80 C614.58,420.65 615.57,429.47 616.00,432.20 Z" fill="#ea9a99"/>
<path d="M616.00,432.20 C616.58,435.17 617.92,445.15 619.50,450.00 C621.08,454.85 623.75,461.30 625.50,461.30 C627.25,461.30 628.25,454.85 630.00,450.00 C631.75,445.15 635.00,435.17 636.00,432.20 Z" fill="#ea9a99"/>
<path d="M420.80,447.20 C421.38,445.52 423.05,439.45 424.30,437.10 C425.55,434.75 426.75,433.98 428.30,433.10 C429.85,432.22 432.05,433.35 433.60,431.80 C435.15,430.25 436.27,429.57 437.60,423.80 C438.93,418.03 440.27,405.17 441.60,397.20 C442.93,389.23 444.27,380.52 445.60,376.00 C446.93,371.48 448.28,369.88 449.60,370.10 C450.92,370.32 452.40,375.43 453.50,377.30 C454.60,379.17 455.08,380.87 456.20,381.30 C457.32,381.73 459.10,379.23 460.20,379.90 C461.30,380.57 461.70,379.32 462.80,385.30 C463.90,391.28 465.47,404.07 466.80,415.80 C468.13,427.53 469.60,446.75 470.80,455.70 C472.00,464.65 472.88,470.38 474.00,469.50 C475.12,468.62 476.03,463.33 477.50,450.40 C478.97,437.47 481.25,404.08 482.80,391.90 C484.35,379.72 485.60,380.05 486.80,377.30 C488.00,374.55 488.68,373.85 490.00,375.40 C491.32,376.95 493.02,381.63 494.70,386.60 C496.38,391.57 498.55,397.23 500.10,405.20 C501.65,413.17 502.68,423.33 504.00,434.40 C505.32,445.47 506.53,462.73 508.00,471.60 C509.47,480.47 511.25,486.27 512.80,487.60 C514.35,488.93 515.43,483.15 517.30,479.60 C519.17,476.05 521.88,472.13 524.00,466.30 C526.12,460.47 527.98,451.50 530.00,444.60 C532.02,437.70 534.08,432.22 536.10,424.90 C538.12,417.58 540.43,405.35 542.10,400.70 C543.77,396.05 544.83,396.00 546.10,397.00 C547.37,398.00 548.33,399.02 549.70,406.70 C551.07,414.38 552.78,432.48 554.30,443.10 C555.82,453.72 557.55,464.33 558.80,470.40 C560.05,476.47 560.53,480.00 561.80,479.50 C563.07,479.00 564.62,474.47 566.40,467.40 C568.18,460.33 570.48,446.20 572.50,437.10 C574.52,428.00 577.08,417.00 578.50,412.80 C579.92,408.60 579.98,410.13 581.00,411.90 C582.02,413.67 583.25,418.20 584.60,423.40 C585.95,428.60 587.83,439.30 589.10,443.10 C590.37,446.90 591.18,448.22 592.20,446.20 C593.22,444.18 593.93,438.08 595.20,431.00 C596.47,423.92 598.28,410.02 599.80,403.70 C601.32,397.38 602.68,394.12 604.30,393.10 C605.92,392.08 607.73,393.30 609.50,397.60 C611.27,401.90 613.23,409.28 614.90,418.90 C616.57,428.52 617.73,446.97 619.50,455.30 C621.27,463.63 623.73,468.90 625.50,468.90 C627.27,468.90 628.58,461.12 630.10,455.30 C631.62,449.48 633.08,439.17 634.60,434.00 C636.12,428.83 637.17,426.32 639.20,424.30 C641.23,422.28 644.53,422.05 646.80,421.90 C649.07,421.75 650.78,422.13 652.80,423.40 C654.82,424.67 656.87,427.98 658.90,429.50 C660.93,431.02 662.72,432.50 665.00,432.50 C667.28,432.50 671.33,430.00 672.60,429.50" fill="none" stroke="#2e2e2e" stroke-width="0.9"/>
<text x="421.80" y="403.00" font-size="14.5" fill="#222" font-family='"Liberation Serif", serif' >g)</text>
<rect x="629" y="399.10" width="14.6" height="7.0" fill="#ea9a99"/>
<text x="650.60" y="406.40" font-size="9.6" fill="#333" font-family='"Liberation Sans", sans-serif' textLength="25.6" lengthAdjust="spacingAndGlyphs" stroke="#333" stroke-width="0.15" >Hot S1</text>
<line x1="629.00" y1="415.70" x2="643.60" y2="415.70" stroke="#5a5a5a" stroke-width="1.0" />
<text x="650.60" y="419.50" font-size="9.6" fill="#333" font-family='"Liberation Sans", sans-serif' textLength="28.8" lengthAdjust="spacingAndGlyphs" stroke="#333" stroke-width="0.15" >2.56 ps</text>
<line x1="421.40" y1="497.40" x2="672.30" y2="497.40" stroke="#888" stroke-width="0.9" />
<line x1="421.40" y1="497.40" x2="421.40" y2="500.00" stroke="#888" stroke-width="0.7" />
<text x="421.40" y="510.00" font-size="10.0" fill="#333" font-family='"Liberation Sans", sans-serif' text-anchor="middle" textLength="21.3" lengthAdjust="spacingAndGlyphs" stroke="#333" stroke-width="0.15" >1200</text>
<line x1="431.43" y1="497.40" x2="431.43" y2="498.70" stroke="#888" stroke-width="0.7" />
<line x1="441.46" y1="497.40" x2="441.46" y2="498.70" stroke="#888" stroke-width="0.7" />
<line x1="451.50" y1="497.40" x2="451.50" y2="498.70" stroke="#888" stroke-width="0.7" />
<line x1="461.53" y1="497.40" x2="461.53" y2="498.70" stroke="#888" stroke-width="0.7" />
<line x1="471.56" y1="497.40" x2="471.56" y2="500.00" stroke="#888" stroke-width="0.7" />
<text x="471.56" y="510.00" font-size="10.0" fill="#333" font-family='"Liberation Sans", sans-serif' text-anchor="middle" textLength="21.3" lengthAdjust="spacingAndGlyphs" stroke="#333" stroke-width="0.15" >1300</text>
<line x1="481.59" y1="497.40" x2="481.59" y2="498.70" stroke="#888" stroke-width="0.7" />
<line x1="491.62" y1="497.40" x2="491.62" y2="498.70" stroke="#888" stroke-width="0.7" />
<line x1="501.66" y1="497.40" x2="501.66" y2="498.70" stroke="#888" stroke-width="0.7" />
<line x1="511.69" y1="497.40" x2="511.69" y2="498.70" stroke="#888" stroke-width="0.7" />
<line x1="521.72" y1="497.40" x2="521.72" y2="500.00" stroke="#888" stroke-width="0.7" />
<text x="521.72" y="510.00" font-size="10.0" fill="#333" font-family='"Liberation Sans", sans-serif' text-anchor="middle" textLength="21.3" lengthAdjust="spacingAndGlyphs" stroke="#333" stroke-width="0.15" >1400</text>
<line x1="531.75" y1="497.40" x2="531.75" y2="498.70" stroke="#888" stroke-width="0.7" />
<line x1="541.78" y1="497.40" x2="541.78" y2="498.70" stroke="#888" stroke-width="0.7" />
<line x1="551.82" y1="497.40" x2="551.82" y2="498.70" stroke="#888" stroke-width="0.7" />
<line x1="561.85" y1="497.40" x2="561.85" y2="498.70" stroke="#888" stroke-width="0.7" />
<line x1="571.88" y1="497.40" x2="571.88" y2="500.00" stroke="#888" stroke-width="0.7" />
<text x="571.88" y="510.00" font-size="10.0" fill="#333" font-family='"Liberation Sans", sans-serif' text-anchor="middle" textLength="21.3" lengthAdjust="spacingAndGlyphs" stroke="#333" stroke-width="0.15" >1500</text>
<line x1="581.91" y1="497.40" x2="581.91" y2="498.70" stroke="#888" stroke-width="0.7" />
<line x1="591.94" y1="497.40" x2="591.94" y2="498.70" stroke="#888" stroke-width="0.7" />
<line x1="601.98" y1="497.40" x2="601.98" y2="498.70" stroke="#888" stroke-width="0.7" />
<line x1="612.01" y1="497.40" x2="612.01" y2="498.70" stroke="#888" stroke-width="0.7" />
<line x1="622.04" y1="497.40" x2="622.04" y2="500.00" stroke="#888" stroke-width="0.7" />
<text x="622.04" y="510.00" font-size="10.0" fill="#333" font-family='"Liberation Sans", sans-serif' text-anchor="middle" textLength="21.3" lengthAdjust="spacingAndGlyphs" stroke="#333" stroke-width="0.15" >1600</text>
<line x1="632.07" y1="497.40" x2="632.07" y2="498.70" stroke="#888" stroke-width="0.7" />
<line x1="642.10" y1="497.40" x2="642.10" y2="498.70" stroke="#888" stroke-width="0.7" />
<line x1="652.14" y1="497.40" x2="652.14" y2="498.70" stroke="#888" stroke-width="0.7" />
<line x1="662.17" y1="497.40" x2="662.17" y2="498.70" stroke="#888" stroke-width="0.7" />
<line x1="672.20" y1="497.40" x2="672.20" y2="500.00" stroke="#888" stroke-width="0.7" />
<text x="672.20" y="510.00" font-size="10.0" fill="#333" font-family='"Liberation Sans", sans-serif' text-anchor="middle" textLength="21.3" lengthAdjust="spacingAndGlyphs" stroke="#333" stroke-width="0.15" >1700</text>
<text x="501.90" y="524.40" font-size="11.6" fill="#333" font-family='"Liberation Sans", sans-serif' textLength="83.6" lengthAdjust="spacingAndGlyphs" stroke="#333" stroke-width="0.15" >Raman shift / cm</text>
<text x="586.00" y="519.00" font-size="7.0" fill="#333" font-family='"Liberation Sans", sans-serif' stroke="#333" stroke-width="0.15" >-1</text>
<text transform="translate(401.2,292.5) rotate(-90)" font-size="11.6" fill="#333" font-family='"Liberation Sans", sans-serif' textLength="77.8" lengthAdjust="spacingAndGlyphs">Δ Intensity × 10</text>
<text transform="translate(396.0,214.3) rotate(-90)" font-size="7.4" fill="#333" font-family='"Liberation Sans", sans-serif'>-3</text>
</svg></body></html>
